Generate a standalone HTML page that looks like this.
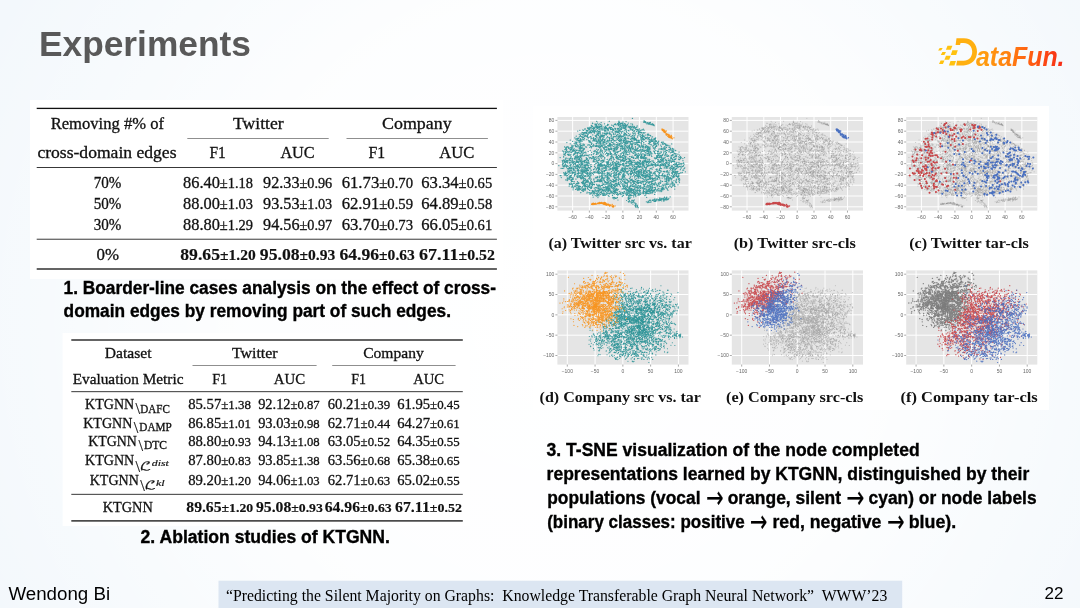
<!DOCTYPE html>
<html><head><meta charset="utf-8"><title>Experiments</title>
<style>html,body{margin:0;padding:0;background:#f3f8fc;}svg{display:block;}</style></head>
<body><svg width="1080" height="608" viewBox="0 0 1080 608">
<defs><radialGradient id="bgw" cx="560" cy="320" r="640" gradientUnits="userSpaceOnUse"><stop offset="0" stop-color="#ffffff"/><stop offset="0.5" stop-color="#ffffff" stop-opacity="0.85"/><stop offset="1" stop-color="#ffffff" stop-opacity="0"/></radialGradient><linearGradient id="lg" x1="0" y1="0" x2="1" y2="0"><stop offset="0" stop-color="#ffa410"/><stop offset="0.35" stop-color="#ff8210"/><stop offset="0.55" stop-color="#ff6612"/><stop offset="0.8" stop-color="#fc4514"/><stop offset="1" stop-color="#f52a18"/></linearGradient></defs>
<rect width="1080" height="608" fill="#f3f8fc"/>
<rect width="1080" height="608" fill="url(#bgw)"/>
<text x="39.00" y="56.40" font-family="'Liberation Sans', sans-serif" font-size="34.5" font-weight="bold" fill="#595959" textLength="211.90" lengthAdjust="spacingAndGlyphs">Experiments</text>
<polygon points="947.5,45.8 952.4,45.8 950.8,49.7 945.9,49.7" fill="#ffc20f"/>
<polygon points="939.7,47.9 942.7,47.9 941.1,50.6 938.1,50.6" fill="#ffc20f"/>
<polygon points="952.4,50.3 957.8,50.3 956.2,54.9 950.8,54.9" fill="#ffc20f"/>
<polygon points="942.4,51.9 946.0,51.9 944.4,54.9 940.8,54.9" fill="#ffc20f"/>
<polygon points="946.0,55.8 950.8,55.8 949.2,59.7 944.4,59.7" fill="#ffc20f"/>
<polygon points="940.6,60.6 944.5,60.6 942.9,63.9 939.0,63.9" fill="#ffc20f"/>
<polygon points="950.5,60.9 956.0,60.9 954.4,65.4 948.9,65.4" fill="#ffc20f"/>
<path d="M956.5,38.3 H964 C972,38.3 977,44.5 977,51.8 C977,59.5 971.5,65.4 963.5,65.4 H956.2 L957,60.8 H963.8 C968.8,60.8 972.2,57 972.2,51.8 C972.2,46.6 968.8,43 963.8,43 H960.6 L960,45 H955.6 Z" fill="#ffb010"/>
<text x="976" y="65.8" font-family="'Liberation Sans', sans-serif" font-size="27.5" font-weight="bold" font-style="italic" fill="url(#lg)" textLength="88.5" lengthAdjust="spacingAndGlyphs">ataFun.</text>
<rect x="30" y="100" width="473" height="179" fill="#ffffff"/>
<rect x="36.70" y="107.75" width="460.20" height="1.30" fill="#111"/>
<rect x="187.30" y="138.10" width="141.40" height="0.60" fill="#444"/>
<rect x="346.50" y="138.10" width="141.40" height="0.60" fill="#444"/>
<rect x="36.70" y="167.05" width="460.20" height="0.90" fill="#222"/>
<rect x="36.70" y="238.75" width="460.20" height="0.90" fill="#222"/>
<rect x="36.70" y="268.35" width="460.20" height="1.30" fill="#111"/>
<text x="50.70" y="128.60" font-family="'Liberation Serif', serif" font-size="16" fill="#111" textLength="113.30" lengthAdjust="spacingAndGlyphs" stroke="#111" stroke-width="0.3">Removing #% of</text>
<text x="233.10" y="128.70" font-family="'Liberation Serif', serif" font-size="16" fill="#111" textLength="50.60" lengthAdjust="spacingAndGlyphs" stroke="#111" stroke-width="0.3">Twitter</text>
<text x="382.10" y="128.70" font-family="'Liberation Serif', serif" font-size="16" fill="#111" textLength="69.50" lengthAdjust="spacingAndGlyphs" stroke="#111" stroke-width="0.3">Company</text>
<text x="37.40" y="157.70" font-family="'Liberation Serif', serif" font-size="16" fill="#111" textLength="139.10" lengthAdjust="spacingAndGlyphs" stroke="#111" stroke-width="0.3">cross-domain edges</text>
<text x="209.50" y="157.70" font-family="'Liberation Serif', serif" font-size="16" fill="#111" textLength="16.30" lengthAdjust="spacingAndGlyphs" stroke="#111" stroke-width="0.3">F1</text>
<text x="280.40" y="157.70" font-family="'Liberation Serif', serif" font-size="16" fill="#111" textLength="34.30" lengthAdjust="spacingAndGlyphs" stroke="#111" stroke-width="0.3">AUC</text>
<text x="368.40" y="157.70" font-family="'Liberation Serif', serif" font-size="16" fill="#111" textLength="16.60" lengthAdjust="spacingAndGlyphs" stroke="#111" stroke-width="0.3">F1</text>
<text x="439.30" y="157.70" font-family="'Liberation Serif', serif" font-size="16" fill="#111" textLength="35.10" lengthAdjust="spacingAndGlyphs" stroke="#111" stroke-width="0.3">AUC</text>
<text x="93.80" y="187.90" font-family="'Liberation Serif', serif" font-size="16" fill="#111" textLength="27.60" lengthAdjust="spacingAndGlyphs" stroke="#111" stroke-width="0.3">70%</text>
<text x="183.00" y="187.90" font-family="'Liberation Serif', serif" font-size="16" font-weight="normal" fill="#111" stroke="#111" stroke-width="0.3" textLength="70.00" lengthAdjust="spacingAndGlyphs">86.40<tspan font-size="14.08">±1.18</tspan></text>
<text x="263.10" y="187.90" font-family="'Liberation Serif', serif" font-size="16" font-weight="normal" fill="#111" stroke="#111" stroke-width="0.3" textLength="69.10" lengthAdjust="spacingAndGlyphs">92.33<tspan font-size="14.08">±0.96</tspan></text>
<text x="341.70" y="187.90" font-family="'Liberation Serif', serif" font-size="16" font-weight="normal" fill="#111" stroke="#111" stroke-width="0.3" textLength="71.30" lengthAdjust="spacingAndGlyphs">61.73<tspan font-size="14.08">±0.70</tspan></text>
<text x="421.30" y="187.90" font-family="'Liberation Serif', serif" font-size="16" font-weight="normal" fill="#111" stroke="#111" stroke-width="0.3" textLength="70.90" lengthAdjust="spacingAndGlyphs">63.34<tspan font-size="14.08">±0.65</tspan></text>
<text x="93.80" y="208.90" font-family="'Liberation Serif', serif" font-size="16" fill="#111" textLength="27.60" lengthAdjust="spacingAndGlyphs" stroke="#111" stroke-width="0.3">50%</text>
<text x="183.00" y="208.90" font-family="'Liberation Serif', serif" font-size="16" font-weight="normal" fill="#111" stroke="#111" stroke-width="0.3" textLength="70.00" lengthAdjust="spacingAndGlyphs">88.00<tspan font-size="14.08">±1.03</tspan></text>
<text x="263.10" y="208.90" font-family="'Liberation Serif', serif" font-size="16" font-weight="normal" fill="#111" stroke="#111" stroke-width="0.3" textLength="69.10" lengthAdjust="spacingAndGlyphs">93.53<tspan font-size="14.08">±1.03</tspan></text>
<text x="341.70" y="208.90" font-family="'Liberation Serif', serif" font-size="16" font-weight="normal" fill="#111" stroke="#111" stroke-width="0.3" textLength="71.30" lengthAdjust="spacingAndGlyphs">62.91<tspan font-size="14.08">±0.59</tspan></text>
<text x="421.30" y="208.90" font-family="'Liberation Serif', serif" font-size="16" font-weight="normal" fill="#111" stroke="#111" stroke-width="0.3" textLength="70.90" lengthAdjust="spacingAndGlyphs">64.89<tspan font-size="14.08">±0.58</tspan></text>
<text x="93.80" y="229.70" font-family="'Liberation Serif', serif" font-size="16" fill="#111" textLength="27.60" lengthAdjust="spacingAndGlyphs" stroke="#111" stroke-width="0.3">30%</text>
<text x="183.00" y="229.70" font-family="'Liberation Serif', serif" font-size="16" font-weight="normal" fill="#111" stroke="#111" stroke-width="0.3" textLength="70.00" lengthAdjust="spacingAndGlyphs">88.80<tspan font-size="14.08">±1.29</tspan></text>
<text x="263.10" y="229.70" font-family="'Liberation Serif', serif" font-size="16" font-weight="normal" fill="#111" stroke="#111" stroke-width="0.3" textLength="69.10" lengthAdjust="spacingAndGlyphs">94.56<tspan font-size="14.08">±0.97</tspan></text>
<text x="341.70" y="229.70" font-family="'Liberation Serif', serif" font-size="16" font-weight="normal" fill="#111" stroke="#111" stroke-width="0.3" textLength="71.30" lengthAdjust="spacingAndGlyphs">63.70<tspan font-size="14.08">±0.73</tspan></text>
<text x="421.30" y="229.70" font-family="'Liberation Serif', serif" font-size="16" font-weight="normal" fill="#111" stroke="#111" stroke-width="0.3" textLength="70.90" lengthAdjust="spacingAndGlyphs">66.05<tspan font-size="14.08">±0.61</tspan></text>
<text x="96.60" y="259.50" font-family="'Liberation Serif', serif" font-size="16" fill="#111" textLength="22.50" lengthAdjust="spacingAndGlyphs" stroke="#111" stroke-width="0.3">0%</text>
<text x="180.30" y="259.50" font-family="'Liberation Serif', serif" font-size="16" font-weight="bold" fill="#111" stroke="#111" stroke-width="0.15" textLength="75.40" lengthAdjust="spacingAndGlyphs">89.65<tspan font-size="14.08">±1.20</tspan></text>
<text x="259.80" y="259.50" font-family="'Liberation Serif', serif" font-size="16" font-weight="bold" fill="#111" stroke="#111" stroke-width="0.15" textLength="75.50" lengthAdjust="spacingAndGlyphs">95.08<tspan font-size="14.08">±0.93</tspan></text>
<text x="339.40" y="259.50" font-family="'Liberation Serif', serif" font-size="16" font-weight="bold" fill="#111" stroke="#111" stroke-width="0.15" textLength="75.40" lengthAdjust="spacingAndGlyphs">64.96<tspan font-size="14.08">±0.63</tspan></text>
<text x="418.90" y="259.50" font-family="'Liberation Serif', serif" font-size="16" font-weight="bold" fill="#111" stroke="#111" stroke-width="0.15" textLength="76.00" lengthAdjust="spacingAndGlyphs">67.11<tspan font-size="14.08">±0.52</tspan></text>
<text x="63.60" y="294.40" font-family="'Liberation Sans', sans-serif" font-size="18" font-weight="bold" fill="#000" textLength="432.40" lengthAdjust="spacingAndGlyphs" stroke="#000" stroke-width="0.35">1. Boarder-line cases analysis on the effect of cross-</text>
<text x="63.60" y="317.10" font-family="'Liberation Sans', sans-serif" font-size="18" font-weight="bold" fill="#000" textLength="387.40" lengthAdjust="spacingAndGlyphs" stroke="#000" stroke-width="0.35">domain edges by removing part of such edges.</text>
<rect x="62.6" y="333" width="407.4" height="193" fill="#ffffff"/>
<rect x="71.30" y="339.35" width="391.50" height="1.30" fill="#111"/>
<rect x="192.50" y="365.30" width="124.10" height="0.60" fill="#444"/>
<rect x="332.20" y="365.30" width="123.40" height="0.60" fill="#444"/>
<rect x="71.30" y="391.25" width="391.50" height="0.90" fill="#222"/>
<rect x="71.30" y="493.85" width="391.50" height="0.90" fill="#222"/>
<rect x="71.30" y="520.25" width="391.50" height="1.30" fill="#111"/>
<text x="104.70" y="357.60" font-family="'Liberation Serif', serif" font-size="15" fill="#111" textLength="46.80" lengthAdjust="spacingAndGlyphs" stroke="#111" stroke-width="0.3">Dataset</text>
<text x="231.90" y="357.80" font-family="'Liberation Serif', serif" font-size="15" fill="#111" textLength="45.70" lengthAdjust="spacingAndGlyphs" stroke="#111" stroke-width="0.3">Twitter</text>
<text x="363.20" y="357.80" font-family="'Liberation Serif', serif" font-size="15" fill="#111" textLength="60.60" lengthAdjust="spacingAndGlyphs" stroke="#111" stroke-width="0.3">Company</text>
<text x="72.70" y="383.70" font-family="'Liberation Serif', serif" font-size="15" fill="#111" textLength="110.80" lengthAdjust="spacingAndGlyphs" stroke="#111" stroke-width="0.3">Evaluation Metric</text>
<text x="212.20" y="383.70" font-family="'Liberation Serif', serif" font-size="15" fill="#111" textLength="14.80" lengthAdjust="spacingAndGlyphs" stroke="#111" stroke-width="0.3">F1</text>
<text x="273.80" y="383.70" font-family="'Liberation Serif', serif" font-size="15" fill="#111" textLength="31.30" lengthAdjust="spacingAndGlyphs" stroke="#111" stroke-width="0.3">AUC</text>
<text x="351.30" y="383.70" font-family="'Liberation Serif', serif" font-size="15" fill="#111" textLength="14.70" lengthAdjust="spacingAndGlyphs" stroke="#111" stroke-width="0.3">F1</text>
<text x="413.20" y="383.70" font-family="'Liberation Serif', serif" font-size="15" fill="#111" textLength="30.90" lengthAdjust="spacingAndGlyphs" stroke="#111" stroke-width="0.3">AUC</text>
<text x="85.10" y="409.40" font-family="'Liberation Serif', serif" font-size="15.4" fill="#111" textLength="49.10" lengthAdjust="spacingAndGlyphs" stroke="#111" stroke-width="0.3">KTGNN</text>
<text x="135.60" y="414.20" font-family="'Liberation Serif', serif" font-size="16.5" fill="#111" stroke="#111" stroke-width="0.15">\</text>
<text x="140.20" y="412.60" font-family="'Liberation Serif', serif" font-size="11.5" fill="#111" textLength="29.60" lengthAdjust="spacingAndGlyphs" stroke="#111" stroke-width="0.3">DAFC</text>
<text x="83.20" y="427.60" font-family="'Liberation Serif', serif" font-size="15.4" fill="#111" textLength="49.10" lengthAdjust="spacingAndGlyphs" stroke="#111" stroke-width="0.3">KTGNN</text>
<text x="133.70" y="432.80" font-family="'Liberation Serif', serif" font-size="16.5" fill="#111" stroke="#111" stroke-width="0.15">\</text>
<text x="139.30" y="430.80" font-family="'Liberation Serif', serif" font-size="11.5" fill="#111" textLength="32.40" lengthAdjust="spacingAndGlyphs" stroke="#111" stroke-width="0.3">DAMP</text>
<text x="88.30" y="445.90" font-family="'Liberation Serif', serif" font-size="15.4" fill="#111" textLength="48.60" lengthAdjust="spacingAndGlyphs" stroke="#111" stroke-width="0.3">KTGNN</text>
<text x="138.40" y="451.00" font-family="'Liberation Serif', serif" font-size="16.5" fill="#111" stroke="#111" stroke-width="0.15">\</text>
<text x="143.90" y="449.10" font-family="'Liberation Serif', serif" font-size="11.5" fill="#111" textLength="23.10" lengthAdjust="spacingAndGlyphs" stroke="#111" stroke-width="0.3">DTC</text>
<text x="85.10" y="464.80" font-family="'Liberation Serif', serif" font-size="15.4" fill="#111" textLength="49.10" lengthAdjust="spacingAndGlyphs" stroke="#111" stroke-width="0.3">KTGNN</text>
<text x="135.60" y="471.60" font-family="'Liberation Serif', serif" font-size="16.5" fill="#111" stroke="#111" stroke-width="0.15">\</text>
<text x="139.87" y="469.66" font-family="'DejaVu Math TeX Gyre', 'DejaVu Sans', serif" font-size="11.2" fill="#111" textLength="11.75" lengthAdjust="spacingAndGlyphs" stroke="#111" stroke-width="0.2">ℒ</text>
<text x="151.80" y="465.70" font-family="'Liberation Serif', serif" font-size="8" font-style="italic" fill="#111" textLength="17.10" lengthAdjust="spacingAndGlyphs" stroke="#111" stroke-width="0.15">dist</text>
<text x="89.70" y="484.70" font-family="'Liberation Serif', serif" font-size="15.4" fill="#111" textLength="49.10" lengthAdjust="spacingAndGlyphs" stroke="#111" stroke-width="0.3">KTGNN</text>
<text x="140.20" y="491.00" font-family="'Liberation Serif', serif" font-size="16.5" fill="#111" stroke="#111" stroke-width="0.15">\</text>
<text x="144.47" y="489.06" font-family="'DejaVu Math TeX Gyre', 'DejaVu Sans', serif" font-size="11.2" fill="#111" textLength="11.75" lengthAdjust="spacingAndGlyphs" stroke="#111" stroke-width="0.2">ℒ</text>
<text x="155.90" y="485.60" font-family="'Liberation Serif', serif" font-size="8" font-style="italic" fill="#111" textLength="8.80" lengthAdjust="spacingAndGlyphs" stroke="#111" stroke-width="0.15">kl</text>
<text x="102.70" y="511.80" font-family="'Liberation Serif', serif" font-size="15.4" fill="#111" textLength="50.10" lengthAdjust="spacingAndGlyphs" stroke="#111" stroke-width="0.3">KTGNN</text>
<text x="188.15" y="409.20" font-family="'Liberation Serif', serif" font-size="15" font-weight="normal" fill="#111" stroke="#111" stroke-width="0.3" textLength="62.85" lengthAdjust="spacingAndGlyphs">85.57<tspan font-size="13.20">±1.38</tspan></text>
<text x="258.15" y="409.20" font-family="'Liberation Serif', serif" font-size="15" font-weight="normal" fill="#111" stroke="#111" stroke-width="0.3" textLength="61.55" lengthAdjust="spacingAndGlyphs">92.12<tspan font-size="13.20">±0.87</tspan></text>
<text x="327.80" y="409.20" font-family="'Liberation Serif', serif" font-size="15" font-weight="normal" fill="#111" stroke="#111" stroke-width="0.3" textLength="62.30" lengthAdjust="spacingAndGlyphs">60.21<tspan font-size="13.20">±0.39</tspan></text>
<text x="397.20" y="409.20" font-family="'Liberation Serif', serif" font-size="15" font-weight="normal" fill="#111" stroke="#111" stroke-width="0.3" textLength="62.50" lengthAdjust="spacingAndGlyphs">61.95<tspan font-size="13.20">±0.45</tspan></text>
<text x="188.15" y="427.70" font-family="'Liberation Serif', serif" font-size="15" font-weight="normal" fill="#111" stroke="#111" stroke-width="0.3" textLength="62.85" lengthAdjust="spacingAndGlyphs">86.85<tspan font-size="13.20">±1.01</tspan></text>
<text x="258.15" y="427.70" font-family="'Liberation Serif', serif" font-size="15" font-weight="normal" fill="#111" stroke="#111" stroke-width="0.3" textLength="61.55" lengthAdjust="spacingAndGlyphs">93.03<tspan font-size="13.20">±0.98</tspan></text>
<text x="327.80" y="427.70" font-family="'Liberation Serif', serif" font-size="15" font-weight="normal" fill="#111" stroke="#111" stroke-width="0.3" textLength="62.30" lengthAdjust="spacingAndGlyphs">62.71<tspan font-size="13.20">±0.44</tspan></text>
<text x="397.20" y="427.70" font-family="'Liberation Serif', serif" font-size="15" font-weight="normal" fill="#111" stroke="#111" stroke-width="0.3" textLength="62.50" lengthAdjust="spacingAndGlyphs">64.27<tspan font-size="13.20">±0.61</tspan></text>
<text x="188.15" y="446.10" font-family="'Liberation Serif', serif" font-size="15" font-weight="normal" fill="#111" stroke="#111" stroke-width="0.3" textLength="62.85" lengthAdjust="spacingAndGlyphs">88.80<tspan font-size="13.20">±0.93</tspan></text>
<text x="258.15" y="446.10" font-family="'Liberation Serif', serif" font-size="15" font-weight="normal" fill="#111" stroke="#111" stroke-width="0.3" textLength="61.55" lengthAdjust="spacingAndGlyphs">94.13<tspan font-size="13.20">±1.08</tspan></text>
<text x="327.80" y="446.10" font-family="'Liberation Serif', serif" font-size="15" font-weight="normal" fill="#111" stroke="#111" stroke-width="0.3" textLength="62.30" lengthAdjust="spacingAndGlyphs">63.05<tspan font-size="13.20">±0.52</tspan></text>
<text x="397.20" y="446.10" font-family="'Liberation Serif', serif" font-size="15" font-weight="normal" fill="#111" stroke="#111" stroke-width="0.3" textLength="62.50" lengthAdjust="spacingAndGlyphs">64.35<tspan font-size="13.20">±0.55</tspan></text>
<text x="188.15" y="464.90" font-family="'Liberation Serif', serif" font-size="15" font-weight="normal" fill="#111" stroke="#111" stroke-width="0.3" textLength="62.85" lengthAdjust="spacingAndGlyphs">87.80<tspan font-size="13.20">±0.83</tspan></text>
<text x="258.15" y="464.90" font-family="'Liberation Serif', serif" font-size="15" font-weight="normal" fill="#111" stroke="#111" stroke-width="0.3" textLength="61.55" lengthAdjust="spacingAndGlyphs">93.85<tspan font-size="13.20">±1.38</tspan></text>
<text x="327.80" y="464.90" font-family="'Liberation Serif', serif" font-size="15" font-weight="normal" fill="#111" stroke="#111" stroke-width="0.3" textLength="62.30" lengthAdjust="spacingAndGlyphs">63.56<tspan font-size="13.20">±0.68</tspan></text>
<text x="397.20" y="464.90" font-family="'Liberation Serif', serif" font-size="15" font-weight="normal" fill="#111" stroke="#111" stroke-width="0.3" textLength="62.50" lengthAdjust="spacingAndGlyphs">65.38<tspan font-size="13.20">±0.65</tspan></text>
<text x="188.15" y="484.50" font-family="'Liberation Serif', serif" font-size="15" font-weight="normal" fill="#111" stroke="#111" stroke-width="0.3" textLength="62.85" lengthAdjust="spacingAndGlyphs">89.20<tspan font-size="13.20">±1.20</tspan></text>
<text x="258.15" y="484.50" font-family="'Liberation Serif', serif" font-size="15" font-weight="normal" fill="#111" stroke="#111" stroke-width="0.3" textLength="61.55" lengthAdjust="spacingAndGlyphs">94.06<tspan font-size="13.20">±1.03</tspan></text>
<text x="327.80" y="484.50" font-family="'Liberation Serif', serif" font-size="15" font-weight="normal" fill="#111" stroke="#111" stroke-width="0.3" textLength="62.30" lengthAdjust="spacingAndGlyphs">62.71<tspan font-size="13.20">±0.63</tspan></text>
<text x="397.20" y="484.50" font-family="'Liberation Serif', serif" font-size="15" font-weight="normal" fill="#111" stroke="#111" stroke-width="0.3" textLength="62.50" lengthAdjust="spacingAndGlyphs">65.02<tspan font-size="13.20">±0.55</tspan></text>
<text x="186.30" y="511.80" font-family="'Liberation Serif', serif" font-size="15" font-weight="bold" fill="#111" stroke="#111" stroke-width="0.15" textLength="66.90" lengthAdjust="spacingAndGlyphs">89.65<tspan font-size="13.20">±1.20</tspan></text>
<text x="256.00" y="511.80" font-family="'Liberation Serif', serif" font-size="15" font-weight="bold" fill="#111" stroke="#111" stroke-width="0.15" textLength="66.90" lengthAdjust="spacingAndGlyphs">95.08<tspan font-size="13.20">±0.93</tspan></text>
<text x="324.70" y="511.80" font-family="'Liberation Serif', serif" font-size="15" font-weight="bold" fill="#111" stroke="#111" stroke-width="0.15" textLength="67.00" lengthAdjust="spacingAndGlyphs">64.96<tspan font-size="13.20">±0.63</tspan></text>
<text x="395.00" y="511.80" font-family="'Liberation Serif', serif" font-size="15" font-weight="bold" fill="#111" stroke="#111" stroke-width="0.15" textLength="66.95" lengthAdjust="spacingAndGlyphs">67.11<tspan font-size="13.20">±0.52</tspan></text>
<text x="140.60" y="543.10" font-family="'Liberation Sans', sans-serif" font-size="18" font-weight="bold" fill="#000" textLength="249.30" lengthAdjust="spacingAndGlyphs" stroke="#000" stroke-width="0.35">2. Ablation studies of KTGNN.</text>
<rect x="533" y="106" width="516" height="304" fill="#ffffff"/>
<defs><g transform="scale(0.1)"><path id="pM" d="M6324 1184h1m-358 30h1m43 11h1m80-12h1m94 9h1m1-3h1m-1-7h1m3 12h1m-1-1h1m35-5h1m30-2h1m110 43h1m-45-8h1m-4-10h1m-16-3h1m-28-7h1m-7 15h1m-7 6h1m-9-2h1m-6 7h1m-2-4h1m-4-13h1m-5 8h1m-4 10h1m-2-23h1m-2 24h1m-6-9h1m-6-2h1m-4-18h1m-3 25h1m-2-8h1m-3 10h1m-1-26h1m-2 3h1m-3 23h1m-1-17h1m-8-8h1m-4 1h1m-5 21h1m-3-13h1m-2 18h1m-7-19h1m-1-8h1m-6 14h1m-6 4h1m-5-17h1m-1 23h1m-4-14h1m-2 15h1m-5-13h1m-3-7h1m-16 12h1m-5-7h1m-3 2h1m-5-6h1m-2 3h1m-5 2h1m-3 3h1m-14 8h1m-16-3h1m-32-3h1m-11-5h1m-3 11h1m-5 2h1m-25-18h1m-28 12h1m-13-4h1m-10-8h1m-10 21h1m-3-16h1m-12-13h1m-10 17h1m-2-3h1m-2 13h1m-5-18h1m-8 6h1m-2 7h1m-1-1h1m-5-11h1m-22-5h1m-4-3h1m-12 22h1m-64 33h1m24-9h1m-1 2h1m1 4h1m0 2h1m3-8h1m3 10h1m3-8h1m3 1h1m0 1h1m2-1h1m0-9h1m9 8h1m1-5h1m5-10h1m4 21h1m1-24h1m6 10h1m1 14h1m2-8h1m4 0h1m2-3h1m0 5h1m0 4h1m2-14h1m2-5h1m4 6h1m7-4h1m0 10h1m0-2h1m3 11h1m0-10h1m0-14h1m0 22h1m0-18h1m7 8h1m3 3h1m-1-3h1m3-12h1m4 5h1m1-4h1m-1 14h1m4-13h1m-1 17h1m9-14h1m-1-6h1m2 26h1m0-16h1m10 17h1m1-19h1m12 18h1m1-12h1m0 0h1m4-1h1m0-12h1m-1 4h1m1 17h1m-1-6h1m-1 4h1m1-17h1m1 21h1m0-13h1m3 2h1m1 9h1m3-3h1m4 9h1m2-4h1m8-4h1m2 1h1m5-10h1m2 6h1m6 9h1m1-14h1m7 2h1m10 10h1m8-21h1m12 18h1m0 2h1m6 1h1m17-1h1m8-1h1m0 2h1m12-9h1m-1 5h1m0-17h1m1 14h1m7-15h1m3 24h1m2-14h1m1 4h1m1-7h1m8 12h1m2-14h1m0 3h1m0 10h1m0-4h1m1-17h1m4 26h1m2-8h1m2 5h1m2-8h1m-1-6h1m-1 14h1m1-7h1m0-16h1m0 5h1m4 12h1m7-14h1m-1-1h1m14 10h1m5-1h1m-1-9h1m1 6h1m-1 2h1m1-6h1m2 10h1m0 4h1m3 4h1m4-18h1m2 25h1m-1-21h1m1-3h1m-1-5h1m0 18h1m7-7h1m5-6h1m6 13h1m1-7h1m-1 6h1m7-13h1m1 3h1m2 8h1m0 7h1m1 2h1m5-5h1m0-2h1m4-2h1m5-5h1m25 18h1m45 14h1m-8-12h1m-10 8h1m-13 2h1m-3 1h1m-7 6h1m-8 6h1m-5-21h1m-1 17h1m-4-17h1m-5 18h1m-8-6h1m-2 7h1m-2-15h1m-2-3h1m-9 4h1m-5 16h1m-6-19h1m-3 3h1m-14 11h1m-2-3h1m-4 10h1m-4 2h1m-9-25h1m-3 13h1m-1-8h1m-11 1h1m-16 0h1m-14 11h1m-8-5h1m-19-4h1m-1 15h1m-6-25h1m-7 3h1m-6 14h1m-20 3h1m-4 6h1m-12-22h1m-3 25h1m-4-4h1m-5-3h1m-3-21h1m-6 7h1m-4 4h1m-2-3h1m-2 11h1m-1 2h1m-2-10h1m-6 7h1m-3 8h1m-5-19h1m-3-1h1m-4 21h1m-5-20h1m-3 17h1m-11-7h1m-3 6h1m-6-19h1m-5 22h1m-12-15h1m-5-8h1m-6 12h1m-3-11h1m-3 13h1m-7 5h1m-5-19h1m-3 0h1m-10 1h1m-7 23h1m-16-16h1m-2-5h1m-2 2h1m-4-3h1m-2 13h1m-6-12h1m-5-6h1m-9 28h1m-3-13h1m-4 3h1m-2-2h1m-4-8h1m-8 11h1m-6-9h1m-2-2h1m-20 3h1m-2-6h1m-19 17h1m-1-14h1m-6-7h1m-7 20h1m-1 3h1m-1 4h1m-2-2h1m-4-27h1m-8 20h1m-6-4h1m-10 12h1m-6-23h1m-4 16h1m-10-7h1m-2 11h1m-1 2h1m-7 0h1m-2-16h1m-1 15h1m-6-24h1m-5 8h1m-1 4h1m-3 9h1m-7 2h1m-1 2h1m-2-6h1m-7-8h1m-6-5h1m-7 14h1m-2-2h1m-5 7h1m-2-11h1m-1 7h1m-4-22h1m-3 3h1m-2 0h1m-7 0h1m-7 6h1m-2 3h1m-9 4h1m-2 8h1m-8-11h1m-16-8h1m-16 7h1m-7-4h1m-31 4h1m-22 7h1m14 33h1m16-4h1m8 1h1m1-17h1m2 23h1m3-4h1m1 6h1m1-22h1m5 11h1m1 1h1m-1-4h1m3-5h1m-1 1h1m0-4h1m5-2h1m3 6h1m4 0h1m0-1h1m0-9h1m5 4h1m0 12h1m8 6h1m6-2h1m1-18h1m5 0h1m-1 10h1m6-3h1m6-6h1m0-1h1m6 6h1m2-5h1m9 26h1m4-28h1m11 9h1m-1-10h1m-1 7h1m24 21h1m-1-6h1m3-7h1m0 11h1m-1-7h1m2-18h1m8 16h1m-1-7h1m0 11h1m13-13h1m-1-2h1m-1 8h1m1 14h1m24-20h1m0 9h1m15-5h1m1 6h1m6 2h1m4-7h1m4 9h1m5-11h1m5-2h1m-1 8h1m13-6h1m4 10h1m1-20h1m2 14h1m1 4h1m3 2h1m4 8h1m1 0h1m7-26h1m11 17h1m0 1h1m1-11h1m2 17h1m12-26h1m0 20h1m0-3h1m8-16h1m7 26h1m3-23h1m2 22h1m7-20h1m1-4h1m6 10h1m8 16h1m11-19h1m20 16h1m2-17h1m0 14h1m3 0h1m0-12h1m6 4h1m2 0h1m1 8h1m3 4h1m3-2h1m1-22h1m15 13h1m16 4h1m23-11h1m9 10h1m6-7h1m10 16h1m0-18h1m25 0h1m4-7h1m-1 12h1m2 13h1m3-19h1m6-6h1m1 25h1m0-5h1m6-16h1m7-3h1m1 1h1m0 5h1m4 15h1m9-19h1m3 10h1m9-10h1m24 21h1m1-7h1m7 0h1m71 39h1m-32-11h1m-17-8h1m-6-4h1m-8-4h1m-4 25h1m-9 1h1m-3-26h1m-9-2h1m-2 22h1m-5 1h1m-4 2h1m-12 4h1m-1-28h1m-9 23h1m-8-12h1m-5 0h1m-4 4h1m-5 1h1m-2-11h1m-5 12h1m-2-16h1m-1 21h1m-5-15h1m-5-5h1m-2 21h1m-11-4h1m-2-3h1m-6-7h1m-23-2h1m-5 14h1m-31 0h1m-3-17h1m-2 15h1m-12-10h1m-1 1h1m-8-8h1m-2 2h1m-9 13h1m-7-2h1m-13-15h1m-6 6h1m-2-1h1m-12 3h1m-14-7h1m-10 23h1m-1 4h1m-6-7h1m-4-16h1m-8 21h1m-5-22h1m-3 5h1m-2 3h1m-9-2h1m-5 6h1m-5-5h1m-1-2h1m-3 8h1m-2 4h1m-2-11h1m-12 1h1m-4 7h1m-4 5h1m-4-12h1m-1 7h1m-5-18h1m-5 9h1m-5 10h1m-7-2h1m-10-15h1m-4 0h1m-2 8h1m-11 6h1m-10-2h1m-10 3h1m-4 5h1m-1-8h1m-5 12h1m-15-9h1m-2-15h1m-6 15h1m-16 7h1m-6 2h1m-15-8h1m-2-4h1m-9 14h1m-6-29h1m-18 3h1m-5 17h1m-2-11h1m-3-4h1m-7 16h1m-6-9h1m-1-11h1m-2 2h1m-1 11h1m-7-1h1m-2-8h1m-6-3h1m-3 7h1m-2 9h1m-3-16h1m-1 14h1m-2 9h1m-2-7h1m-4 2h1m-5-4h1m-3 1h1m-7 6h1m-6-19h1m-5 3h1m-12 22h1m-6-9h1m-3-19h1m-1 10h1m-8 3h1m-6-7h1m-18 19h1m-25 2h1m-4-13h1m-8 1h1m-13 8h1m-16-13h1m-1 11h1m-1-18h1m-2 12h1m-13-3h1m-3-7h1m-3 0h1m-3 5h1m-3-9h1m-11 15h1m-2-3h1m-3-14h1m-5 23h1m-6 3h1m-9 1h1m-3-10h1m-10-2h1m-10-11h1m-4 9h1m-10 7h1m-30-8h1m-15 17h1m-47 21h1m54-10h1m9 11h1m0-14h1m2 0h1m2 9h1m3 4h1m0-18h1m1 27h1m1-2h1m3-22h1m0 18h1m5 1h1m3 3h1m2 1h1m0-12h1m1 7h1m-1-16h1m0 19h1m4-5h1m9-6h1m6-15h1m5 15h1m5 4h1m4-14h1m23 11h1m13-15h1m3 22h1m11 5h1m10-20h1m4-6h1m12 27h1m0 0h1m-1 0h1m1-25h1m3 12h1m0-14h1m-1 0h1m1 23h1m0-8h1m2-9h1m3 11h1m4 9h1m0 1h1m0-14h1m1-10h1m1-2h1m6 26h1m2-11h1m14 3h1m-1 5h1m1-8h1m1 8h1m1-17h1m0 18h1m0-1h1m2 1h1m2-16h1m6-11h1m-1 6h1m1-3h1m1 14h1m1 2h1m3 10h1m7-10h1m0 4h1m1 4h1m3-24h1m0 10h1m-1-1h1m3 0h1m10 4h1m0 8h1m11-13h1m1 18h1m15-9h1m5 8h1m11-4h1m1 3h1m0-15h1m0-10h1m12 25h1m-1-2h1m2-22h1m1 23h1m6-4h1m-1-12h1m2-7h1m5-2h1m2 13h1m2 15h1m4-3h1m0 1h1m7 0h1m11-7h1m0-20h1m10 15h1m4-9h1m2-6h1m1 4h1m0 20h1m4-3h1m6 2h1m1-13h1m1 18h1m-1-16h1m0-7h1m5 15h1m3 0h1m-1-2h1m0 7h1m1-11h1m4-8h1m8 18h1m3 4h1m3-10h1m0 4h1m1-17h1m7 19h1m0-19h1m-1 4h1m3 9h1m-1-7h1m6 1h1m-1-5h1m7 19h1m7-24h1m3-2h1m6 6h1m16 7h1m7-8h1m5 15h1m-1 8h1m3-20h1m0-7h1m3 6h1m3-3h1m6 7h1m0 3h1m0 12h1m0 0h1m2-22h1m3 0h1m0 6h1m2 7h1m2 0h1m1-9h1m-1 2h1m1 4h1m3 11h1m4-3h1m0 1h1m12 4h1m7-6h1m18-9h1m0-1h1m-1-5h1m2 16h1m5-13h1m4-1h1m3 6h1m-1-1h1m0-9h1m2 15h1m4-10h1m6 8h1m9-12h1m7 1h1m15 4h1m1-4h1m1 6h1m0-7h1m11 8h1m2 6h1m9 0h1m2 1h1m2 2h1m2-21h1m-1 12h1m-1 13h1m0-1h1m2-5h1m9-1h1m9-10h1m-1-6h1m2 15h1m4-4h1m3-9h1m1 24h1m1-6h1m3 2h1m155 34h1m-62 0h1m-10-1h1m-4-4h1m-3 3h1m-2-1h1m-9-14h1m-6 0h1m-6 15h1m-7-15h1m-4 2h1m-28-14h1m-2 7h1m-5 21h1m-2-16h1m-5 2h1m-8 10h1m-5-18h1m-3 1h1m-6 21h1m-7-2h1m-2-5h1m-2-16h1m-3 12h1m-2-13h1m-10 19h1m-3 1h1m-1-11h1m-7-12h1m-4 3h1m-13 2h1m-5-2h1m-10 11h1m-3-14h1m-3 14h1m-6 4h1m-2-13h1m-2 10h1m-5-14h1m-5 24h1m-26-22h1m-23 10h1m-16-10h1m-4-4h1m-5 8h1m-3 18h1m-2-7h1m-16-5h1m-6 1h1m-11-5h1m-13 10h1m-2-2h1m-3-6h1m-6 6h1m-2 3h1m-5 0h1m-7-4h1m-2-1h1m-11 6h1m-5-2h1m-10-12h1m-6 19h1m-2-21h1m-2 18h1m-7-23h1m-5 4h1m-2-1h1m-2 25h1m-5-2h1m-4-13h1m-2 4h1m-2-7h1m-2-5h1m-8-1h1m-6 3h1m-5-8h1m-3 5h1m-4 20h1m-1-11h1m-3-3h1m-1-2h1m-5 13h1m-6-19h1m-2-3h1m-1 21h1m-4 5h1m-1-9h1m-2-3h1m-4-2h1m-3-9h1m-5 13h1m-3 9h1m-3-4h1m-2 0h1m-7-7h1m-1-12h1m-6 10h1m-5-9h1m-7 17h1m-10 8h1m-3-18h1m-7 0h1m-5 18h1m-1-1h1m-5-19h1m-8 18h1m-1 1h1m-2-23h1m-15 15h1m-16-6h1m-15-12h1m-14 19h1m-11-5h1m-4 1h1m-11-6h1m-4-1h1m-10 15h1m-9 3h1m-6-16h1m-13-2h1m-2-8h1m-9 24h1m-4-1h1m-3 5h1m-1-23h1m-4 13h1m-13-3h1m-6-13h1m-2 7h1m-6 7h1m-2-6h1m-6 13h1m-2 4h1m-3-26h1m-3-2h1m-1 18h1m-17 8h1m-2-23h1m-2 10h1m-3 2h1m-1 9h1m-1-7h1m-4-13h1m-3 21h1m-6-13h1m-7 8h1m-3-18h1m-2 20h1m-11-7h1m-1-11h1m-2 9h1m-5-1h1m-5 11h1m-6-19h1m-3 20h1m-14-24h1m-31 22h1m-3 6h1m-8-16h1m-5-3h1m-4 1h1m-4 7h1m-3-10h1m-5-5h1m-6 6h1m-67-7h1m-13 1h1m-4 20h1m-10-16h1m-3 7h1m-5-3h1m-3 2h1m-21 3h1m-6 5h1m-1-10h1m-6 11h1m-3 5h1m-2-13h1m-1 14h1m-8-19h1m-9 15h1m-17-20h1m-25 25h1m-35-13h1m-24 44h1m24-4h1m10 3h1m34-7h1m2-11h1m4 10h1m8-2h1m14-7h1m6 15h1m1-9h1m2-16h1m3-1h1m1 27h1m9-18h1m3 6h1m-1 9h1m1-5h1m14-17h1m-1 18h1m4 7h1m2-18h1m-1 18h1m2-11h1m0 12h1m6-14h1m7 5h1m3-19h1m5 1h1m2 15h1m1-13h1m4 6h1m8 20h1m23-18h1m5-3h1m10 0h1m0 1h1m5 6h1m0 4h1m1 5h1m4 3h1m4-23h1m2 22h1m8-8h1m6 4h1m1-6h1m0-13h1m11 16h1m6 5h1m5-12h1m1 12h1m3-13h1m2 15h1m0-7h1m7 0h1m6 10h1m1-1h1m1-5h1m-1-14h1m2 3h1m9 12h1m3-15h1m5 5h1m3 10h1m0-2h1m1-12h1m4 19h1m4-17h1m3-4h1m13 11h1m-1-12h1m1 18h1m2 0h1m10 1h1m0 3h1m10-12h1m5 3h1m1-3h1m5-5h1m1-6h1m0 16h1m0-19h1m0 7h1m0-9h1m6 4h1m0 17h1m0-18h1m0 5h1m2 2h1m0-2h1m1-2h1m7 13h1m1-5h1m6-12h1m6 23h1m3-25h1m7 1h1m0 17h1m13-13h1m-1 23h1m4-9h1m0-12h1m0 20h1m6-22h1m0-4h1m-1 17h1m9-9h1m7-4h1m2 13h1m-1 2h1m1-2h1m2 4h1m8-5h1m1 9h1m2-14h1m5 11h1m1-4h1m3 2h1m11-15h1m4 20h1m3-13h1m5 2h1m1-7h1m3 17h1m1 3h1m13-14h1m0 14h1m-1-5h1m9 3h1m2-16h1m1 5h1m-1 5h1m13-17h1m5 25h1m0-23h1m1 3h1m-1 10h1m3-7h1m3 16h1m-1-21h1m21-1h1m4 20h1m4-22h1m13 6h1m3-6h1m8 5h1m3 12h1m0 7h1m-1-18h1m2 13h1m0-7h1m0 8h1m0-11h1m0 10h1m0 6h1m0-8h1m0 6h1m14-7h1m-1-12h1m3 14h1m-1 6h1m-1-8h1m9 7h1m-1-12h1m4 7h1m1-22h1m14 5h1m1 17h1m12-6h1m0 4h1m1 7h1m10-3h1m0 3h1m11-26h1m6 28h1m6-23h1m5 3h1m14 16h1m2-11h1m9-5h1m1-6h1m0 5h1m-1-4h1m7-2h1m2 21h1m2 0h1m0-18h1m6 18h1m-1-9h1m16-6h1m22 3h1m6 12h1m9-23h1m8 2h1m16 23h1m6-20h1m0 8h1m10 0h1m-1 2h1m0 3h1m-1-9h1m11 4h1m16 6h1m38 32h1m-10-2h1m-6-5h1m-5 14h1m-15-14h1m-5 8h1m-4-17h1m-2 24h1m-10-2h1m-1-26h1m-25 3h1m-7 4h1m-6 21h1m-5-13h1m-2 11h1m-7-26h1m-2 16h1m-3-9h1m-5 3h1m-4 18h1m-11-8h1m-3-8h1m-5-1h1m-3 2h1m-2 8h1m-3 3h1m-12-7h1m-13 4h1m-31-11h1m-6-8h1m-9 19h1m-6-13h1m-3 4h1m-6-4h1m-34 4h1m-2 13h1m-6-12h1m-5-10h1m-1 22h1m-3-5h1m-5-1h1m-2-16h1m-4 5h1m-2 13h1m-1-19h1m-2 3h1m-6 9h1m-2 12h1m-1-25h1m-5-2h1m-4 0h1m-3 29h1m-9-25h1m-5 7h1m-2-8h1m-2-3h1m-16 0h1m-3 19h1m-5-15h1m-1-3h1m-8 22h1m-16 3h1m-2-18h1m-9 20h1m-16-18h1m-8 2h1m-3 5h1m-2-3h1m-2 2h1m-2 8h1m-9 3h1m-5 2h1m-3-9h1m-3-12h1m-11 19h1m-9-17h1m-7 10h1m-3 6h1m-6-13h1m-8-5h1m-8 15h1m-4 1h1m-1-10h1m-8-11h1m-3 11h1m-3-13h1m-2 8h1m-2 6h1m-4-8h1m-3 17h1m-4-4h1m-13-15h1m-2 8h1m-1-5h1m-5-8h1m-13 29h1m-2-17h1m-9 15h1m-1-1h1m-4-14h1m-1-3h1m-5 8h1m-9-7h1m-5 9h1m-2 8h1m-3-21h1m-7 9h1m-10 3h1m-1-17h1m-5 14h1m-26-11h1m-7 6h1m-2 8h1m-2-2h1m-7-2h1m-2 13h1m-2-17h1m-3 15h1m-3 4h1m-3-22h1m-8 2h1m-2 8h1m-4 12h1m-4-20h1m-1 20h1m-2-14h1m-4 1h1m-11 0h1m-16-6h1m-2 14h1m-3 2h1m-1-9h1m-2 2h1m-2-5h1m-6-6h1m-3 14h1m-8 3h1m-4-2h1m-4-8h1m-8 7h1m-2 2h1m-2-12h1m-13-7h1m-7 16h1m-4-20h1m-3 1h1m-1 25h1m-2 1h1m-3-26h1m-6 3h1m-1 1h1m-4 22h1m-3-21h1m-2 19h1m-4-12h1m-1 1h1m-4-4h1m-1 5h1m-3 1h1m-2-10h1m-26 14h1m-3 4h1m-2-4h1m-5-21h1m-8 9h1m-4-2h1m-12 20h1m-18-5h1m-53-14h1m-18-2h1m-33-5h1m-3 0h1m-20 16h1m-5 7h1m-4-4h1m-1 0h1m-8 3h1m-1-12h1m-3 2h1m-3-2h1m-8-5h1m-2-1h1m-7 11h1m-3 2h1m-1-1h1m-2 1h1m-1-16h1m-7 10h1m-4 14h1m-4-13h1m-1-11h1m-7 11h1m-12-13h1m-23 28h1m-16-9h1m-8 1h1m-10-18h1m-7 12h1m-3 9h1m-2-19h1m-2 1h1m-1 15h1m-5 1h1m-5-10h1m-4-6h1m-2 21h1m-10-8h1m-8-13h1m-5 8h1m-7-12h1m-13 25h1m-2-20h1m-5 12h1m-1 10h1m-2-17h1m-2-8h1m-3 18h1m-4-11h1m-8 16h1m-22 13h1m7 9h1m1 2h1m14-4h1m2 7h1m3-1h1m1 1h1m1-18h1m0 1h1m2-6h1m0 20h1m3-3h1m6 3h1m0 0h1m5 1h1m3-6h1m7 4h1m3-19h1m6 21h1m0-20h1m0 24h1m6-4h1m4-5h1m1-11h1m1 6h1m2-9h1m6 9h1m0-7h1m6 3h1m4 14h1m2-6h1m3 10h1m-1-5h1m3-14h1m1 23h1m6-25h1m0-3h1m0 25h1m6 1h1m0 2h1m5-4h1m0-22h1m1 16h1m1-16h1m2 0h1m2 1h1m3 7h1m1-4h1m4 2h1m2 16h1m0 0h1m0-16h1m-1 9h1m2 5h1m2-1h1m3-14h1m3-4h1m6 5h1m0 20h1m8-3h1m9-5h1m4 4h1m21-10h1m19-12h1m14 20h1m21-10h1m5-1h1m6 6h1m-1-14h1m11 13h1m2 1h1m-1 10h1m6-4h1m1-16h1m11 20h1m-1 1h1m0-4h1m10-6h1m3-9h1m0-10h1m3 7h1m9 5h1m2 6h1m0-12h1m0 19h1m20-4h1m11-8h1m5-13h1m3 2h1m0 23h1m1-25h1m19 8h1m0-1h1m9 22h1m0-12h1m1 7h1m26-23h1m2 9h1m6 11h1m0-19h1m6 10h1m6 17h1m3-9h1m9 0h1m2-2h1m1 5h1m0 5h1m2-9h1m5-2h1m13-5h1m5-8h1m0-4h1m13 28h1m9-4h1m0 5h1m1-11h1m9-9h1m4 18h1m-1-22h1m1 8h1m2 2h1m3 4h1m1-4h1m2-12h1m2 21h1m-1 3h1m2-25h1m0 20h1m0 4h1m1-9h1m13-14h1m0 5h1m1 1h1m0 15h1m3-6h1m11-16h1m1 10h1m1 7h1m-1-11h1m3 8h1m6 7h1m5 6h1m10-16h1m0 16h1m8-10h1m0 1h1m0-18h1m2 2h1m4 25h1m2-25h1m0 5h1m7-8h1m5 11h1m8-5h1m6 1h1m-1 8h1m6-14h1m11 20h1m-1-21h1m0 11h1m9-1h1m6-1h1m-1-9h1m5 4h1m3 5h1m1 0h1m2 2h1m3-10h1m2 19h1m0-18h1m7 25h1m-1-24h1m8 12h1m1-4h1m1 6h1m0-17h1m4 11h1m4-1h1m1 6h1m1 9h1m-1-26h1m0 4h1m-1 18h1m10-9h1m6 12h1m-1-12h1m9 16h1m20-19h1m4 7h1m2-4h1m0 13h1m11-22h1m14 12h1m6 3h1m0-10h1m3 8h1m24-2h1m2 10h1m21-3h1m6-4h1m10-2h1m6 13h1m3-5h1m-1-20h1m7 1h1m17 9h1m-1 7h1m14 7h1m3-27h1m4 21h1m6 2h1m0-17h1m-1-4h1m2 13h1m7 6h1m1-8h1m2-12h1m16 4h1m1-3h1m32 18h1m4 29h1m-17-8h1m-18 12h1m-2-16h1m-4-1h1m-9 11h1m-5-14h1m-2-4h1m-12 11h1m-5 12h1m-2 6h1m-6-12h1m-8 6h1m-4 5h1m-3-2h1m-2 2h1m-29-3h1m-15 3h1m-1-15h1m-16-8h1m-2 12h1m-3 0h1m-5 8h1m-1 2h1m-14-19h1m-11 16h1m-1-8h1m-5 8h1m-5 2h1m-8 1h1m-4-4h1m-3-23h1m-5 29h1m-7-27h1m-5 8h1m-2 16h1m-1-19h1m-2 15h1m-10 4h1m-1-16h1m-4-6h1m-5 2h1m-3 19h1m-4 0h1m-13-19h1m-12-6h1m-26 7h1m-5-7h1m-4 21h1m-12-18h1m-3 12h1m-3-15h1m-4 26h1m-2-5h1m-4-7h1m-3 8h1m-7-18h1m-10 16h1m-1-14h1m-15 4h1m-4 13h1m-3 0h1m-7 3h1m-5-7h1m-2 8h1m-2-13h1m-14-7h1m-11 12h1m-7 6h1m-2-7h1m-2-7h1m-4-10h1m-11 10h1m-6 12h1m-6-5h1m-5 2h1m-3-16h1m-4 21h1m-7-2h1m-7-11h1m-3 7h1m-9 0h1m-4 5h1m-4-12h1m-1 2h1m-4 10h1m-11-22h1m-4 1h1m-40 6h1m-18 6h1m-9 2h1m-11-9h1m-8 3h1m-16 14h1m-2-22h1m-3 2h1m-1 12h1m-5 11h1m-4-1h1m-6-2h1m-13-17h1m-4 3h1m-6-2h1m-3 16h1m-17-1h1m-21-7h1m-2 4h1m-11-15h1m-4 13h1m-2 2h1m-4-9h1m-2-8h1m-18 11h1m-13 8h1m-4-17h1m-4-2h1m-1 3h1m-3 6h1m-7-1h1m-5 1h1m-3-3h1m-16-6h1m-1 14h1m-1-8h1m-5-2h1m-3 16h1m-1 3h1m-2-15h1m-7-9h1m-4 25h1m-3-24h1m-12 6h1m-22-2h1m-13 19h1m-5-16h1m-2 13h1m-1 4h1m-12-12h1m-2 5h1m-2-21h1m-8 27h1m-18-18h1m-3-1h1m-10 1h1m-4 3h1m-3 2h1m-24-11h1m-1-2h1m-8 11h1m-20 7h1m-2-4h1m-19 3h1m-14 10h1m-3-6h1m-13 2h1m-5-2h1m-6-22h1m-10 19h1m-1 5h1m-4 0h1m-9 1h1m-1 2h1m-6-25h1m-11 15h1m-1-16h1m-2 21h1m-3 5h1m-4-6h1m-7 3h1m-6-17h1m-4 16h1m-1-15h1m-8-5h1m-24 6h1m-3 15h1m-16-21h1m-7-2h1m-6 12h1m-6-9h1m-8 11h1m-2 7h1m-26-7h1m-10 9h1m-8-14h1m-8 9h1m-2-5h1m-1 4h1m-2 5h1m-5-12h1m-2 3h1m-4-1h1m-21-9h1m-3 2h1m-2 16h1m-6-9h1m-6 3h1m-3-2h1m-2-5h1m-1 9h1m-39 27h1m34-5h1m-1-5h1m21 15h1m4 0h1m15 3h1m16 6h1m2-5h1m8-5h1m0 5h1m0-17h1m13 16h1m18 0h1m7 0h1m-1-7h1m-1-9h1m2-5h1m3 17h1m5 3h1m0-21h1m1 14h1m-1-1h1m5 0h1m2 8h1m-1-2h1m0-17h1m2 16h1m2-14h1m3 13h1m1 3h1m3 7h1m0-9h1m0-17h1m4-1h1m2 10h1m2 6h1m4-15h1m4 18h1m-1 9h1m3-28h1m17-1h1m23 21h1m-1-6h1m10 11h1m16-16h1m3 18h1m5-12h1m7 0h1m3 7h1m3 4h1m2-4h1m3-1h1m3-16h1m4 6h1m1-6h1m1 13h1m-1-13h1m3 16h1m4-4h1m1 4h1m6-12h1m7-1h1m5 16h1m8-15h1m7-5h1m1 2h1m0 17h1m14-15h1m4-2h1m5 15h1m12-14h1m4-8h1m0 4h1m12 25h1m-1-16h1m1 5h1m52 11h1m2 0h1m3-23h1m1 12h1m0-14h1m-1 7h1m4 17h1m1-20h1m4 1h1m7 7h1m-1-1h1m-1-1h1m1 0h1m0 14h1m23-12h1m3-4h1m0-8h1m3 22h1m1-7h1m1-5h1m2-8h1m7 15h1m5-4h1m6-11h1m7 11h1m1-4h1m2-8h1m1 7h1m0-5h1m9 6h1m3-12h1m1 27h1m4 1h1m-1-10h1m0-2h1m3 6h1m10-16h1m0 11h1m-1 0h1m0-17h1m1-1h1m0 25h1m0-9h1m1-13h1m4 5h1m16 13h1m8 8h1m6-1h1m0-22h1m6 22h1m7-22h1m5 8h1m5-14h1m5 16h1m5 7h1m1-11h1m15 12h1m10-3h1m3-15h1m2 11h1m7-5h1m-1-8h1m-1 18h1m1-11h1m2-7h1m4 7h1m16-8h1m0 11h1m0 8h1m2-8h1m1 10h1m1-1h1m0-22h1m2 10h1m3-2h1m-1 3h1m-1 10h1m5-3h1m2-9h1m2 15h1m3-17h1m2 0h1m-1 10h1m3-13h1m1 19h1m6-7h1m3 12h1m2-6h1m4-5h1m50-14h1m26 15h1m0 2h1m7 7h1m4-9h1m5 7h1m0-14h1m1-10h1m1 5h1m-1 8h1m0-13h1m5 4h1m1 9h1m11 2h1m0-3h1m4-6h1m1 6h1m0-4h1m9 0h1m6-1h1m0 8h1m-1 11h1m0-1h1m-1-11h1m1 10h1m14-5h1m3 5h1m0-1h1m1-5h1m8-4h1m10-16h1m13 4h1m5 24h1m5-28h1m16 29h1m2-13h1m0-5h1m0 16h1m1-8h1m2 7h1m-1-7h1m0 5h1m19-7h1m3 0h1m7-12h1m5-2h1m4 24h1m1-19h1m4-8h1m19 8h1m11 6h1m1 15h1m2-22h1m3 17h1m3-10h1m16 11h1m16-9h1m-17 31h1m-34-14h1m-4 4h1m-2 0h1m-3-1h1m-6-4h1m-33-1h1m-1 3h1m-8 22h1m-4-22h1m-4 6h1m-3 12h1m-7 3h1m-6-16h1m-3-7h1m-2 21h1m-3 0h1m-9 6h1m-6-14h1m-10 7h1m-6-10h1m-12 2h1m-15 6h1m-6-1h1m-3-6h1m-7-9h1m-7 6h1m-16 11h1m-4-13h1m-4 1h1m-3-7h1m-4 19h1m-5-13h1m-2-5h1m-3 15h1m-3-7h1m-3 6h1m-3-1h1m-3 8h1m-6-20h1m-2 16h1m-4 4h1m-5-1h1m-2 6h1m-8-11h1m-8 2h1m-2-14h1m-5 1h1m-1 20h1m-47-9h1m-10 2h1m-4-1h1m-1 2h1m-16 5h1m-5 0h1m-4-23h1m-3 0h1m-5 11h1m-4 11h1m-3 0h1m-8-21h1m-1 23h1m-1-25h1m-2 1h1m-5 18h1m-5-1h1m-10 0h1m-7-9h1m-6 12h1m-2-3h1m-7-10h1m-2 16h1m-3-10h1m-13 4h1m-3 3h1m-22 3h1m-2-11h1m-5 13h1m-7-13h1m-7-15h1m-10 28h1m-6 1h1m-33-15h1m-12 4h1m-14-7h1m-2 16h1m-3-2h1m-10 2h1m-2-13h1m-3 12h1m-4-7h1m-1 9h1m-2-1h1m-3-16h1m-5-5h1m-3-3h1m-1 18h1m-1 5h1m-11-3h1m-15-21h1m-2 23h1m-4-21h1m-5 2h1m-5 10h1m-7-15h1m-7 13h1m-1 9h1m-4-8h1m-5 9h1m-1-9h1m-7-5h1m-2 3h1m-6 2h1m-2 7h1m-2-17h1m-4 9h1m-10-3h1m-4 18h1m-1-14h1m-1 2h1m-2 4h1m-8-17h1m-11 2h1m-7-6h1m-2 29h1m-6-29h1m-2 1h1m-10 24h1m-1-3h1m-26-19h1m-8-2h1m-2 20h1m-5 4h1m-19-12h1m-19-9h1m-5 10h1m-6 11h1m-5-1h1m-1 2h1m-11-22h1m-3 25h1m-9 0h1m-21-9h1m-4-3h1m-3-6h1m-3 15h1m-5-5h1m-8-9h1m-3 6h1m-12-1h1m-2 6h1m-16-14h1m-4-4h1m-7 9h1m-3 2h1m-11 12h1m-3-2h1m-3-11h1m-4 5h1m-1-9h1m-14-6h1m-4 22h1m-4-22h1m-2 4h1m-2-1h1m-6 19h1m-1-23h1m-3-2h1m-4 17h1m-3-4h1m-3 12h1m-47-10h1m-3-6h1m-5 2h1m-8-5h1m-8 20h1m-1-28h1m-7 11h1m-5 3h1m-4 0h1m-2 4h1m-7-5h1m-2 11h1m-10-4h1m-7 7h1m-7 1h1m-5-17h1m-4 8h1m-8 3h1m-2 5h1m-4-1h1m-1 0h1m-2-11h1m-5-11h1m-3 14h1m-10 9h1m-2-18h1m-4-2h1m-7 19h1m-6-4h1m-5-15h1m-7 4h1m-3 11h1m-14-18h1m-6 23h1m-10 1h1m-2 0h1m-8-16h1m-1 11h1m-7-16h1m-5 13h1m-13-7h1m-9-2h1m-6 0h1m-2-8h1m-2 10h1m-13 9h1m-4-8h1m-2-1h1m-5 2h1m-3 14h1m-6-14h1m-3 3h1m-2-7h1m-5 17h1m-4-27h1m-6 28h1m-1-7h1m-1 0h1m-7 0h1m-2-10h1m-2 2h1m-2 0h1m-3-3h1m-5 0h1m-8 12h1m-5-7h1m2 41h1m0-18h1m1 11h1m5-7h1m7-12h1m4 3h1m4 6h1m3 14h1m10-21h1m1 1h1m4 5h1m2 0h1m16 2h1m1-1h1m-1-6h1m1-1h1m7 17h1m1-19h1m2 26h1m7-19h1m4 3h1m1-6h1m5 0h1m1 23h1m0-6h1m1-17h1m3 10h1m2 0h1m9 13h1m0 0h1m-1-11h1m0-9h1m3-8h1m9 4h1m1-3h1m1 27h1m8-22h1m2 3h1m3 14h1m4 0h1m0 0h1m11-21h1m-1 14h1m4 12h1m1-22h1m-1 19h1m1-6h1m3 5h1m2-9h1m1 2h1m1 3h1m-1-1h1m0-9h1m16-10h1m0 3h1m-1 3h1m1 14h1m3 9h1m6-22h1m4 0h1m0 19h1m1-6h1m2 3h1m0-11h1m5-12h1m1 3h1m0 9h1m-1-11h1m8 0h1m0 14h1m18 8h1m36 4h1m9-12h1m1-2h1m10-2h1m-1-2h1m6-5h1m3 19h1m4-14h1m0 8h1m2 11h1m5-3h1m3-2h1m1 6h1m-1-1h1m0-11h1m1 3h1m0-4h1m4-4h1m1 14h1m0-14h1m7 16h1m3-23h1m14 19h1m24-14h1m3 19h1m0-16h1m2 6h1m0 4h1m-1-16h1m3-3h1m4 9h1m1-8h1m-1 20h1m11-2h1m-1 2h1m5-4h1m0-10h1m14 13h1m1-15h1m0-8h1m4 11h1m0 13h1m0 0h1m3-7h1m8-11h1m7 13h1m-1-3h1m4 7h1m0-21h1m0 12h1m4 13h1m-1-9h1m1-4h1m7 4h1m3-10h1m3 14h1m0-13h1m5-6h1m0 23h1m3-8h1m9 3h1m5 5h1m12-6h1m-1 0h1m1 7h1m0-13h1m5 2h1m5-5h1m0 12h1m15-8h1m6-10h1m4 10h1m11-16h1m1 0h1m0 9h1m-1 1h1m10 8h1m2 2h1m1-5h1m3-3h1m0 8h1m0-5h1m3 0h1m7-8h1m0 11h1m0-15h1m0 25h1m2 1h1m4-22h1m1 22h1m13-28h1m-1 2h1m-1 5h1m7 15h1m3-5h1m1-8h1m0-10h1m2 12h1m1-7h1m0 19h1m2-3h1m3-13h1m1-1h1m2 14h1m-1 6h1m0-24h1m1 0h1m3 14h1m0-16h1m1 4h1m4 5h1m1 1h1m0 14h1m0-20h1m0 11h1m2 11h1m2-14h1m-1 0h1m2 13h1m2 3h1m1-14h1m0-1h1m9-10h1m1 21h1m0-13h1m0 6h1m0-11h1m1 8h1m5 11h1m-1-19h1m0-6h1m0 0h1m-1 24h1m0-15h1m3-4h1m1 11h1m16-6h1m0-10h1m-1 4h1m0 6h1m0 14h1m3-17h1m0 19h1m-1-16h1m5-9h1m1 1h1m10 11h1m0-3h1m1 17h1m3-22h1m16 5h1m1 10h1m4 7h1m3-10h1m6 7h1m4-20h1m2-4h1m2 22h1m0 2h1m3-17h1m9 8h1m-1 5h1m8 7h1m4-23h1m5 23h1m4-1h1m0-10h1m7-17h1m8 7h1m6 16h1m1-21h1m10 8h1m2 15h1m0-8h1m2 6h1m0 3h1m6-6h1m-1-19h1m0 20h1m1 6h1m1-9h1m5 0h1m0-1h1m4 4h1m2-2h1m0 8h1m1-1h1m0-23h1m0 15h1m3-3h1m2-11h1m-1 8h1m10-4h1m3 14h1m3 2h1m5-21h1m-1-3h1m0 23h1m-1-15h1m0-7h1m0 15h1m0-6h1m18-5h1m22 21h1m5-3h1m7-11h1m6 11h1m6-10h1m0 8h1m0-6h1m3-12h1m-1 25h1m4 1h1m7-3h1m6-22h1m0 18h1m-1-5h1m9 3h1m7-5h1m4 6h1m1-2h1m1-2h1m13-4h1m3-5h1m5 12h1m5 38h1m-13-22h1m-3 4h1m-9 6h1m-12 12h1m-4-16h1m-6 3h1m-9 2h1m-4-3h1m-12 8h1m-5-8h1m-4-4h1m-5-5h1m-1 9h1m-3 14h1m-3-11h1m-2-3h1m-8-14h1m-3 14h1m-11 5h1m-4-18h1m-11 22h1m-12-5h1m-1 0h1m-6-15h1m-2 7h1m-2-1h1m-5 4h1m-6 8h1m-5 7h1m-3-3h1m-7-19h1m-7 0h1m-6-6h1m-4 10h1m-7 9h1m-1-1h1m-7-7h1m-3-1h1m-3 11h1m-6-1h1m-2-6h1m-8-3h1m-2-7h1m-2 4h1m-3 4h1m-3 16h1m-8 1h1m-3-22h1m-4-4h1m-8 4h1m-15-6h1m-3 3h1m-2-4h1m-1 0h1m-9 6h1m-1 14h1m-6-3h1m-2-14h1m-13 0h1m-6-2h1m-9 3h1m-13 7h1m-6-8h1m-3 8h1m-8-10h1m-16 20h1m-3 2h1m-3-17h1m-12-2h1m-14-4h1m-6 7h1m-7-2h1m-7 1h1m-6 3h1m-2-9h1m-5 2h1m-2 12h1m-1-12h1m-6 14h1m-8 9h1m-2-4h1m-3-20h1m-6 28h1m-12-7h1m-2-6h1m-2 4h1m-2 4h1m-2-9h1m-2-11h1m-2 3h1m-1-1h1m-2 3h1m-1 1h1m-8-3h1m-6-2h1m-6 17h1m-2-5h1m-4 4h1m-11-2h1m-4-5h1m-5 6h1m-5-1h1m-2 6h1m-2-6h1m-3-18h1m-6 13h1m-4 7h1m-2-6h1m-1-8h1m-1 1h1m-8 6h1m-6 7h1m-2-8h1m-3 0h1m-1 1h1m-6 7h1m-3 7h1m-11-12h1m-9-2h1m-4-12h1m-10 23h1m-3 3h1m-7-14h1m-14-14h1m-2 3h1m-8 25h1m-11-26h1m-3 18h1m-6-13h1m-10 8h1m-5-10h1m-9-1h1m-4 12h1m-3-8h1m-8 15h1m-6-13h1m-10-9h1m-6 8h1m-6-8h1m-2 28h1m-7 0h1m-22-27h1m-9-1h1m-1 0h1m-1 14h1m-4 2h1m-8 0h1m-9-2h1m-1 7h1m-6-18h1m-4 17h1m-2-20h1m-3 15h1m-4 11h1m-3 2h1m-2-23h1m-2 17h1m-6-17h1m-2-4h1m-4 24h1m-9-10h1m-3 4h1m-4-11h1m-10 16h1m-11-23h1m-6 4h1m-3-1h1m-8 10h1m-5 5h1m-12 1h1m-1-12h1m-13 6h1m-8-8h1m-2-5h1m-4 19h1m-1-21h1m-2 27h1m-7-10h1m-4 11h1m-3-24h1m-3 22h1m-3-18h1m-6-8h1m-2 0h1m-10 20h1m-3-17h1m-7 5h1m-5 1h1m-3 0h1m-1 5h1m-4-11h1m-9 2h1m-5 8h1m-6 0h1m-6-10h1m-1 22h1m-7-18h1m-2 4h1m-4-5h1m-3 17h1m-6-20h1m-2 21h1m-2-6h1m-2 11h1m-20-4h1m-8-9h1m-3-3h1m-32 3h1m-7-2h1m-9 11h1m-2-25h1m-8 29h1m-9-8h1m-2-14h1m-3 19h1m-2-25h1m-5 7h1m-2-3h1m-11-4h1m-10 14h1m-1 3h1m-1-14h1m-3 16h1m-5-17h1m-2 23h1m-2-5h1m-2-20h1m-4 3h1m-3 11h1m-1 9h1m-5-4h1m-9-18h1m-2 20h1m-9-4h1m-5 8h1m-3-26h1m-9 12h1m-1 1h1m-6 10h1m-2-23h1m-9 21h1m-5 2h1m-1-8h1m-5 0h1m-2 6h1m-1-13h1m-4-3h1m-6 12h1m-1 1h1m-1-10h1m-4 7h1m-4-12h1m-3 0h1m-7 7h1m-2 9h1m-10-1h1m-11-3h1m-4 6h1m-12-10h1m-8 17h1m-8-3h1m-8-13h1m-5-5h1m-5 19h1m-1-23h1m-7 21h1m-14-10h1m-8-5h1m-3 0h1m-6-2h1m-2 15h1m-5-6h1m-7-8h1m-11-8h1m-2 15h1m-4 2h1m-1-9h1m-12-1h1m-1 6h1m-43-6h1m22 27h1m13 0h1m11-4h1m35 7h1m5 20h1m2-15h1m3-9h1m4-3h1m-1 10h1m1 16h1m6-21h1m4 15h1m0-19h1m3-1h1m3 9h1m0 18h1m1-24h1m13 0h1m-1 16h1m0-7h1m6-6h1m0 21h1m0-10h1m14-17h1m4 7h1m11 18h1m-1-25h1m1 9h1m-1 14h1m1-2h1m1 6h1m2-13h1m7 9h1m3-22h1m10 28h1m3-11h1m0 10h1m1-7h1m5-13h1m5 18h1m-1-8h1m7-10h1m4 18h1m0-5h1m5 7h1m0-17h1m4-8h1m2 21h1m0 1h1m3-14h1m2-11h1m2 4h1m-1 18h1m2-2h1m-1-14h1m4-2h1m0 21h1m3-7h1m1-5h1m4 12h1m14-20h1m0 6h1m1-3h1m10 14h1m21-5h1m7-8h1m17 10h1m0-11h1m4 1h1m5-6h1m4 26h1m4-27h1m1 0h1m-1 18h1m0-7h1m-1-4h1m-1-5h1m4 12h1m1-5h1m3-10h1m1 15h1m11 11h1m5-17h1m-1 1h1m1-11h1m3 10h1m6-2h1m-1 20h1m10-26h1m1 1h1m0 24h1m1 0h1m7-3h1m1-2h1m-1-20h1m2 19h1m-1-9h1m7-12h1m0 21h1m21-7h1m-1 6h1m9-15h1m4-2h1m0 10h1m3-5h1m10-3h1m2 13h1m1-15h1m1 20h1m1-18h1m0-5h1m6 20h1m-1-11h1m6-8h1m6 8h1m0 11h1m5-1h1m-1 8h1m2-18h1m0-5h1m0 1h1m0-4h1m-1 18h1m1 5h1m3-15h1m0 6h1m5-12h1m5 26h1m23-11h1m4 8h1m-1-1h1m0-8h1m1 12h1m0-23h1m0 2h1m5 4h1m0 13h1m-1-8h1m-1 8h1m3-5h1m2-18h1m4 18h1m3-19h1m-1 6h1m0 12h1m2-8h1m0 4h1m0-10h1m0 14h1m4 6h1m0-18h1m0 19h1m0-17h1m0 2h1m9-6h1m8 2h1m11 13h1m3 3h1m1-17h1m5-3h1m8 18h1m1-7h1m-1-11h1m4 26h1m1-3h1m-1-1h1m8-21h1m3 16h1m0-10h1m6 12h1m5-3h1m-1-11h1m-1-8h1m0 10h1m-1 0h1m6 8h1m2-18h1m4 13h1m0-5h1m-1-8h1m1 10h1m4 0h1m0-9h1m7 28h1m8-5h1m1 1h1m2-5h1m8-4h1m4 2h1m5 6h1m5 3h1m-1-15h1m6-6h1m7 5h1m5 13h1m-1 2h1m12-4h1m5-9h1m0-1h1m2-5h1m5 22h1m11-3h1m6 3h1m7-8h1m5-16h1m4 2h1m5-6h1m8 11h1m38 3h1m6 11h1m0-17h1m2 7h1m17 7h1m3-6h1m0-5h1m0 14h1m2-20h1m2 0h1m0 21h1m1-24h1m10 3h1m46-4h1m-1-2h1m7 26h1m0-24h1m3 26h1m16-27h1m5 27h1m-1-27h1m5 12h1m4-13h1m0 1h1m6 3h1m2 21h1m2-8h1m1-6h1m4-9h1m1 2h1m5 5h1m2 9h1m0-17h1m10 18h1m1-10h1m0 2h1m7-5h1m38 11h1m5-16h1m18 21h1m7-2h1m3-14h1m12 32h1m-32 6h1m-5 4h1m-15 0h1m-11 7h1m-9 4h1m-3-3h1m-7-20h1m-2-3h1m-3 4h1m-4 15h1m-1-9h1m-4-6h1m-1 6h1m-7-5h1m-3 21h1m-2-21h1m-1-3h1m-3 15h1m-6-14h1m-2 12h1m-2-9h1m-2 1h1m-1 1h1m-4 18h1m-9-12h1m-1-15h1m-8-1h1m-1 7h1m-8 12h1m-1-19h1m-2 10h1m-4 8h1m-2 4h1m-3 0h1m-2-3h1m-2-1h1m-29-5h1m-1 13h1m-12-24h1m-4 15h1m-5-18h1m-7 9h1m-5-1h1m-16-4h1m-4 5h1m-3-2h1m-8-3h1m-5 22h1m-2 1h1m-15-26h1m-9 9h1m-12 17h1m-2-7h1m-2-4h1m-3 13h1m-9-19h1m-8-6h1m-18 3h1m-1 0h1m-9 17h1m-2-16h1m-5 15h1m-2-12h1m-6 7h1m-2 4h1m-4-3h1m-8 9h1m-15-12h1m-6 10h1m-1-18h1m-2 7h1m-5-3h1m-7 7h1m-4-14h1m-2-2h1m-1 8h1m-10 18h1m-13-11h1m-6-6h1m-2-10h1m-6 14h1m-7 4h1m-2-18h1m-8 23h1m-4-23h1m-6 12h1m-3-6h1m-2 18h1m-3-25h1m-3 14h1m-3 14h1m-1-13h1m-2-4h1m-17 4h1m-3-10h1m-2 5h1m-2 11h1m-11-17h1m-2 6h1m-3 3h1m-4-10h1m-4 14h1m-2-4h1m-2-1h1m-1-9h1m-2 4h1m-4 17h1m-3 3h1m-2-9h1m-2 7h1m-2-20h1m-1 9h1m-8-14h1m-5 8h1m-4 18h1m-2-18h1m-2-5h1m-3 17h1m-3-10h1m-3 3h1m-1 0h1m-1 0h1m-3 3h1m-3 5h1m-3-4h1m-5-17h1m-6 0h1m-1 11h1m-5 9h1m-8 1h1m-2-1h1m-6-8h1m-4 9h1m-1-3h1m-3-16h1m-2 18h1m-3-15h1m-3 17h1m-2 0h1m-10-1h1m-2-15h1m-2 22h1m-2-7h1m-15 6h1m-10-23h1m-4 2h1m-5-4h1m-3 17h1m-3 5h1m-1-13h1m-3 1h1m-7-6h1m-6 2h1m-14-4h1m-3 10h1m-5 8h1m-1-5h1m-2 10h1m-2-2h1m-4-23h1m-4 1h1m-3 0h1m-1-1h1m-11 16h1m-10-2h1m-3 0h1m-6-16h1m-4 8h1m-6 10h1m-12 5h1m-6-21h1m-3-3h1m-4 6h1m-3 1h1m-9 10h1m-2 6h1m-15-5h1m-3-9h1m-5-1h1m-8 13h1m-4-1h1m-16 6h1m-3-20h1m-15 14h1m-8 1h1m-8-3h1m-4 7h1m-2 1h1m-5-4h1m-6 2h1m-1-9h1m-4-2h1m-3 16h1m-22-5h1m-5-17h1m-14 19h1m-2-21h1m-4 7h1m-2 16h1m-4-12h1m-4 13h1m-3-25h1m-3 18h1m-6 0h1m-8-6h1m-6 5h1m-7-12h1m-1 18h1m-9-25h1m-2 14h1m-1 10h1m-2-3h1m-7-5h1m-4-12h1m-7 9h1m-2-3h1m-16-4h1m-2 8h1m-11-1h1m-2-8h1m-6 9h1m-11 8h1m-7-5h1m-6 0h1m-11 4h1m-4-23h1m-2 17h1m-2-6h1m-3 1h1m-2 17h1m-15-4h1m-5-10h1m-3 3h1m-7 6h1m-3 2h1m-1-14h1m-3-10h1m-10 21h1m-4-12h1m-3-8h1m-2 6h1m-7-1h1m-4 8h1m-8-7h1m-3-7h1m-4 5h1m-3 22h1m-2-13h1m-2 4h1m-4-4h1m-6 9h1m-1-21h1m-7 5h1m-1-8h1m-7 20h1m-11-1h1m-9 2h1m-4 4h1m-1-17h1m-6-8h1m-1 20h1m-10 6h1m-15-26h1m-3 17h1m-3 1h1m-3-18h1m-1 14h1m-11 0h1m-3 4h1m-3-3h1m-9-4h1m-3 8h1m-4-7h1m-2 8h1m-2-12h1m-3 20h1m-2-1h1m-1-16h1m-17 9h1m-4-1h1m-1-18h1m-6 1h1m-3 15h1m-6-5h1m-5-9h1m-13 8h1m-4 15h1m-3 0h1m-9-1h1m-3-2h1m-3-13h1m-3 8h1m-6 9h1m-6 0h1m-5-8h1m-3-3h1m-37 28h1m7 1h1m31-8h1m9 5h1m5-9h1m6 14h1m5-2h1m3 0h1m12-13h1m9 18h1m3 3h1m0 4h1m1-9h1m0-3h1m8-3h1m28 7h1m1-11h1m0-6h1m4-1h1m5 4h1m10 21h1m2-14h1m0 9h1m8-20h1m7 12h1m0 10h1m10-8h1m1 9h1m1 2h1m3-15h1m0-3h1m0-1h1m3-1h1m2 12h1m-1-2h1m0-1h1m5-14h1m-1 27h1m0-5h1m9-14h1m0 3h1m7 10h1m0-2h1m9 0h1m-1-5h1m2 9h1m8-25h1m1 7h1m3-7h1m3 24h1m0-8h1m0-3h1m5 3h1m3-16h1m1 6h1m4 17h1m2 4h1m0-9h1m7-14h1m0 12h1m22-11h1m42 22h1m18-5h1m13 1h1m4-11h1m6 7h1m8-11h1m0 3h1m14-10h1m1 0h1m0 16h1m2 4h1m-1-5h1m0 1h1m8 1h1m5 3h1m3 8h1m-1-22h1m3 18h1m1-23h1m0 11h1m12-4h1m0-4h1m0 5h1m5-1h1m0 9h1m1-2h1m1 2h1m3-9h1m-1 14h1m1-17h1m-1 20h1m21-1h1m2-10h1m4-11h1m3 11h1m2 5h1m3-20h1m0 18h1m2-1h1m0-2h1m4-12h1m2 7h1m-1 0h1m1-4h1m2 22h1m9-23h1m3 18h1m2-8h1m1-11h1m7-3h1m5 4h1m17 21h1m2-17h1m3 6h1m4-14h1m0 11h1m0 11h1m6-21h1m1 17h1m-1 7h1m7-15h1m28-11h1m2 8h1m17 13h1m3-17h1m6 3h1m7 19h1m13-14h1m3-7h1m2 2h1m4 19h1m6-8h1m-1-2h1m8-6h1m-1 2h1m5-12h1m-1 23h1m1-3h1m1-14h1m1 4h1m2 15h1m1-5h1m1-11h1m3-2h1m-1-4h1m0 22h1m2-12h1m-1 16h1m2-14h1m0-14h1m-1 16h1m2 10h1m0-6h1m2-20h1m9 0h1m2 13h1m1-11h1m5 15h1m2 0h1m0-14h1m1 13h1m0-7h1m0 17h1m0-11h1m0 2h1m1 2h1m8-8h1m5 13h1m0-6h1m2-7h1m1 3h1m0-3h1m3 15h1m0-20h1m4 13h1m0-8h1m-1 2h1m2 1h1m1 13h1m2-17h1m-1-4h1m5 19h1m1-7h1m3 7h1m5-22h1m0 25h1m0-28h1m0 19h1m0-5h1m6-7h1m1 10h1m0-1h1m-1 1h1m0 2h1m0-7h1m11 3h1m5-5h1m21-9h1m2 8h1m7 18h1m1-16h1m3 7h1m3-4h1m7 11h1m0-1h1m3-2h1m-1 0h1m3 3h1m0-23h1m0 13h1m5 0h1m14-1h1m10-2h1m0-7h1m0 13h1m1-14h1m0-3h1m0 13h1m8 6h1m0 1h1m6-10h1m3 8h1m1-8h1m1 3h1m7 12h1m9-18h1m1 12h1m3-16h1m6 21h1m7-18h1m3 0h1m15 10h1m2 1h1m9-17h1m2 27h1m0-7h1m4-6h1m0 8h1m0 2h1m1-16h1m2 7h1m-1 9h1m2-1h1m0-21h1m3-4h1m6 18h1m5-17h1m2 9h1m0 14h1m3-16h1m5 15h1m2 4h1m5-3h1m2-10h1m0 8h1m7 30h1m-5-9h1m-9 12h1m-3-14h1m-4-6h1m-4-5h1m-12 20h1m-4 9h1m-22-28h1m-11 6h1m-14 6h1m-1 6h1m-9 8h1m-5-14h1m-2-7h1m-2 8h1m-9-5h1m-2 0h1m-2 11h1m-3-10h1m-4 7h1m-2 2h1m-2 8h1m-1-20h1m-2 2h1m-6-9h1m-6 18h1m-3-17h1m-3 18h1m-6 0h1m-1-14h1m-6 23h1m-1-10h1m-2 9h1m-2-12h1m-15 4h1m-5-17h1m-22 8h1m-24 9h1m-3-12h1m-12-4h1m-9 20h1m-3-12h1m-9 8h1m-12-17h1m-2 17h1m-8-3h1m-2 0h1m-4-4h1m-13 5h1m-4 0h1m-2 8h1m-3 1h1m-2 1h1m-2-10h1m-2-9h1m-11 9h1m-6-17h1m-3 10h1m-3-3h1m-1 9h1m-3-2h1m-1 9h1m-2-2h1m-2-15h1m-4 2h1m-5 10h1m-2-16h1m-1 9h1m-7 14h1m-3-1h1m-13-2h1m-14-17h1m-2 13h1m-2-11h1m-1 21h1m-12-28h1m-2 0h1m-2 4h1m-5 20h1m-9-5h1m-7-5h1m-17-2h1m-4-5h1m-2-7h1m-4 1h1m-15 12h1m-9-7h1m-15 7h1m-14 13h1m-3 1h1m-6-18h1m-27 14h1m-1-1h1m-3 7h1m-10-5h1m-9-20h1m-4 14h1m-8-2h1m-22 8h1m-11 2h1m-5-8h1m-10-12h1m-6 16h1m-11 2h1m-2-20h1m-3 6h1m-2-9h1m-8 10h1m-1-2h1m-4 9h1m-2-8h1m-6 14h1m-1 5h1m-13-7h1m-8 0h1m-1-2h1m-3 0h1m-2-2h1m-6-11h1m-4 13h1m-11-18h1m-6 25h1m-3-19h1m-7 12h1m-8-15h1m-6 9h1m-6-10h1m-15 19h1m-36-13h1m-4 10h1m-5-3h1m-5 4h1m-1-19h1m-4 17h1m-3-15h1m-4 5h1m-3 4h1m-3 10h1m-1-15h1m-1 3h1m-4 15h1m-2-19h1m-18 0h1m-7 3h1m-10 19h1m-2-14h1m-5-9h1m-6-6h1m-6 16h1m-1 0h1m-2-4h1m-1 13h1m-2-21h1m-2 20h1m-2-8h1m-1-6h1m-14 14h1m-3-3h1m-8-16h1m-15 19h1m-5-17h1m-10-2h1m-5 4h1m-2 0h1m-2-9h1m-4 4h1m-5 4h1m-1 0h1m-16 11h1m-3 10h1m-25-8h1m-13-12h1m-3 13h1m-4-7h1m-3-15h1m-1 3h1m-8 13h1m-11 12h1m-24-8h1m-2 4h1m-4-8h1m-13-1h1m-2 8h1m-1-14h1m-4-5h1m-6 6h1m-11-2h1m-2 4h1m-1-4h1m-2 11h1m-10-17h1m-2 15h1m-1-6h1m-4-7h1m-5-2h1m-7-2h1m-15 2h1m-4 4h1m-3 0h1m-16 14h1m-3 1h1m-27 1h1m-1-14h1m-6 17h1m-1-14h1m-2 14h1m-3-6h1m-6 7h1m-3-19h1m-2-6h1m-2 26h1m-2-22h1m-8 24h1m-1-21h1m-1-7h1m-12 5h1m-4 12h1m-2 6h1m-2-5h1m-3-19h1m-10 14h1m-3 14h1m-6-20h1m-4 13h1m-14 8h1m-46-23h1m58 30h1m40-1h1m2 10h1m3-4h1m8 4h1m13 2h1m31-1h1m0 2h1m3 5h1m3 5h1m-1 1h1m31-4h1m4-2h1m5 1h1m1-7h1m3 9h1m0-21h1m3 11h1m3-11h1m6-1h1m4 20h1m0-4h1m4 4h1m1-22h1m0 17h1m-1-5h1m-1 1h1m1 6h1m1-3h1m4-9h1m3 0h1m-1 13h1m2-20h1m2 9h1m4 2h1m2 13h1m4 2h1m12-23h1m0 22h1m0-9h1m5-1h1m-1 2h1m4 4h1m3 4h1m16-7h1m1 1h1m1-8h1m2 5h1m13-4h1m9-12h1m1 12h1m0-1h1m-1 0h1m3-5h1m4 2h1m6 2h1m0-10h1m1 14h1m-1 1h1m2-9h1m2 8h1m-1-8h1m4 7h1m1-11h1m0 2h1m0 0h1m4 1h1m0 1h1m0 3h1m0 3h1m1-10h1m1 5h1m1 20h1m18-25h1m0 14h1m-1-17h1m3 16h1m2 6h1m1 0h1m3-6h1m1 11h1m8-4h1m0 5h1m0-29h1m1 0h1m4 23h1m-1 1h1m-1-16h1m10 14h1m-1-11h1m0 2h1m10-6h1m5 16h1m-1-22h1m1 26h1m6-18h1m4 7h1m-1 1h1m7-3h1m6 8h1m1-17h1m0 11h1m-1-14h1m7 5h1m2 11h1m3-5h1m2-11h1m4 7h1m0 3h1m1-2h1m19-5h1m2 19h1m0 1h1m15-12h1m8 11h1m12-14h1m2-5h1m1 10h1m10 6h1m3-9h1m-1 15h1m3-18h1m0 16h1m0-13h1m4 15h1m7 2h1m8-25h1m2 18h1m3-3h1m1 2h1m0-1h1m3-10h1m0-4h1m3 11h1m9 5h1m2-17h1m6 23h1m1-28h1m5 6h1m3 13h1m-1-14h1m3 10h1m3-2h1m2 15h1m-1-18h1m1 2h1m-1-7h1m0 12h1m0-5h1m7 7h1m2-6h1m6 2h1m8 8h1m1-22h1m3 24h1m1-14h1m2 8h1m4-16h1m0 4h1m1 19h1m2-20h1m1-2h1m3 17h1m9 6h1m1-17h1m6 12h1m2-2h1m2-2h1m-1-1h1m4-7h1m4 5h1m1-4h1m-1 16h1m3-14h1m8-4h1m6 7h1m11-7h1m0 0h1m0 16h1m3-24h1m2 19h1m-1-7h1m14 5h1m4 8h1m1 0h1m3-10h1m9 3h1m3-6h1m-1 9h1m5-12h1m1 9h1m7-6h1m1-4h1m10-7h1m8 7h1m1 16h1m7-24h1m29 28h1m10-7h1m5-17h1m2 13h1m14-4h1m24-3h1m-1 3h1m10 2h1m1-15h1m3 11h1m0-12h1m1 24h1m11-21h1m0 1h1m0-4h1m2 18h1m1-10h1m1-4h1m25 6h1m6 14h1m1 4h1m1-6h1m10-16h1m15 13h1m4-10h1m2 18h1m1-4h1m23-11h1m4 13h1m0-19h1m-17 42h1m-34 1h1m-4-7h1m-5-2h1m-2 16h1m-1-6h1m-10-15h1m-8 15h1m-1-9h1m-2 6h1m-8-16h1m-11 9h1m-6 17h1m-11-17h1m-8 2h1m-13 5h1m-1-11h1m-5 5h1m-2 2h1m-6-6h1m-4 12h1m-5 3h1m-13-10h1m-4 13h1m-13-6h1m-23-16h1m-15 12h1m-2-5h1m-7-6h1m-5 17h1m-6 6h1m-5-5h1m-6-5h1m-6-15h1m-2 1h1m-11 10h1m-3-3h1m-1 10h1m-7-3h1m-1-13h1m-11 8h1m-1 1h1m-1-1h1m-5 8h1m-2-15h1m-11-1h1m-3 11h1m-6 7h1m-6-6h1m-7-6h1m-9 13h1m-6-21h1m-3-2h1m-5 29h1m-8-8h1m-16-18h1m-3 9h1m-6 5h1m-8-2h1m-1 14h1m-6-8h1m-5-7h1m-3-4h1m-20-5h1m-7 23h1m-3 1h1m-4-2h1m-4-26h1m-17 22h1m-1-19h1m-7 2h1m-17 6h1m-3 11h1m-2 5h1m-3-14h1m-11-11h1m-4 26h1m-9-20h1m-10 6h1m-10 5h1m-10-14h1m-3 16h1m-33 5h1m-2-14h1m-2-9h1m-3-2h1m-4 4h1m-15 23h1m-2-22h1m-4 18h1m-6 1h1m-5-11h1m-1 11h1m-11-21h1m-5 15h1m-8-9h1m-13-10h1m-9 19h1m-3 3h1m-4-8h1m-3-4h1m-9-8h1m-2 0h1m-2 12h1m-3-15h1m-2 9h1m-5 20h1m-8-15h1m-3 12h1m-4-24h1m-2 24h1m-2-21h1m-5 24h1m-3-26h1m-5 6h1m-2 6h1m-9 9h1m-5-7h1m-8 10h1m-10-13h1m-10 13h1m-1-5h1m-1-13h1m-5-4h1m-2 3h1m-4 20h1m-8-16h1m-1 17h1m-2-17h1m-3 14h1m-6-14h1m-2-9h1m-9 21h1m-5-15h1m-9 0h1m-4 3h1m-15 1h1m-4 6h1m-12-11h1m-3 5h1m-2 1h1m-3-3h1m-8 8h1m-4 5h1m-12 0h1m-19-2h1m-2 6h1m-6-9h1m-4 10h1m-9-3h1m-10-8h1m-2 1h1m-1-6h1m-2 0h1m-23 3h1m-2-3h1m-2 5h1m-10-5h1m-7-12h1m-4 21h1m-3-12h1m-2 7h1m-1 11h1m-11-18h1m-3-3h1m-5-5h1m-7 4h1m-2 19h1m-1-13h1m-3 4h1m-3-9h1m-3 11h1m-4 8h1m-17 2h1m-4-14h1m-3 2h1m-16 4h1m-1 4h1m-2-24h1m-2 7h1m-4-5h1m-1 21h1m-4-6h1m-5 5h1m-1-20h1m-1 5h1m-2 22h1m-4-28h1m-5 19h1m-3-14h1m-3 2h1m-1-6h1m-7 4h1m-34 19h1m-2-24h1m-3 3h1m-4-1h1m-4 2h1m-3-3h1m-1 9h1m-4 15h1m-2-18h1m-8-4h1m-1 23h1m-3-4h1m-4-17h1m-5 13h1m-4-1h1m-9 10h1m-8-24h1m-4 0h1m-12 4h1m-1 21h1m-5-1h1m-3-12h1m-10-12h1m-3 8h1m-2-12h1m-11 15h1m-7-10h1m-1 8h1m-3 18h1m25 10h1m3-6h1m2 0h1m3 3h1m2 12h1m2-2h1m11-13h1m3-3h1m2 4h1m12 23h1m1-19h1m2 8h1m2 10h1m10-24h1m0 8h1m-1 13h1m0-2h1m1-5h1m1 9h1m2-7h1m0 7h1m1-20h1m5-4h1m0 2h1m4 18h1m10-6h1m1-7h1m2-4h1m5 23h1m8-1h1m7-20h1m1-3h1m1 0h1m0 17h1m-1 5h1m8-24h1m7 5h1m2 2h1m0 14h1m5-13h1m5-9h1m4 4h1m4 9h1m10 9h1m0-11h1m1-9h1m2 20h1m4-11h1m23 9h1m11-5h1m6 2h1m0-2h1m5 1h1m4 0h1m6-14h1m1 23h1m4-11h1m0 8h1m1-3h1m-1 4h1m10-23h1m0 7h1m7 11h1m20-6h1m0-2h1m1 4h1m10 1h1m7-2h1m1-9h1m2 23h1m6-8h1m0-6h1m0-6h1m1 7h1m0-10h1m0 2h1m-1 9h1m5 6h1m1-11h1m0-6h1m3 12h1m-1 9h1m2-26h1m0 18h1m2 4h1m-1-2h1m1 2h1m1-21h1m0 17h1m12-15h1m1 11h1m1-8h1m5 9h1m2 5h1m-1-15h1m-1 16h1m9 5h1m2-12h1m8 6h1m0-14h1m3 21h1m1-21h1m2 2h1m-1-8h1m1 7h1m8 20h1m1-1h1m35-22h1m18 23h1m3 0h1m0-26h1m5 27h1m-1-19h1m4-8h1m-1 4h1m1 18h1m-1-3h1m3-18h1m-1 20h1m5-1h1m2-7h1m5-2h1m0 10h1m3-21h1m6 4h1m6 7h1m8 10h1m2 0h1m0 4h1m-1-19h1m5 8h1m1 11h1m-1-26h1m2 25h1m2 3h1m0-23h1m5 19h1m6-2h1m2-19h1m6-4h1m5 7h1m1-7h1m9 11h1m1 15h1m1-13h1m6-4h1m6 5h1m3-2h1m2 15h1m-1-26h1m2 12h1m9 9h1m2-6h1m1-11h1m2 10h1m0-13h1m4-1h1m1 21h1m1-22h1m3 27h1m0-17h1m2 7h1m14 9h1m0-10h1m2-3h1m-1 13h1m4-14h1m2-4h1m0 17h1m3-21h1m0 19h1m1-20h1m12 21h1m1-9h1m0-12h1m13 8h1m2-4h1m5 3h1m10 19h1m0-27h1m0 18h1m1-3h1m1-9h1m-1-4h1m0 0h1m0 7h1m-1-1h1m3 10h1m-1-13h1m9 2h1m1 18h1m-1-12h1m2-14h1m0 19h1m0-3h1m4 0h1m15-1h1m6-3h1m1 12h1m14-17h1m17 16h1m2-22h1m2 1h1m5 1h1m10 21h1m3-24h1m0 26h1m3-12h1m0 12h1m2 0h1m1-7h1m-1-3h1m4-17h1m5 27h1m0-8h1m18-7h1m0-5h1m1 12h1m2 0h1m6 8h1m13-15h1m3-7h1m20 2h1m5 6h1m9-12h1m20 5h1m3-3h1m-4 28h1m-69 12h1m-6-11h1m-33 0h1m-15 7h1m-1-6h1m-4 5h1m-4-3h1m-5 3h1m-3-2h1m-1 20h1m-6-9h1m-6-5h1m-7 14h1m-9-14h1m-7 6h1m-9-18h1m-2 2h1m-1 6h1m-9 10h1m-1 3h1m-3-2h1m-8-12h1m-6-2h1m-4 2h1m-9-1h1m-2 8h1m-4 13h1m-1 1h1m-7-9h1m-4-9h1m-3 8h1m-4-7h1m-4 9h1m-3-1h1m-1 5h1m-6-14h1m-1 4h1m-3-9h1m-9 9h1m-3 8h1m-7-2h1m-1-17h1m-2-2h1m-5 16h1m-4 9h1m-2 0h1m-2-26h1m-1 4h1m-8 10h1m-1 11h1m-2-24h1m-2 19h1m-4-8h1m-2 11h1m-10 1h1m-2 5h1m-2-10h1m-2-14h1m-4 12h1m-2-16h1m-11 26h1m-4-26h1m-7 26h1m-3-1h1m-5-25h1m-1 13h1m-4 9h1m-29-7h1m-5 8h1m-6 1h1m-1-11h1m-3-8h1m-11 10h1m-9-6h1m-2 0h1m-2 10h1m-3 1h1m-1-12h1m-2 16h1m-8-7h1m-10-3h1m-3 5h1m-2-13h1m-10-7h1m-2 29h1m-5-18h1m-2 13h1m-2-18h1m-2 1h1m-6 8h1m-1 2h1m-7-12h1m-5 5h1m-1-10h1m-3 5h1m-3 10h1m-2 7h1m-6-16h1m-2-6h1m-3 14h1m-3 11h1m-5-24h1m-2 5h1m-7 18h1m-1-4h1m-2-6h1m-1 6h1m-3-7h1m-2 7h1m-3 4h1m-2-16h1m-1 3h1m-5 6h1m-3 11h1m-4-21h1m-3 8h1m-7-15h1m-3 11h1m-2 9h1m-8-12h1m-9-5h1m-6 22h1m-7 4h1m-20-28h1m-28 26h1m-13-23h1m-8 8h1m-1-2h1m-4 3h1m-6-7h1m-7 7h1m-3 14h1m-3-25h1m-3 14h1m-3-13h1m-1 11h1m-3 6h1m-5-8h1m-4 11h1m-1 0h1m-1-2h1m-7-10h1m-3 14h1m-3-17h1m-13 12h1m-5 2h1m-11 2h1m-6-11h1m-1 1h1m-2-13h1m-3 15h1m-6-14h1m-5 9h1m-3-4h1m-1-4h1m-2 25h1m-6-11h1m-2-7h1m-1-1h1m-2 9h1m-3-4h1m-3-14h1m-2 20h1m-1 0h1m-7-19h1m-7 15h1m-1-8h1m-8 17h1m-1-5h1m-9-7h1m-1 4h1m-2-11h1m-10 11h1m-8-1h1m-3-16h1m-1 7h1m-9-2h1m-1 14h1m-2-16h1m-2 14h1m-3-15h1m-10-1h1m-5 7h1m-4-7h1m-5 11h1m-1-7h1m-5 3h1m-6 11h1m-2-2h1m-3 9h1m-1 0h1m-5-14h1m-12 16h1m-1-14h1m-3 5h1m-11 1h1m-6-4h1m-3-11h1m-5 14h1m-11 8h1m-8-10h1m-5 3h1m-4 8h1m-3-13h1m-25 0h1m-2-5h1m-1 2h1m-15-8h1m-29 4h1m-4 0h1m-4 8h1m-1-15h1m-1 4h1m-11-3h1m-5 8h1m-2 13h1m-8-21h1m-1-2h1m-3 18h1m-5-4h1m-4-2h1m-13-9h1m-12 0h1m-6 9h1m-3-11h1m-6 4h1m-8 7h1m-20-8h1m-27 4h1m76 29h1m0-2h1m60 5h1m1-10h1m17 7h1m2 0h1m4 14h1m5-10h1m-1 8h1m8-12h1m4 8h1m11-10h1m4 12h1m7-15h1m1 17h1m0-14h1m2 0h1m1 8h1m13 3h1m4 9h1m0-24h1m3 15h1m7 11h1m-1-25h1m1 25h1m7-14h1m5 15h1m1-26h1m5 3h1m0 19h1m2-16h1m-1-7h1m2-1h1m1 2h1m3 9h1m2 3h1m3 14h1m2-3h1m0-3h1m3-6h1m2-16h1m-1 20h1m1-19h1m7 14h1m13 7h1m1-12h1m2 15h1m2-18h1m-1-4h1m7 13h1m11-1h1m5 3h1m5-10h1m7 2h1m2-9h1m0 7h1m9-3h1m1 4h1m7 5h1m9 7h1m-1-14h1m4-4h1m6 6h1m0 2h1m2-5h1m5 18h1m5-20h1m-1 18h1m3-6h1m10 7h1m5-6h1m10-2h1m2-4h1m1-10h1m0 25h1m11-7h1m0-1h1m0-14h1m8 7h1m1 6h1m13-6h1m9-1h1m1 16h1m6-20h1m-1 6h1m3 12h1m-1 1h1m3-1h1m-1-15h1m4 2h1m1-5h1m3 10h1m7 4h1m0-19h1m2 21h1m-1-16h1m1 2h1m1-4h1m0-1h1m-1 24h1m12-26h1m-1 9h1m7-5h1m1 2h1m5 6h1m4 16h1m1-23h1m2 9h1m2-14h1m-1 14h1m0 10h1m1 3h1m0-6h1m4-17h1m2 20h1m-1-7h1m9-6h1m0-2h1m2-7h1m3 8h1m4-1h1m1 17h1m0-1h1m1-13h1m3 3h1m7 10h1m1-16h1m0-8h1m2 22h1m7-14h1m15-1h1m1-2h1m1 7h1m-1-8h1m3 2h1m0 9h1m2-4h1m14-11h1m-1 9h1m3 17h1m0-12h1m5-10h1m4 7h1m-1-11h1m8 11h1m9 4h1m7-17h1m4 12h1m4 0h1m2-5h1m11 2h1m1 0h1m0-9h1m20 24h1m5-22h1m-87 51h1m-19-18h1m-58-5h1m-13 2h1m-22 13h1m-2-11h1m-22 15h1m-6-16h1m-15 1h1m-5-3h1m-7-1h1m-3 6h1m-12 0h1m-6 11h1m-5-11h1m-18-2h1m-35-1h1m-6 3h1m-8 9h1m-46-13h1m-53-2h1m-2 5h1m-35 8h1m-9-7h1m-29-4h1m-8-1h1m-3 0h1m-6 2h1m-11 1h1m-43 5h1m-10 17h1m-6-18h1m-1-2h1m-6-1h1m-1-5h1m-4 10h1m-15-3h1m-22 13h1m-6-18h1"/><path id="pE" d="M6436 1222h1m0-3h1m2-11h1m1 2h1m4 13h1m0-9h1m6 4h1m0 9h1m0 0h1m11 1h1m6-1h1m17 0h1m9-4h1m37 34h1m-4-2h1m-3-8h1m-2 6h1m-4-5h1m-4-4h1m-2 5h1m-3-10h1m-3 0h1m-1 0h1m-2 6h1m-1 4h1m-3-1h1m-2-4h1m-9 0h1m-3 3h1m-2-8h1m-3 1h1m-6 1h1m-6-5h1m-4-1h1m-2 0h1m-2 7h1m-10-10h1m-3 9h1m-11-11h1m-5 8h1m-128 141h1m-17-1h1m13 4h1m11 14h1m7-7h1m35 19h1m-6 13h1m-9-3h1m-3 6h1m-10-3h1m329 548h1m-35 2h1m-3 4h1m-21-3h1m-5 6h1m-44 1h1m-290-7h1m-13 6h1m-15-5h1m-110 1h1m-29 2h1m-2-2h1m-7 1h1m-3 2h1m-3-4h1m-4 5h1m-7 0h1m13 11h1m11-8h1m1 3h1m3-2h1m1 0h1m6-1h1m11 19h1m85 5h1m13-25h1m3 14h1m1-10h1m2-4h1m4 8h1m0 17h1m2-19h1m3-1h1m14 23h1m3-7h1m4 6h1m-1-1h1m-1-1h1m4 3h1m7-4h1m3-6h1m151 9h1m5-9h1m4 8h1m16-3h1m0-1h1m4 2h1m2-5h1m3 9h1m6-13h1m4 5h1m0-11h1m-1 16h1m10-3h1m2-8h1m1-4h1m4 17h1m2-15h1m11 3h1m1 12h1m7-11h1m1-7h1m0 17h1m0-5h1m1-10h1m0 10h1m0-12h1m-1 13h1m2 3h1m3-11h1m-1-4h1m1 0h1m1 5h1m1-2h1m1 15h1m1-24h1m-1 7h1m0-5h1m5 4h1m6 5h1m0-8h1m1 3h1m-1 12h1m2-21h1m2 18h1m-1-5h1m5 5h1m0 2h1m2-7h1m0-6h1m-1 1h1m5-9h1m1 0h1m1 20h1m0-10h1m2 9h1m1-9h1m1-10h1m0 13h1m6 3h1m2-3h1m5-10h1m-51 29h1m-83 2h1m-3-3h1m-11 3h1m-9-4h1m-27 9h1m-12 6h1m-13-4h1m-4-2h1m-2-8h1m-6 16h1m-3-5h1m-14-4h1m-104 18h1m-9-4h1m-6-3h1m-11-10h1m-6 3h1m-2-11h1m-10 12h1m-10 8h1m-6-12h1m-14-4h1m-8 7h1m-6-8h1m45 27h1m19 16h1m4-11h1m1 7h1m-1 12h1m11-17h1m0 9h1m2 10h1m0-4h1m0-6h1m0 11h1m5 9h1m-23-4h1"/><path id="pT" d="M6662 1310h1m-12 7h1m-4-9h1m-4 6h1m-3-4h1m-4-11h1m-1 20h1m-4-11h1m-2 1h1m-2 3h1m-5-15h1m-1 5h1m-2 3h1m-1-10h1m-5-4h1m-1 8h1m-4 8h1m-1-2h1m-6-13h1m24 34h1m2-2h1m0 0h1m6 2h1m3 6h1m0 15h1m0-15h1m3 5h1m2 3h1m4 7h1m3-2h1m1-4h1m0 1h1m-1 6h1m8 1h1m50 29h1m-22-8h1m-6 1h1m-1 3h1m-2-19h1m-4 9h1m-2 10h1m-2 0h1m-2-12h1m-6 13h1m-4 2h1m-2-7h1m-3-19h1m-3 8h1m-1-3h1m-2 15h1m-5 3h1m-3-23h1m-2 10h1m-3-9h1m-2-1h1m-5 13h1m-14-12h1m44 29h1m8 2h1m3 5h1"/><path id="pB" d="M6064 2039h1m-8-9h1m-2 9h1m-4-7h1m-5 2h1m-1-8h1m-6-1h1m-3 8h1m-7-1h1m-4 6h1m-4-11h1m-4 10h1m-2-6h1m-11 2h1m-1-9h1m-1 3h1m-3 7h1m-2-6h1m-4 6h1m-3-7h1m-3 7h1m-10 2h1m-2-11h1m-3 12h1m-6-6h1m-4 6h1m-1-6h1m-4-2h1m-2 6h1m-4 0h1m-1 1h1m-3-1h1m-1 2h1m-4-3h1m-2 3h1m-19-3h1m-3-1h1m-4 3h1m-4 3h1m-5-3h1m-8 2h1m-2-4h1m-3-2h1m-13 2h1m-6 8h1m0 2h1m8-4h1m1 6h1m2-1h1m3-3h1m0-1h1m9 2h1m4 1h1m12-3h1m69 1h1m6 4h1m5-5h1m4-1h1m1 8h1m2-6h1m5 11h1m0-13h1m7 4h1m1-1h1m2 7h1m1-4h1m0 1h1m0-5h1m0 10h1m0-5h1m3-4h1m-1 1h1m0 7h1m7 9h1m1-8h1m0 5h1m-1-8h1m2-1h1m3 8h1m12 4h1m1-15h1m3 24h1m2-7h1m2 2h1m1 4h1m-1-11h1m0 6h1m1 5h1m13-9h1m-18 12h1"/><path id="pCR" d="M6262 1250h1m-17 8h1m-13-10h1m-74 1h1m-5-7h1m-85 12h1m-99-24h1m-16 9h1m-9 13h1m-75 34h1m43 0h1m44-11h1m30-12h1m17 24h1m37-10h1m3 8h1m6-2h1m181 0h1m5-23h1m5 17h1m36 1h1m8-14h1m5 14h1m15 19h1m-39 12h1m-75-15h1m-88 1h1m-9 18h1m-5-19h1m-78 5h1m-20 3h1m-56 16h1m-19-1h1m-8-16h1m-48-7h1m-67 48h1m3-16h1m7 8h1m28 2h1m17-14h1m5 0h1m24 1h1m26 7h1m29 9h1m79 1h1m211 5h1m-15 27h1m-37 0h1m-16-3h1m-57-4h1m-17 12h1m-56-12h1m-38-10h1m-30-3h1m-6 18h1m-131-4h1m-34-16h1m-5 23h1m-69 14h1m18-2h1m45 10h1m80-13h1m117 10h1m23-1h1m1 18h1m104-29h1m123 6h1m-372 52h1m-125-18h1m-43-2h1m13 22h1m1 27h1m30-7h1m-1-18h1m7 25h1m111-1h1m102-16h1m43 16h1m75-25h1m-315 40h1m-47-11h1m-23 28h1m-40-5h1m-53 3h1m42 5h1m14 4h1m60 20h1m7-22h1m24 19h1m3-14h1m3-4h1m138 14h1m123-11h1m-211 45h1m-17 0h1m-26 5h1m-6-25h1m-28 5h1m-4 16h1m-72-1h1m-50-8h1m-49 21h1m42 18h1m44 0h1m42-9h1m26 5h1m25-18h1m69 9h1m32 12h1m295 22h1m-247 14h1m-155-17h1m-15 15h1m-17 1h1m-20-20h1m-97 6h1m-5 2h1m-23 14h1m-1-7h1m-10-8h1m79 24h1m106 9h1m1 3h1m17-20h1m13 7h1m19-4h1m160 21h1m-142 31h1m-9 4h1m-51-5h1m-13-22h1m-55 16h1m-9-15h1m-17 15h1m-11-3h1m-88-7h1m-45 26h1m67 23h1m11-17h1m39 9h1m8 8h1m20-20h1m13 2h1m-1 14h1m56-15h1m4 18h1m29-20h1m94 2h1m121 47h1m-108-7h1m-53 6h1m-56 0h1m-38-22h1m-28 19h1m-27 0h1m-10 6h1m-45-7h1m-6-11h1m-20 12h1m-4-1h1m-1-18h1m-6 1h1m-37 23h1m-12 2h1m-10-8h1m-31 26h1m104-3h1m28 7h1m7-18h1m49 14h1m23 13h1m10-19h1m19 6h1m11-16h1m179 1h1m26 38h1m-26-2h1m-88 2h1m-114 7h1m-14 7h1m-78-3h1m-54 9h1m-51 0h1m116 17h1m96-7h1m6-7h1m2 9h1m93 2h1m71 4h1m464-4h1m-520 45h1m-52-10h1m-10-5h1m-83-6h1m-4 16h1m-70-21h1m-57 26h1m-12-24h1m18 46h1m36-10h1m17 15h1m16-22h1m48 2h1m0 17h1m16-14h1m9 3h1m99-7h1m82 34h1m-167 7h1m-91 22h1m63-7h1"/><path id="pCB" d="M5996 1267h1m293 3h1m1-6h1m41 7h1m21 8h1m20 17h1m-130 11h1m-259 8h1m-34-4h1m-104 19h1m59-2h1m175 3h1m289-1h1m7 18h1m30-23h1m54 22h1m-7 28h1m-39-19h1m-109-1h1m-326 12h1m98 15h1m44 24h1m118-14h1m70-8h1m25 6h1m1 4h1m22 13h1m30-5h1m10-14h1m3 6h1m15 3h1m17-11h1m15 4h1m19 9h1m9 0h1m44-14h1m60 39h1m-28-14h1m-7 12h1m-5 2h1m-25 12h1m-2-5h1m-4-4h1m-58-1h1m-123 4h1m-61-15h1m-321 15h1m-58 32h1m169-17h1m315 23h1m49-1h1m11 0h1m219 25h1m-4-17h1m-35-1h1m-12 25h1m-13-12h1m-22-4h1m-8 9h1m-114-9h1m-11 13h1m-3-5h1m-16-6h1m-11 14h1m-14-26h1m-2-3h1m-18 19h1m-71 8h1m-27-17h1m-109 9h1m-170 8h1m-66-20h1m-225 27h1m388 16h1m82-11h1m6 4h1m134-6h1m26 5h1m47-8h1m13-3h1m72 25h1m66-1h1m50-21h1m7 1h1m36-4h1m12 2h1m-70 44h1m-38 9h1m-13-26h1m-15 10h1m-97 16h1m-87-25h1m-74 2h1m-232 9h1m-51-2h1m172 48h1m194-6h1m15-14h1m131-6h1m5 4h1m19 2h1m2 2h1m51 6h1m30 12h1m5-28h1m26 26h1m50-26h1m19 8h1m13 21h1m2-22h1m41 9h1m-146 36h1m-6-10h1m-63-4h1m-4 1h1m-3-7h1m-9 1h1m-9 13h1m-8-12h1m-87 15h1m-23-16h1m-10 22h1m-10 2h1m-2-24h1m-75 12h1m-11 0h1m-78 12h1m-52-2h1m-12-9h1m-49 13h1m-66-26h1m-133 14h1m118 38h1m13-18h1m110 9h1m47 4h1m63 1h1m8 0h1m14-11h1m29-6h1m19 2h1m25 2h1m43 3h1m10 7h1m14-17h1m42 26h1m57-9h1m14 1h1m36-19h1m3 10h1m96 7h1m22 4h1m-8 24h1m-30-5h1m-92-10h1m-20 21h1m-29-14h1m-25-6h1m-17 16h1m-27-13h1m-97-2h1m-2 0h1m-13 23h1m-4-24h1m-17 21h1m-6-18h1m-46 21h1m-4-24h1m-42 15h1m-29-2h1m-22 14h1m-140-12h1m-14-14h1m-88-2h1m-275 23h1m338 30h1m227-23h1m13 1h1m54 5h1m7 5h1m78-10h1m54 25h1m130-25h1m21 24h1m9-23h1m7 7h1m101-3h1m-78 32h1m-12 10h1m-2-9h1m-5 20h1m-60-2h1m-15-9h1m-11-9h1m-20-5h1m-13 0h1m-94 14h1m-36-6h1m-11-1h1m-10 18h1m-105-3h1m-39-25h1m-55 27h1m-29-21h1m-26 21h1m-29-11h1m-78 3h1m-113 9h1m-191-22h1m314 38h1m2 5h1m214-10h1m16 10h1m9 9h1m7-8h1m51-2h1m4-4h1m11-3h1m7-1h1m11 15h1m72 2h1m26-2h1m35-7h1m71-11h1m15 10h1m22 6h1m5-7h1m-1 9h1m3-22h1m19 6h1m-78 47h1m-21-22h1m-6 13h1m-1 10h1m-2-1h1m-106-25h1m-13 10h1m-41-5h1m-1 9h1m-8-8h1m-5 10h1m-2-7h1m-9 13h1m-28-17h1m-14-3h1m-56 9h1m-9-7h1m-188 16h1m-22-20h1m-80 8h1m-186 38h1m293-5h1m52 14h1m78-17h1m21 5h1m14 10h1m9-22h1m81 6h1m33 7h1m102 6h1m23-8h1m24 0h1m17-14h1m1 24h1m53 0h1m40-1h1m23-11h1m4 13h1m-49 24h1m-77-13h1m-33 19h1m-49-10h1m-2-5h1m-25 7h1m-6-15h1m-2 1h1m-29 9h1m-23 10h1m-27-22h1m-46 21h1m-190 4h1m-43-24h1m-53 2h1m-25 24h1m-34 2h1m-30-20h1m-15 27h1m204 17h1m61-19h1m49-3h1m34 26h1m3-10h1m15-1h1m31 8h1m19-17h1m22 1h1m91-5h1m63 4h1m50 0h1m5 6h1m-100 43h1m-25-14h1m-24 9h1m-30 6h1m-43-24h1m-11-3h1m-51 26h1m-194-1h1m-80-19h1m-34 2h1m-146 11h1m-19-5h1m-37 33h1m134-10h1m55 2h1m231 16h1m-1-7h1m24 9h1m28-17h1m15-1h1m8 8h1m2-4h1m14-11h1m52 10h1m2-5h1m-63 28h1m-325 0h1m-43 1h1"/><path id="oR" d="M6052 2722h1m5 5h1m11-1h1m132-4h1m-54 31h1m-36 4h1m-45-5h1m-14-18h1m-13-1h1m-4 20h1m-3-3h1m-65 6h1m-58-2h1m-237 19h1m151 11h1m46-9h1m81 9h1m2-1h1m16-10h1m0 4h1m18 9h1m5-6h1m3-6h1m1-5h1m20-3h1m24-6h1m5 29h1m2-25h1m4 17h1m25-15h1m11 12h1m11 9h1m6-15h1m19-2h1m0-5h1m9-4h1m83 31h1m-40 3h1m-88 19h1m-7-22h1m-34 26h1m-2-1h1m-4 0h1m-9-18h1m-4-3h1m-15-1h1m-9 12h1m-4 4h1m-4 3h1m-8-10h1m-6-9h1m-4 5h1m-3 17h1m-19-22h1m-3 21h1m-6-5h1m-23 6h1m-6-23h1m-18 10h1m-5 9h1m-12 2h1m-10-1h1m-5 3h1m-20-25h1m-6 9h1m-7-6h1m-55 19h1m-9 2h1m-91 21h1m88-11h1m13 8h1m2-6h1m3-1h1m16 0h1m8 19h1m1-17h1m1 17h1m9-9h1m-1 11h1m0-3h1m0-3h1m15 7h1m10-13h1m-1-3h1m4 2h1m-1-13h1m1 27h1m3-19h1m3 18h1m-1-13h1m5-4h1m-1 8h1m1-18h1m0 15h1m1-2h1m14-6h1m27-5h1m8 4h1m0 18h1m6-20h1m17 1h1m12 16h1m12-5h1m0 4h1m9-7h1m14 15h1m12-13h1m10 10h1m8-16h1m0 16h1m2-21h1m12 14h1m1-17h1m7 0h1m23 13h1m21 11h1m21-25h1m14 6h1m48 26h1m-41 24h1m-28-26h1m-32 17h1m-27-2h1m-22-1h1m-5 1h1m-7 2h1m-9-2h1m-7-6h1m-10 15h1m-1-2h1m-2-11h1m-13-5h1m-1 17h1m-2-5h1m-10-6h1m-1 8h1m-3 1h1m-5-2h1m-7-2h1m-7-14h1m-1 19h1m-6-17h1m-2-1h1m-4 22h1m-8-15h1m-1 17h1m-9-10h1m-3 1h1m-7-4h1m-4 3h1m-3 2h1m-1-18h1m-2 23h1m-3-7h1m-20 9h1m-2-2h1m-9-12h1m-2 11h1m-6-17h1m-8 6h1m-6-10h1m-1 4h1m-2 21h1m-3-9h1m-2 4h1m-8 1h1m-2-14h1m-2 15h1m-10-24h1m-4-2h1m-1 12h1m-6-5h1m-8-4h1m-2 5h1m-8 2h1m-3 4h1m-2 10h1m-4-10h1m-2-14h1m-5 0h1m-1 28h1m-5-12h1m-9 12h1m-5-5h1m-13 0h1m-1-9h1m-6 6h1m-1-1h1m-1-4h1m-3-11h1m-4 3h1m-5-1h1m-5-2h1m-4 5h1m-3 14h1m-5-16h1m-4 17h1m-2-13h1m-4 9h1m-5-10h1m-4 12h1m-2-12h1m-13 17h1m-1-6h1m-4 8h1m-1-15h1m-2 5h1m-7-12h1m-3 21h1m-8-7h1m-12-10h1m-2-10h1m-9 27h1m-146 31h1m79-20h1m5-8h1m6 26h1m17-4h1m7-21h1m4 17h1m-1 3h1m2-22h1m2 4h1m15-2h1m8 12h1m2 6h1m6 1h1m0-9h1m0 8h1m1 0h1m12-3h1m5 8h1m23-23h1m11 18h1m4-13h1m23 21h1m14-25h1m10 6h1m0-3h1m7 13h1m26-10h1m2 6h1m-1 2h1m0 10h1m0 0h1m3 0h1m4-5h1m0 0h1m1-2h1m3 4h1m2-22h1m12 20h1m12-8h1m12-8h1m1 0h1m0-1h1m5 14h1m2 10h1m2-26h1m3 9h1m48-10h1m24 21h1m55-7h1m104 36h1m-101 7h1m-20-20h1m-65 17h1m-13-3h1m-3-22h1m-8 9h1m-5 17h1m-2-20h1m-5-1h1m-4 1h1m-6 19h1m-2-20h1m-2 1h1m-1 5h1m-4 3h1m-4 5h1m-2-15h1m-3 7h1m-2-10h1m-9 19h1m-1-10h1m-2 7h1m-7-14h1m-4 20h1m-1-10h1m-7 6h1m-7-4h1m-2 9h1m-3-4h1m-2-1h1m-4-12h1m-3 17h1m-3-13h1m-2 1h1m-2 12h1m-7-19h1m-1-6h1m-2 19h1m-1 1h1m-2-6h1m-3 9h1m-2-17h1m-2 4h1m-1-1h1m-1 11h1m-2-11h1m-3-2h1m-4 17h1m-3-9h1m-3 12h1m-3-15h1m-1 0h1m-2 15h1m-5-27h1m-5 22h1m-3-2h1m-1 8h1m-2-26h1m-4 14h1m-2-2h1m-12 2h1m-3-15h1m-2 2h1m-2 10h1m-2 5h1m-1 10h1m-5-27h1m-2 2h1m-2 16h1m-4 1h1m-2 8h1m-9-22h1m-3 0h1m-5 16h1m-1 3h1m-2-2h1m-6 0h1m-3 6h1m-1-3h1m-2-4h1m-5-19h1m-1 23h1m-4-8h1m-2-11h1m-8 1h1m-2 5h1m-5-1h1m-3-5h1m-2-6h1m-2 19h1m-1-2h1m-2-4h1m-3 4h1m-4 10h1m-1-26h1m-14 11h1m-6 11h1m-6-20h1m-1 7h1m-1 7h1m-5 9h1m-18-15h1m-6-11h1m-15 12h1m-1 14h1m-7-2h1m-2-24h1m-1 6h1m-3 20h1m-2-13h1m-3 9h1m-3-11h1m-2 14h1m-4-22h1m-5 21h1m-1-14h1m-2 18h1m-2-6h1m-4-2h1m-9-8h1m-9 12h1m-5-15h1m-4 3h1m-1-8h1m-8 22h1m-8-20h1m-4-6h1m-3 21h1m-2 6h1m-7-17h1m-1 7h1m-26 9h1m-5-14h1m-17 9h1m-10 5h1m13 12h1m12-8h1m12 19h1m2-18h1m-1 16h1m20-3h1m0 0h1m3-5h1m3 19h1m0-21h1m9 17h1m1-7h1m7 6h1m19-17h1m-1-1h1m0-5h1m-1 28h1m14-23h1m1 23h1m3-19h1m0 19h1m8-17h1m1 12h1m2-18h1m0 20h1m1-5h1m1 7h1m3-1h1m0 2h1m6-20h1m0 0h1m3 4h1m2 8h1m1-6h1m2 10h1m3-20h1m-1 2h1m0 11h1m-1-17h1m-1 20h1m0-19h1m-1-2h1m4 4h1m0 25h1m0-1h1m3-17h1m-1-10h1m0 13h1m-1-3h1m0 9h1m1-19h1m-1 11h1m-1-9h1m0-2h1m-1 10h1m0 13h1m1-3h1m-1-3h1m0-6h1m-1-10h1m0 6h1m0 18h1m0-20h1m-1 15h1m0-14h1m1 3h1m-1-3h1m-1 21h1m2-15h1m0-6h1m1 1h1m0 10h1m-1-12h1m0 18h1m1-15h1m0-7h1m-1 15h1m5 5h1m2 4h1m0-16h1m0-5h1m0 6h1m0-9h1m0 13h1m0-5h1m-1 12h1m0 4h1m-1-14h1m0-7h1m2 16h1m1-6h1m-1-4h1m-1-3h1m0 3h1m-1-4h1m0 18h1m-1-18h1m22 6h1m0-13h1m-1 26h1m-1-11h1m0-10h1m0 16h1m0-11h1m2 18h1m0-6h1m0-15h1m0 4h1m0-2h1m1-7h1m-1-1h1m0 23h1m3-6h1m0 0h1m0-4h1m0 13h1m-1-14h1m3 6h1m-1-10h1m1-5h1m0 21h1m1-10h1m0-14h1m9-1h1m0 17h1m1-14h1m0 7h1m0 18h1m1-17h1m1 1h1m0 6h1m1-2h1m5-13h1m8 13h1m-1-11h1m0 15h1m2-20h1m0 13h1m4-13h1m0 23h1m-1-6h1m14 0h1m2-3h1m3-13h1m1-1h1m0 28h1m8-13h1m0 4h1m11-8h1m74-4h1m25 42h1m-85 4h1m-2 4h1m-20-8h1m-3 1h1m-17-17h1m-8 0h1m-17 25h1m-8-10h1m-2-8h1m-5 10h1m-3-7h1m-7-12h1m-4 14h1m-6 7h1m-1-8h1m-6 7h1m-6-17h1m-1-2h1m-8 8h1m-2 8h1m-1-10h1m-2 11h1m-4 6h1m-2-7h1m-2-4h1m-2 4h1m-4-11h1m-2 3h1m-8-4h1m-5-1h1m-1 15h1m-6-8h1m-3-12h1m-2 6h1m-3 17h1m-4-9h1m-4-2h1m-3 9h1m-4-15h1m-3 15h1m-3-9h1m-1 6h1m-2 4h1m-1-10h1m-4-12h1m-5 20h1m-9 9h1m-3-7h1m-5-22h1m-3 14h1m-5 14h1m-1 0h1m-2-26h1m-1 7h1m-2 4h1m-4 3h1m-6-1h1m-5-3h1m-3-2h1m-2 8h1m-4-10h1m-2 10h1m-4 11h1m-2-14h1m-2 9h1m-2-8h1m-1-11h1m-2 21h1m-2 2h1m-1-13h1m-3-12h1m-4 21h1m-4 2h1m-3-19h1m-1 5h1m-2 6h1m-8 8h1m-3-9h1m-2-17h1m-2 19h1m-6-18h1m-3 0h1m-2 7h1m-2 14h1m-4-19h1m-1 11h1m-3-12h1m-1 0h1m-8 25h1m-2-13h1m-2-2h1m-1 0h1m-2 17h1m-2-21h1m-3 4h1m-2 5h1m-4-2h1m-1 10h1m-1-11h1m-2 2h1m-3-16h1m-4 18h1m-6 7h1m-2-19h1m-5 11h1m-1 3h1m-3-10h1m-3-5h1m-2 10h1m-2 6h1m-2-7h1m-2 0h1m-2 7h1m-3 1h1m-10 5h1m-6-26h1m-3 15h1m-3-10h1m-4 0h1m-10 4h1m-3-3h1m-1 19h1m-3-23h1m-7 26h1m-7-21h1m-2-7h1m-4 8h1m-9 12h1m-3-4h1m-4-11h1m-6-4h1m-3 11h1m-2-1h1m-6 14h1m-10-3h1m-1-12h1m-2-1h1m-23-9h1m-12 24h1m-56-6h1m-14 40h1m11-19h1m16 6h1m18-1h1m10-4h1m9-5h1m3 12h1m16-2h1m0-15h1m7 18h1m4-13h1m7 12h1m2 2h1m0-18h1m3 23h1m10-17h1m5 19h1m0-22h1m-1 24h1m6-8h1m10-2h1m-1-2h1m3 0h1m0 3h1m0 2h1m-1-2h1m0 3h1m2-11h1m-1-10h1m6 16h1m-1 4h1m0 3h1m-1-4h1m0 6h1m-1-23h1m4 16h1m1-11h1m-1 1h1m3 18h1m-1-13h1m0 6h1m0-1h1m1-4h1m-1 8h1m0-2h1m-1-9h1m-1 8h1m5 0h1m0-7h1m-1 1h1m2-2h1m2 14h1m3-14h1m-1 13h1m1 3h1m12-26h1m3 6h1m-1 9h1m0 3h1m6-14h1m0 12h1m0-1h1m4-11h1m-1-6h1m2-1h1m2 10h1m2 16h1m0-4h1m1-21h1m1 3h1m1 0h1m1 17h1m10-15h1m2 6h1m-1-12h1m0 5h1m1-3h1m0 4h1m5 9h1m1 12h1m4-18h1m0 7h1m0 1h1m6 4h1m2-10h1m-1-3h1m2 4h1m1 17h1m0-12h1m1 10h1m0-1h1m4-6h1m1-16h1m6 5h1m0-8h1m2 16h1m0 10h1m1-26h1m3 0h1m0 27h1m2-21h1m0-5h1m1 8h1m-1 4h1m2 7h1m7-4h1m-1-4h1m0-3h1m6-7h1m2 3h1m-1 3h1m4 3h1m55-9h1m2-2h1m3 6h1m9 19h1m15 2h1m4-26h1m3 0h1m11 7h1m-1 20h1m6 0h1m6-14h1m10 2h1m54 2h1m-65 18h1m-8 6h1m-96 15h1m-20-17h1m-14-9h1m-7-1h1m-1 8h1m-1-4h1m-14 18h1m-5-2h1m-1-5h1m-1-9h1m-7 6h1m-2 10h1m-2-13h1m-1 10h1m-2-13h1m-8 10h1m-4 0h1m-3 4h1m-4-21h1m-2 18h1m-5 1h1m-15 3h1m-6-12h1m-2 5h1m-14 13h1m-2-18h1m-3 1h1m-4 5h1m-1-1h1m-2 14h1m-9-8h1m-3-15h1m-2 22h1m-8-13h1m-3-7h1m-3-7h1m-9 12h1m-2-4h1m-6 17h1m-4-25h1m-2 6h1m-4 4h1m-4 18h1m-3-3h1m-4-22h1m-8 11h1m-1 0h1m-2 0h1m-1 10h1m-2-8h1m-1-10h1m-4 22h1m-2-26h1m-5 0h1m-7 11h1m-2 13h1m-1-20h1m-2 4h1m-6 3h1m-2 0h1m-14-11h1m-2 4h1m-2-7h1m-1 19h1m-11-2h1m-4-16h1m-1 28h1m-2-15h1m-1-1h1m-2-9h1m-1 24h1m-3-28h1m-5 2h1m-3 15h1m-2 2h1m-1 3h1m-2-11h1m-2 12h1m-3-12h1m-5-8h1m-2 20h1m-2-9h1m-10-13h1m-5 10h1m-1 13h1m-4-20h1m-2 23h1m-2-16h1m-2 3h1m-5 6h1m-4-11h1m-1 7h1m-3-2h1m-26-6h1m-3 8h1m-8 7h1m-1-15h1m-2 19h1m-19-7h1m-12-1h1m-74-19h1m-2 1h1m21 56h1m19-10h1m1-10h1m29 2h1m14-6h1m1 9h1m3-7h1m3-1h1m12 6h1m2-6h1m0 22h1m11-12h1m1-5h1m0 17h1m1-18h1m3-1h1m0-5h1m6-1h1m0 18h1m-1-3h1m2 8h1m2 1h1m2-21h1m13 12h1m1 5h1m5-9h1m15 12h1m2-3h1m21-1h1m0 1h1m0-5h1m3-16h1m-1 10h1m-1 1h1m0 12h1m5 0h1m-1-10h1m0 8h1m2 8h1m0-5h1m0 1h1m3-1h1m0-23h1m1 0h1m3 0h1m8 1h1m17 17h1m3-16h1m2 4h1m2 3h1m3 18h1m-1-22h1m-1 11h1m1-6h1m3-2h1m-1-5h1m2 25h1m0-26h1m1 21h1m3-6h1m2-3h1m4-15h1m2 4h1m3 4h1m0 10h1m2-7h1m4 4h1m-1 13h1m5-10h1m0-18h1m2 4h1m0 17h1m3-20h1m-1 14h1m4-6h1m2-5h1m1-2h1m2 13h1m3 3h1m0 3h1m-1-15h1m1-2h1m3 25h1m3-20h1m12 19h1m0-5h1m1-11h1m0-5h1m0 2h1m19-9h1m5 5h1m79-5h1m-58 37h1m-6-4h1m-35 7h1m-26 3h1m-22-7h1m-4 18h1m-19-15h1m-5-2h1m-10 22h1m-6-6h1m-22-22h1m-4 8h1m-2 4h1m-6-9h1m-3 11h1m-3 6h1m-1-7h1m-1 7h1m-14-1h1m-2 0h1m-38 0h1m-5-4h1m-12-3h1m-11-12h1m-4 27h1m-37-17h1m-21-1h1m-19-3h1m-14-3h1m-9 10h1m-8 7h1m-9-14h1m-36 8h1m-28 12h1m-4 15h1m77-9h1m5 14h1m37-2h1m40-1h1m6 1h1m-1-2h1m0 7h1m15-13h1m8-6h1m5 20h1m4 0h1m0-14h1m21 3h1m1 14h1m20-12h1m7 16h1m59-15h1m39-9h1m44 17h1m36 5h1m-171 10h1m-4 3h1m-21-7h1m-19 14h1m-11 3h1m-20 8h1m-25-12h1m-57-10h1m-41 32h1m23 8h1m48 1h1m0-12h1m9 21h1m162 3h1m63-2h1m-66 17h1m-83 1h1m-41-5h1m-95 35h1m108 20h1"/><path id="oB" d="M6248 2751h1m-3 3h1m-13-19h1m-122 38h1m79 6h1m2 9h1m-5 26h1m-67-1h1m-5-14h1m-33 3h1m-48 8h1m-7 37h1m35-5h1m29-10h1m3 12h1m8-17h1m4-2h1m29 24h1m16-23h1m22-5h1m2 5h1m10 0h1m6 15h1m7-10h1m26 4h1m26 34h1m-7-15h1m-13 12h1m-21 2h1m-10 5h1m-25-17h1m-17-5h1m-4 7h1m-4 5h1m-8-7h1m-3 9h1m-13-11h1m-3 8h1m-4 1h1m-66-4h1m-1 14h1m-29-13h1m-2 15h1m-18-13h1m-102 33h1m21 4h1m35 9h1m37-27h1m39 1h1m5 24h1m5-3h1m5-3h1m29-4h1m1 1h1m8 9h1m-1-8h1m3 8h1m10 1h1m3 1h1m-1-19h1m0 15h1m11 1h1m5-22h1m3 22h1m1 3h1m1-14h1m18 5h1m4-5h1m3 5h1m45-5h1m-26 34h1m-19-7h1m-12-3h1m-16 5h1m-19-10h1m-1 11h1m-23-12h1m-6 18h1m-13-10h1m-9-2h1m-5-7h1m-5 14h1m-2 7h1m-5-13h1m-7 7h1m-12 10h1m-3-8h1m-2-11h1m-2-6h1m-1 17h1m-15-6h1m-1 12h1m-7-4h1m-8-16h1m-3 7h1m-8 16h1m-11-10h1m-1-8h1m-3 20h1m-4-21h1m-2 19h1m-9 2h1m-1-24h1m-1 1h1m-11 19h1m-2-1h1m-9 0h1m-6-12h1m-14 16h1m-20 1h1m-3-12h1m-9-9h1m-6-4h1m-42 25h1m-76 19h1m41 2h1m6-2h1m28-13h1m17 2h1m25-2h1m1 8h1m2 7h1m25-7h1m1 8h1m10-2h1m7 5h1m6-6h1m2-6h1m1-3h1m4 16h1m0-17h1m2-3h1m2 5h1m6 7h1m6-5h1m3-12h1m-1 24h1m1-2h1m-1-9h1m4 4h1m1 12h1m6-16h1m2-7h1m1 9h1m3-7h1m0 19h1m-1-24h1m1 13h1m3 2h1m-1 7h1m1-2h1m3-4h1m2 5h1m15 2h1m8-1h1m4-17h1m-1 8h1m6-8h1m0 4h1m21-6h1m-1 2h1m3 19h1m1-4h1m-1-18h1m4 10h1m-1 13h1m23-15h1m23 25h1m-18-3h1m-8 2h1m-7 10h1m-3 5h1m-2 3h1m-24-19h1m-4 18h1m-5-19h1m-7 21h1m-4-5h1m-9-18h1m-3 10h1m-1-8h1m-5 6h1m-1 7h1m-2-18h1m-5 22h1m-3-7h1m-5 5h1m-5-1h1m-4-7h1m-6-4h1m-4 19h1m-3-7h1m-4 9h1m-4-26h1m-1-3h1m-3 15h1m-6 6h1m-3-17h1m-2 16h1m-2-1h1m-1-17h1m-4 22h1m-2-1h1m-2-22h1m-3 2h1m-1 5h1m-1 2h1m-12-3h1m-2 5h1m-1-2h1m-2 8h1m-2-1h1m-7-7h1m-10 3h1m-9 2h1m-2 12h1m-4-24h1m-3 10h1m-3 10h1m-4-3h1m-3-4h1m-2 1h1m-5 2h1m-8-17h1m-6 3h1m-1 0h1m-4 11h1m-2 9h1m-7-12h1m-7 15h1m-4-23h1m-2 7h1m-4-1h1m-10 18h1m-6-5h1m-2-16h1m-3 19h1m-3-13h1m-3-4h1m-16-1h1m-3 5h1m-1-3h1m-3 15h1m-7-23h1m-17 0h1m-34 12h1m-94 44h1m39-21h1m8 13h1m13-7h1m0-5h1m34 13h1m3-2h1m5-16h1m15 0h1m3 7h1m2 18h1m11 0h1m-1-7h1m0 3h1m0-23h1m0 25h1m5-18h1m5 3h1m0 16h1m4-18h1m1 3h1m3-4h1m1-1h1m5 14h1m0-18h1m8 22h1m-1-19h1m-1 14h1m1-18h1m0 6h1m1-8h1m0 15h1m0 6h1m3-3h1m2-11h1m-1 0h1m2-4h1m0 9h1m5 2h1m2-4h1m-1-3h1m4 4h1m4-12h1m-1 5h1m0 9h1m0 4h1m2-12h1m1 7h1m-1-13h1m1 18h1m9-1h1m0-16h1m2 3h1m3 11h1m0-10h1m8 15h1m-1-5h1m5 1h1m3 13h1m4-7h1m1-5h1m-1-4h1m1-9h1m-1 15h1m3 10h1m-1-2h1m1 0h1m0 1h1m1 0h1m-1-28h1m1 25h1m3-16h1m8 19h1m2-7h1m1-2h1m0 6h1m1-18h1m1 17h1m1-1h1m2-17h1m-1 5h1m0 17h1m2-16h1m2 5h1m2 5h1m-1-11h1m3 0h1m-1-10h1m21 11h1m1 2h1m3 10h1m0-14h1m4 14h1m0-7h1m1 4h1m25-19h1m1 1h1m22 7h1m-12 43h1m-25-13h1m-26-10h1m-12 12h1m-22-10h1m-14 18h1m-10-9h1m-2 2h1m-5 16h1m-2-12h1m-3 7h1m-5-24h1m-1 22h1m-1-7h1m-4 1h1m-1-11h1m-3-2h1m-3 6h1m-2 8h1m-5-3h1m-1-13h1m-4 24h1m-4-18h1m-2 17h1m-2-20h1m-6 0h1m-16 14h1m-5-3h1m-2 10h1m-3-7h1m-11-3h1m-6 5h1m-7-10h1m-1 7h1m-1 0h1m-3 1h1m-8 6h1m-4-5h1m-8-3h1m-2-1h1m-12 10h1m-5 4h1m-6-22h1m-2 6h1m-1-10h1m-1 25h1m-12-9h1m-3-1h1m-2-9h1m-1 3h1m-1 7h1m-5-17h1m-1 3h1m-3 15h1m-3-1h1m-7 9h1m-2-1h1m-2-10h1m-1-10h1m-2-2h1m-2 12h1m-3 8h1m-3 1h1m-2-1h1m-2-17h1m-2 16h1m-2-23h1m-2 9h1m-5 11h1m-3-1h1m-5-18h1m-4 10h1m-6 16h1m-2-24h1m-9 6h1m-2-3h1m-29 19h1m-19-2h1m-4-24h1m-15 20h1m-7 7h1m-11-23h1m-16 21h1m-1 3h1m-35-20h1m-4 18h1m-8-2h1m-14 12h1m16 2h1m31 20h1m2-20h1m2 16h1m4-5h1m4 3h1m7 0h1m22-7h1m7-14h1m2 21h1m-1 3h1m6-18h1m0 2h1m3 16h1m1-15h1m0-3h1m4 8h1m1 11h1m0-25h1m3 22h1m4 4h1m1-8h1m6 4h1m3-15h1m3 20h1m0-20h1m1 19h1m0-11h1m0 10h1m-1 3h1m1-8h1m0 4h1m1-21h1m0 5h1m3 20h1m-1-22h1m0 16h1m-1-18h1m0 15h1m0 3h1m0 5h1m-1-27h1m0 28h1m0-18h1m4-2h1m0 7h1m-1-5h1m0 16h1m4-13h1m-1-12h1m2 13h1m0-4h1m3 13h1m3-14h1m0-7h1m5 1h1m0 19h1m2-4h1m1-3h1m1-16h1m1 13h1m1-4h1m-1-1h1m0 13h1m0-20h1m0 8h1m-1-2h1m0 4h1m-1 7h1m2 1h1m0-15h1m-1 2h1m0 16h1m0-5h1m0 6h1m0-4h1m5-11h1m0 17h1m3 0h1m3 2h1m0-23h1m3 24h1m-1-23h1m1 7h1m7-11h1m0 11h1m1-7h1m-1 17h1m1 6h1m0-28h1m2 28h1m2-23h1m2 15h1m4 7h1m0-5h1m0-11h1m-1 9h1m1 3h1m1 5h1m5-23h1m-1 23h1m0-1h1m-1-1h1m-1-7h1m6 5h1m2-18h1m0 18h1m3-22h1m6 16h1m0 5h1m2-10h1m1 0h1m-1 8h1m4 2h1m-1 6h1m1-24h1m-1 22h1m11-20h1m1 16h1m-1-17h1m1 0h1m0 21h1m1-1h1m-1 0h1m-1 0h1m0-19h1m3 14h1m-1-7h1m1 8h1m1 6h1m0-10h1m4-5h1m3-7h1m5 18h1m1 2h1m4-3h1m1-6h1m-1-12h1m4 24h1m2-23h1m2-6h1m1 0h1m2 28h1m0-16h1m0 2h1m1-6h1m2 15h1m8-1h1m3-16h1m18 13h1m5 8h1m14-9h1m15 31h1m-4-5h1m-60-10h1m-4 1h1m-22 7h1m-7-1h1m-11-11h1m-5 18h1m-21-7h1m-8 10h1m-1-1h1m-5-12h1m-4-2h1m-2 1h1m-6 15h1m-2-8h1m-2 0h1m-4 4h1m-5 2h1m-1 9h1m-7-20h1m-5 19h1m-2-5h1m-4-4h1m-5-2h1m-2-11h1m-1 12h1m-2 9h1m-2-23h1m-5-3h1m-1 3h1m-2 14h1m-1 2h1m-2-3h1m-5 12h1m-1-12h1m-5 7h1m-3-24h1m-7 25h1m-4-16h1m-1-7h1m-1 23h1m-2-16h1m-3 10h1m-2-10h1m-6 6h1m-1-1h1m-3 4h1m-3-3h1m-1 3h1m-4-7h1m-6-8h1m-3 13h1m-1-15h1m-3 22h1m-8-16h1m-7 13h1m-4-10h1m-2 2h1m-4-7h1m-2 5h1m-2-1h1m-2 8h1m-2-6h1m-2-5h1m-2 20h1m-2-14h1m-2-5h1m-2-1h1m-2 9h1m-2-14h1m-2 11h1m-2 0h1m-2 13h1m-4-15h1m-1-6h1m-3 12h1m-2-16h1m-3 13h1m-1-1h1m-2-11h1m-1 17h1m-4 5h1m-1-5h1m-2-11h1m-2 2h1m-2 5h1m-1-1h1m-2 14h1m-1-17h1m-3-7h1m-4 12h1m-2 10h1m-4 4h1m-4-22h1m-3-3h1m-5 23h1m-4-8h1m-3-10h1m-2 18h1m-2-7h1m-3-7h1m-1-1h1m-2 2h1m-1 11h1m-4-11h1m-2 9h1m-1 2h1m-8-14h1m-3 13h1m-5-14h1m-16-8h1m-18 19h1m-18 2h1m-3 1h1m-9 3h1m-4-7h1m-4-4h1m-17-16h1m-3 25h1m-13-11h1m-24-7h1m-18 10h1m-6 21h1m17 15h1m45-10h1m12 5h1m4 3h1m0 6h1m0-11h1m6-9h1m-1-4h1m2 25h1m9-6h1m2-12h1m5 17h1m-1-5h1m-1-10h1m6 12h1m0 1h1m-1 2h1m3 2h1m1-28h1m8 25h1m0-4h1m7 6h1m1-26h1m0 18h1m-1 1h1m4-21h1m-1 3h1m2-2h1m1 6h1m-1 3h1m-1 14h1m-1-22h1m0 3h1m0 5h1m1 10h1m4-6h1m0 7h1m7-10h1m-1-3h1m3 10h1m-1 10h1m4-20h1m14 15h1m0-18h1m2 9h1m1-8h1m12 14h1m1-11h1m-1-5h1m2 18h1m0-6h1m-1-13h1m1 26h1m-1-24h1m-1 3h1m2 3h1m3-1h1m-1 7h1m2 4h1m-1-11h1m3 6h1m0 7h1m0-15h1m0-8h1m2 5h1m3 5h1m2 10h1m0-17h1m2 25h1m4-24h1m-1 21h1m2-1h1m1-23h1m2 21h1m-1 5h1m-1 2h1m-1-18h1m1-9h1m3 24h1m0 2h1m4-5h1m0 1h1m1-11h1m4 1h1m2 9h1m-1-20h1m6-2h1m-1 27h1m4 1h1m1-12h1m1 11h1m0-12h1m1 3h1m3 8h1m3 1h1m2-9h1m1 5h1m1-15h1m0-5h1m1 14h1m6-9h1m-1 7h1m0 5h1m5-6h1m24 11h1m22-1h1m8-13h1m-17 46h1m-4 0h1m-20-1h1m-3-6h1m-7-2h1m-18 0h1m-4 4h1m-2-19h1m-6-2h1m-10 1h1m-5 7h1m-2 19h1m-8-26h1m-3 7h1m-3 2h1m-2 7h1m-6-7h1m-2-9h1m-1 1h1m-7 21h1m-1-12h1m-6 0h1m-2 13h1m-6-18h1m-3-4h1m-2-1h1m-4-1h1m-1-2h1m-1 26h1m-3-10h1m-1-11h1m-4 3h1m-9 19h1m-7-24h1m-3 2h1m-1-4h1m-1 12h1m-2-9h1m-4 6h1m-1 7h1m-2 2h1m-3 1h1m-2 8h1m-1-17h1m-8-6h1m-1 24h1m-3-14h1m-2-7h1m-4 11h1m-3-1h1m-2-11h1m-1-7h1m-2 16h1m-1-7h1m-2 14h1m-2-12h1m-3 7h1m-2 4h1m-3-13h1m-1-5h1m-2 4h1m-1 16h1m-1-23h1m-3 4h1m-9 16h1m-2 7h1m-5 1h1m-3-2h1m-4-26h1m-1 11h1m-2 5h1m-3 0h1m-1 0h1m-1-3h1m-2 8h1m-1-17h1m-3 11h1m-6 3h1m-4-1h1m-1 4h1m-8-11h1m-12 1h1m-13-11h1m-10 27h1m-2-11h1m-1-12h1m-5 19h1m-5-20h1m-5-4h1m-18 11h1m-3 7h1m-2-15h1m-3 0h1m-2 9h1m-7-8h1m-3 12h1m-8-13h1m-16 7h1m-9-3h1m-4 10h1m-4-1h1m-2-4h1m-3-1h1m-17 16h1m-10-6h1m-10 5h1m-7-9h1m-34-16h1m28 38h1m18-4h1m6 17h1m2-6h1m13-8h1m1 1h1m4 13h1m25-15h1m1 13h1m5-10h1m3 8h1m0-11h1m8 17h1m3-21h1m5 14h1m2-6h1m5 9h1m0-10h1m1 9h1m-1-1h1m2-5h1m2-3h1m3-6h1m0 10h1m9-5h1m6 13h1m1-15h1m0 12h1m1 6h1m1-15h1m8 10h1m7-14h1m0 18h1m0-10h1m0 2h1m7-14h1m-1 6h1m-1 6h1m-1 5h1m1 6h1m0 4h1m2-14h1m0-11h1m0 2h1m-1-5h1m0 5h1m1 3h1m1 5h1m9 6h1m-1-4h1m0 6h1m-1-6h1m-1-15h1m1 1h1m1 4h1m1 14h1m5-7h1m0-10h1m-1 18h1m1-9h1m4-7h1m-1 13h1m-1 7h1m2-2h1m3 6h1m-1-8h1m10-2h1m4-10h1m0 5h1m1 4h1m3-10h1m5-4h1m3 14h1m1 2h1m8 4h1m4 3h1m-1-27h1m-1 6h1m9 15h1m7-15h1m-1-2h1m1-4h1m2 27h1m5-3h1m-1-17h1m0-1h1m45 1h1m2 12h1m95-13h1m-84 34h1m-13 8h1m-12-3h1m-4-10h1m-23 18h1m-42-3h1m-7-4h1m-4 11h1m-1 0h1m-4-24h1m-19 14h1m-16-14h1m-7 26h1m-15-26h1m-2-2h1m-6 12h1m-7 8h1m-8-9h1m-1-7h1m-8 8h1m-8-12h1m-4 12h1m-2 1h1m-4-1h1m-3-11h1m-18 1h1m-6 13h1m-2 12h1m-4-11h1m-4 5h1m-2-2h1m-4-2h1m-3 4h1m-7-16h1m-5 4h1m-6 14h1m-2-8h1m-4 11h1m-2-21h1m-5 9h1m-8-7h1m-4 19h1m-3-22h1m-4 11h1m-15 5h1m-10-12h1m-4 12h1m-3 5h1m-4-20h1m-20-5h1m-12 22h1m-6-9h1m-112-6h1m42 48h1m45-20h1m4 11h1m28 6h1m0-11h1m13 5h1m11-13h1m7 23h1m8-19h1m2 4h1m1 15h1m15-14h1m11-2h1m-1-2h1m9 7h1m10-14h1m7 4h1m4-2h1m3 25h1m0-18h1m2 0h1m7-9h1m4 3h1m11 17h1m1-19h1m0 13h1m18 2h1m10-14h1m1-3h1m8 10h1m3 15h1m5 2h1m0-19h1m39 10h1m37-7h1m13-4h1m-50 44h1m-27-20h1m-53 6h1m-17 14h1m-7-14h1m-23-4h1m-8-4h1m-18 3h1m-58-2h1m-3 0h1m31 29h1m43 5h1m48 6h1"/><path id="tR" d="M6199 2846h1m409 11h1m-195 17h1m-185-24h1m-36 44h1m19 2h1m0 12h1m13-23h1m75-1h1m12-3h1m43 17h1m34 9h1m13-18h1m21 2h1m27 12h1m18 1h1m0-4h1m10-18h1m16 26h1m11-1h1m2-12h1m26-4h1m39 12h1m6 1h1m76 0h1m32 34h1m-45-3h1m-38-16h1m-35 15h1m-39-20h1m-26-2h1m-27 22h1m-24-20h1m-5 20h1m-2-12h1m-6 3h1m-1 9h1m-13 1h1m-4-15h1m-14-4h1m-3 5h1m-8 3h1m-27 7h1m-23 3h1m-20-18h1m-1 5h1m-6-2h1m-4-4h1m-7 11h1m-18-1h1m-9 6h1m-5 5h1m-1 1h1m-23-3h1m-3-22h1m-15 4h1m-18 20h1m-19-3h1m-4 5h1m-22-3h1m-1-18h1m-2 5h1m-11-3h1m-67 15h1m-5 0h1m-55-5h1m46 39h1m2-11h1m15 9h1m4-5h1m34-3h1m0-1h1m1-15h1m9 14h1m2 8h1m13 3h1m8-20h1m2 19h1m-1-16h1m1-4h1m-1 15h1m2-18h1m2 7h1m0 1h1m2 0h1m2 10h1m7 5h1m16-15h1m0 14h1m8-11h1m1 4h1m6-11h1m4-5h1m0 21h1m0-21h1m-1-2h1m3 21h1m1 0h1m-1-3h1m4 9h1m6-10h1m7-9h1m1 7h1m-1-5h1m0 9h1m3 8h1m1-23h1m17 10h1m16 4h1m1 0h1m4-6h1m0 17h1m0-28h1m1 16h1m2 0h1m7 12h1m0 0h1m8 0h1m12-2h1m0-11h1m0 12h1m6-8h1m0 6h1m-1 0h1m9-14h1m13-5h1m5 7h1m26 7h1m4-2h1m9-18h1m5 24h1m4-10h1m40 9h1m2-13h1m1-5h1m9 18h1m7-20h1m-1 3h1m2-7h1m47 16h1m84-8h1m-20 46h1m-33-16h1m-23 4h1m-34 1h1m-3 2h1m-11 3h1m-3-13h1m-27 8h1m-13 14h1m-5-6h1m-4 7h1m-4-21h1m-19 18h1m-8-11h1m-2-1h1m-6-1h1m-7-11h1m-8 27h1m-22-12h1m-3-10h1m-12 2h1m-3 20h1m-8 0h1m-5-17h1m-9 14h1m-2-12h1m-17-11h1m-4 2h1m-13 3h1m-7 17h1m-14-2h1m-7-21h1m-8 28h1m-31-15h1m-3-7h1m-3 2h1m-12-5h1m-7 9h1m-2 13h1m-7-8h1m-1-1h1m-6-6h1m-5 6h1m-1-13h1m-2 6h1m-3 2h1m-6 9h1m-5-1h1m-6 7h1m-1-5h1m-1 5h1m-9-16h1m-2 11h1m-6 4h1m-2-17h1m-15 3h1m-14 5h1m-1 9h1m-2-21h1m-4 21h1m-4-12h1m-24-13h1m-1 3h1m-3 2h1m-2 16h1m-4-19h1m-2 25h1m-1-5h1m-3 0h1m-7-9h1m-33 1h1m-6-10h1m-7 22h1m-11-23h1m-5 5h1m-17 7h1m-6 12h1m-5-11h1m-19-11h1m-79 17h1m96 21h1m20 12h1m31-12h1m5 7h1m9-17h1m2 4h1m0-3h1m-1-2h1m6 23h1m11-6h1m3-10h1m16 15h1m13-18h1m2 1h1m0 13h1m6-5h1m13-8h1m-1 14h1m4-9h1m10-10h1m-1 8h1m4-7h1m0 17h1m5-7h1m1 6h1m-1-9h1m10-8h1m2 0h1m8 12h1m2-6h1m2 13h1m8-3h1m10-12h1m3 10h1m5-9h1m0 5h1m3 10h1m4-2h1m5-7h1m-1-12h1m3 16h1m1 9h1m1-23h1m7 8h1m8-8h1m0 4h1m20 9h1m8-6h1m3-3h1m0 3h1m-1 18h1m1-26h1m2 19h1m4-10h1m-1 12h1m8-10h1m4-4h1m22 2h1m23 15h1m1 2h1m9-18h1m7-6h1m3 3h1m39 19h1m4-22h1m1 23h1m2-2h1m9-20h1m-1 14h1m0-8h1m6-3h1m40 18h1m6-2h1m29-11h1m81 26h1m-86 9h1m-20 9h1m-12-3h1m-22 4h1m-13-7h1m-3-7h1m-2-8h1m-7 20h1m-12-17h1m-33-3h1m-8 15h1m-14-12h1m-8 7h1m-2-10h1m-6 21h1m-7-20h1m-5-8h1m-1 19h1m-5-1h1m-2-5h1m-21-10h1m-8 17h1m-6 3h1m-7 1h1m-4 2h1m-5 3h1m-3-6h1m-3-11h1m-3 2h1m-3 5h1m-2-12h1m-13 9h1m-2 9h1m-4-11h1m-2 3h1m-4 9h1m-4-12h1m-25-4h1m-10 14h1m-9-2h1m-2-22h1m-5 3h1m-17 3h1m-2-6h1m-4 20h1m-5-14h1m-2 16h1m-2-15h1m-19-6h1m-3 7h1m-21-1h1m-5-7h1m-11 23h1m-4 4h1m-1-17h1m-4-6h1m-2 16h1m-13 8h1m-5 1h1m-3-24h1m-3-2h1m-19 9h1m-3 9h1m-2-8h1m-3 16h1m-4-19h1m-3 15h1m-1-7h1m-5 2h1m-7-4h1m-14-16h1m-6 15h1m-2 5h1m-9-19h1m-2 23h1m-1-18h1m-2 11h1m-7 0h1m-1-9h1m-1 2h1m-7 6h1m-2-6h1m-14-8h1m-11 22h1m-6-23h1m-11 26h1m-23-26h1m-4 21h1m-16 21h1m10 7h1m36 8h1m2-18h1m7 19h1m2-16h1m3-1h1m11-12h1m1 27h1m1-1h1m1-12h1m-1-5h1m3-7h1m2 7h1m1 10h1m2 5h1m0-13h1m5 17h1m0-11h1m2 2h1m0-12h1m-1 12h1m0-10h1m-1 5h1m0-5h1m0-7h1m0 10h1m4-2h1m0 4h1m1 3h1m10 7h1m7-24h1m3 6h1m-1-3h1m2 7h1m-1-4h1m8 18h1m0-17h1m10 0h1m1 19h1m4-1h1m28-15h1m3 17h1m2-22h1m-1-3h1m6 26h1m1-12h1m0-7h1m0-3h1m4 0h1m1-2h1m0 0h1m2 19h1m-1 4h1m4-4h1m1 2h1m8 3h1m0-7h1m0-3h1m1-14h1m-1 24h1m2-28h1m0 22h1m14-14h1m0 21h1m2-13h1m4-12h1m0 19h1m13 4h1m1-9h1m0 3h1m5-14h1m0 18h1m1-12h1m0 6h1m-1-13h1m6 21h1m10-3h1m0-8h1m2-7h1m-1 5h1m-1-4h1m7-6h1m9 9h1m2 7h1m4-8h1m2 14h1m0 0h1m2-22h1m0 1h1m6 17h1m19 6h1m11-3h1m1-10h1m3 1h1m3 11h1m-1-7h1m2-13h1m6-5h1m13 26h1m3-17h1m8 2h1m1-6h1m33 18h1m9-12h1m1 2h1m0-2h1m10-2h1m39-11h1m15 20h1m20-18h1m19 7h1m-8 40h1m-8 9h1m-68-22h1m-68 19h1m-12 1h1m-6 3h1m-13-23h1m-9 15h1m-16-12h1m-4 4h1m-2-8h1m-7 13h1m-6 5h1m-6-4h1m-2 7h1m-4-6h1m-2 3h1m-2-7h1m-4-6h1m-4-8h1m-7 3h1m-8 19h1m-9-1h1m-3-2h1m-7-16h1m-8 23h1m-2-11h1m-7-11h1m-3 15h1m-5 8h1m-9-12h1m-2-6h1m-6 10h1m-9-3h1m-3 1h1m-4-7h1m-5 6h1m-2-9h1m-11-9h1m-5 19h1m-1-4h1m-2-5h1m-3-5h1m-1 10h1m-4 0h1m-6-3h1m-3 2h1m-5-10h1m-2 17h1m-2-7h1m-3-14h1m-1 14h1m-7-8h1m-1-3h1m-11 1h1m-2 2h1m-2 7h1m-8-8h1m-1 20h1m-2-15h1m-6-7h1m-4 25h1m-2-22h1m-3 0h1m-3 20h1m-2-6h1m-1-4h1m-3-14h1m-2 20h1m-16 6h1m-3-27h1m-4 12h1m-3-12h1m-8 18h1m-4-9h1m-3 7h1m-5-5h1m-4 0h1m-5 4h1m-3-11h1m-3 6h1m-2-10h1m-1 0h1m-8 0h1m-1 22h1m-2 0h1m-6-18h1m-4-1h1m-4 21h1m-7-19h1m-8 17h1m-7-14h1m-1 20h1m-3-12h1m-8 8h1m-2-25h1m-5 10h1m-7 17h1m-2-13h1m-3 14h1m-2-27h1m-3 8h1m-3 18h1m-4-18h1m-6-8h1m-1 21h1m-3 1h1m-10-3h1m-3-20h1m-2 0h1m-5 22h1m-9 4h1m-5-20h1m-1 8h1m-2-13h1m-6 16h1m-1-12h1m-2 19h1m-1-3h1m-4-3h1m-3-2h1m-2 10h1m-4-2h1m-11 0h1m-8-19h1m-3 10h1m-4 14h1m-4-22h1m-1-1h1m-3-3h1m-3 23h1m-49 2h1m-10-3h1m-48-13h1m55 38h1m20-13h1m-1-2h1m15-1h1m2 21h1m-1-10h1m3-1h1m4-10h1m5 3h1m2 17h1m0 5h1m6-21h1m3 20h1m2-20h1m6 2h1m0-6h1m1 1h1m6 23h1m6-23h1m5 24h1m-1-7h1m4-2h1m-1-4h1m2-12h1m0 4h1m1-4h1m-1 23h1m1-8h1m12 10h1m-1-1h1m4-24h1m2 19h1m-1-10h1m4-10h1m5 8h1m6-10h1m9 7h1m-1-8h1m0 18h1m0 1h1m3-6h1m-1-6h1m2 20h1m2-1h1m5-7h1m1-12h1m0 20h1m3-20h1m12 6h1m2-2h1m14 0h1m15 17h1m4-11h1m9-10h1m3-7h1m0 2h1m-1 7h1m1-3h1m-1 9h1m2-1h1m3-1h1m2 7h1m0-1h1m-1-7h1m5 11h1m1-13h1m10-7h1m4-3h1m1 21h1m-1 1h1m2-17h1m0 16h1m-1-17h1m2 10h1m0-4h1m1 16h1m1-22h1m6 11h1m0 10h1m4-1h1m0-17h1m3 19h1m3-20h1m0 7h1m0 9h1m4 3h1m1-17h1m1 2h1m2 10h1m1-14h1m21 17h1m2 4h1m4-6h1m12-20h1m10 11h1m0-7h1m1 0h1m3 4h1m4-5h1m-1 9h1m2-9h1m12-2h1m3 21h1m1-17h1m0 6h1m0-1h1m30-5h1m4 13h1m21 6h1m3-14h1m1 17h1m3-15h1m16-4h1m3 1h1m6 8h1m25-8h1m42 13h1m-34 9h1m-37 24h1m-60-22h1m-3 6h1m-15 17h1m-2-3h1m-15-12h1m-12 15h1m-3-18h1m-17 8h1m-15 9h1m-4-11h1m-10-6h1m-6-4h1m-5 23h1m-4-20h1m-3 20h1m-9-16h1m-4 4h1m-10-1h1m-3-9h1m-2 12h1m-6 2h1m-4-11h1m-3-1h1m-2 20h1m-3-5h1m-11-12h1m-7-3h1m-6 11h1m-3-5h1m-3-7h1m-5 19h1m-6-11h1m-3-2h1m-15 7h1m-4-5h1m-2 5h1m-2 3h1m-5-1h1m-6-2h1m-2-19h1m-18 23h1m-3-21h1m-10 17h1m-5-2h1m-2 5h1m-3-11h1m-4 6h1m-10-1h1m-6-11h1m-1 21h1m-12-1h1m-9-15h1m-2 18h1m-3-5h1m-1 3h1m-2-20h1m-6-6h1m-5 18h1m-4-9h1m-1 4h1m-4 13h1m-2 1h1m-4-9h1m-11-9h1m-1 14h1m-2-15h1m-4 20h1m-7-11h1m-9-6h1m-1 9h1m-4-10h1m-8 14h1m-2 2h1m-2-23h1m-1 12h1m-2-8h1m-2 18h1m-4-10h1m-9 12h1m-1-13h1m-3-6h1m-3 9h1m-5 9h1m-6-14h1m-2 14h1m-4-9h1m-2-10h1m-6-7h1m-2 4h1m-4 21h1m-2-23h1m-1-3h1m-3 19h1m-3-3h1m-1 11h1m-2-25h1m-2 0h1m-2 17h1m-3 10h1m-2-29h1m-2 4h1m-1 7h1m-7-5h1m-4 8h1m-3 1h1m-5 13h1m-1-17h1m-7-3h1m-5 10h1m-2-11h1m-10 10h1m-2 2h1m-5 2h1m-3 8h1m-2-27h1m-4 20h1m-3-18h1m-7 1h1m-6-5h1m-2 13h1m-7-11h1m-11 14h1m-5-13h1m-19 18h1m-5-3h1m-6 2h1m-60 33h1m31-17h1m0 16h1m5 2h1m16-14h1m3 17h1m9-26h1m9 15h1m3 2h1m2-2h1m9 1h1m1 4h1m5 2h1m2 4h1m3-16h1m21 2h1m-1-13h1m6 3h1m-1 20h1m1-14h1m-1 13h1m2-7h1m2 6h1m-1 0h1m1-4h1m4-5h1m1-10h1m2-1h1m3 19h1m-1-10h1m3-4h1m2-1h1m-1-5h1m10 8h1m0 11h1m-1-8h1m8-2h1m5-3h1m1 22h1m1-20h1m7 9h1m0 2h1m0-14h1m-1 8h1m1 5h1m3 3h1m0-7h1m-1-6h1m3 8h1m-1-2h1m1 11h1m6-7h1m1-10h1m3 6h1m5-2h1m-1-3h1m0 4h1m-1 4h1m0 0h1m6-5h1m5-4h1m1 0h1m0 18h1m0-20h1m1 7h1m3 5h1m-1 1h1m1-10h1m0 20h1m-1-9h1m1-12h1m5 3h1m4 7h1m2 4h1m2-12h1m0 5h1m0-9h1m3-5h1m2 12h1m-1 11h1m2-23h1m0 24h1m0-15h1m-1 14h1m1 2h1m-1-26h1m3 16h1m0 5h1m-1-16h1m0-4h1m2 1h1m3 19h1m1-5h1m4 11h1m3-10h1m6 8h1m1-17h1m-1 3h1m1 9h1m5-15h1m-1 11h1m2-16h1m8 3h1m3 6h1m-1-2h1m3-2h1m0 1h1m0 9h1m3-8h1m4 16h1m0 6h1m5-2h1m-1-10h1m7 7h1m2-20h1m0 16h1m0-3h1m7-1h1m18 11h1m20-21h1m7 9h1m0 1h1m1 10h1m10-20h1m10 1h1m1 4h1m9 6h1m9-3h1m0-4h1m15-10h1m27 16h1m6-4h1m0-11h1m105 15h1m3-13h1m0 5h1m18 46h1m-31-11h1m-38 7h1m-54-9h1m-3 17h1m-20-9h1m-4-7h1m-5 11h1m-2-5h1m-53 1h1m-22 1h1m-2 3h1m-2-18h1m-9-4h1m-38 6h1m-7 7h1m-7 15h1m-1-17h1m-5 2h1m-7-10h1m-3 13h1m-2-5h1m-5 15h1m-3-22h1m-7 24h1m-2-8h1m-3-9h1m-1 9h1m-2-1h1m-10-1h1m-8-2h1m-1-6h1m-2 11h1m-3-10h1m-1-11h1m-5 1h1m-7 6h1m-4-1h1m-7 15h1m-2-9h1m-1-3h1m-7-8h1m-1 3h1m-8 4h1m-4 12h1m-2 0h1m-6 2h1m-1-7h1m-1 2h1m-1-11h1m-3-4h1m-2 17h1m-3 0h1m-8-6h1m-2 7h1m-13 0h1m-10-5h1m-1-4h1m-3-10h1m-4 10h1m-10-6h1m-5 9h1m-3 9h1m-12 4h1m-5-24h1m-3 3h1m-4-6h1m-2 7h1m-2 15h1m-1-19h1m-5 23h1m-5-20h1m-1 3h1m-4 17h1m-6-1h1m-1-11h1m-6 14h1m-9-3h1m-6 2h1m-3-6h1m-10-7h1m-6 13h1m-2-17h1m-6 9h1m-3 1h1m-3-17h1m-5 22h1m-6-6h1m-1 5h1m-2-2h1m-1-23h1m-3 1h1m-2 26h1m-5-9h1m-4-12h1m-5-1h1m-2 1h1m-9 3h1m-2 19h1m-5-24h1m-3 7h1m-10-2h1m-9 5h1m-2 7h1m-3-10h1m-2-9h1m-7 26h1m-1-2h1m-22-20h1m-3 12h1m-12-5h1m-1 11h1m-2-4h1m-3 4h1m-10-13h1m-2 2h1m-26-9h1m-46 19h1m-12-7h1m-13-2h1m-21-13h1m-13 11h1m60 22h1m1 18h1m1 3h1m4 2h1m4 0h1m-1-24h1m3 24h1m0-5h1m7 3h1m10 1h1m21-9h1m1-10h1m0 10h1m21-16h1m3 15h1m4 5h1m2-16h1m6-3h1m1 16h1m3-10h1m4 5h1m2-6h1m6 14h1m0-5h1m3-1h1m4-12h1m2 26h1m17-28h1m3-1h1m2 8h1m-1 18h1m0 1h1m13-15h1m0 11h1m-1-18h1m0 15h1m1-16h1m-1 13h1m0-10h1m5 12h1m2-17h1m5 15h1m-1-2h1m2 10h1m-1-22h1m6 4h1m3 16h1m4-18h1m5 7h1m1-11h1m6 12h1m0 5h1m12 2h1m16 3h1m9 4h1m16-3h1m-1 4h1m10-28h1m-1 28h1m1-11h1m1 3h1m1 6h1m7 1h1m3-17h1m2 15h1m7-13h1m0 7h1m1 6h1m9-10h1m6 1h1m2-16h1m-1 11h1m4 15h1m-1-7h1m0 9h1m0-4h1m-1-12h1m4 14h1m3-23h1m1 18h1m0-4h1m4 4h1m12-17h1m0 1h1m3 20h1m-1-24h1m19 15h1m1 6h1m7-10h1m3-7h1m9-2h1m12 21h1m42 5h1m11-25h1m17-4h1m1 24h1m4-9h1m13-12h1m13 7h1m0 11h1m8-8h1m150-9h1m-86 44h1m-44 4h1m-22-18h1m-15 15h1m-12 3h1m-39-18h1m-15 21h1m-2-16h1m-4-2h1m-6 1h1m-4 19h1m-25-4h1m-5-4h1m-14-19h1m-4 1h1m-4 25h1m-1-23h1m-7 18h1m-17 1h1m-4 3h1m-8-5h1m-2-2h1m-1-12h1m-3 14h1m-9-12h1m-14-3h1m-3 20h1m-12-6h1m-2-12h1m-4-3h1m-5 25h1m-6-22h1m-6 2h1m-4-5h1m-4-1h1m-4 2h1m-3-1h1m-1 2h1m-14 12h1m-6-1h1m-6 11h1m-7-17h1m-4 1h1m-1 7h1m-3 4h1m-10 1h1m-4-12h1m-3 8h1m-4 9h1m-1-27h1m-4 6h1m-1-2h1m-2 16h1m-3 0h1m-7-6h1m-8 9h1m-4-18h1m-8 18h1m-2-17h1m-2 18h1m-5-13h1m-2 0h1m-2-4h1m-2 12h1m-30-8h1m-18-5h1m-4 15h1m-2-2h1m-8-9h1m-28 5h1m-6-8h1m-5-9h1m-3 8h1m-1 4h1m-6-2h1m-8-5h1m-3 5h1m-6 4h1m-2-5h1m-10 6h1m-3-12h1m-17 15h1m-5-1h1m-8-3h1m-10 9h1m-2-1h1m-13-8h1m-2 7h1m-6-6h1m-7 3h1m-20-16h1m-9 0h1m-12 15h1m-13-2h1m-6 13h1m-2-22h1m-136 5h1m-1 22h1m21 5h1m65 20h1m14-8h1m32 4h1m-1-17h1m12 15h1m5-3h1m0-9h1m2 15h1m0-7h1m4 2h1m0-4h1m4 3h1m3 4h1m13-19h1m18 24h1m0-8h1m2 5h1m1-8h1m5-14h1m3 15h1m4 10h1m0-17h1m7 6h1m10-9h1m3 14h1m2-13h1m0 12h1m6 0h1m3-11h1m1 12h1m3 6h1m1-18h1m1-1h1m1 18h1m-1-25h1m10 5h1m15 19h1m6 3h1m5-20h1m3 20h1m1-3h1m11-3h1m12-22h1m4 17h1m2-14h1m15 10h1m12 9h1m0-8h1m0-4h1m-1 17h1m1-2h1m1-23h1m1 22h1m0-1h1m0-9h1m0 5h1m0-1h1m-1 8h1m1-8h1m0 2h1m8-14h1m1 8h1m0 12h1m1-8h1m6-19h1m2 5h1m1 14h1m3 10h1m8-28h1m5 3h1m3 20h1m5-2h1m11-3h1m18 5h1m5-1h1m3 2h1m2-10h1m2 7h1m3 7h1m1-7h1m4-21h1m1 21h1m-1-5h1m2-12h1m3-1h1m1 11h1m0 8h1m0-3h1m3-16h1m0 8h1m0-5h1m7 19h1m0-21h1m0-3h1m0 1h1m11 9h1m2-4h1m0 18h1m1-16h1m9 12h1m10-4h1m7-8h1m29 10h1m9-11h1m11-6h1m113 55h1m-49 1h1m-109-7h1m-18 1h1m-6-7h1m-6-3h1m-13 1h1m-11 15h1m-22-7h1m-3-21h1m-4 8h1m-5-2h1m-6 15h1m-3-14h1m-6 12h1m-7-13h1m-12 3h1m-7 8h1m-18-15h1m-6 13h1m-20-1h1m-11-14h1m-2 25h1m-14-16h1m-8-3h1m-6 13h1m-24-18h1m-15 24h1m-5-19h1m-13 4h1m-6 5h1m-37 4h1m-5-14h1m-6 8h1m-5-14h1m-5 9h1m-5 18h1m-5-6h1m-2 6h1m-1-14h1m-2-7h1m-5 0h1m-7 20h1m-8-16h1m-12 17h1m-1-5h1m-5-9h1m-3 11h1m-6-5h1m-9 1h1m-7 0h1m-2-3h1m-2 11h1m-44-13h1m-13 6h1m-2 5h1m-5-10h1m-8 7h1m-4-21h1m-4 10h1m-7 13h1m-5-11h1m-2-4h1m-11-3h1m-3-6h1m-2 9h1m-7-7h1m-9-1h1m-17 8h1m-3 16h1m-3-16h1m-12 16h1m-21-17h1m-32 17h1m-5-8h1m-4-10h1m-5 2h1m-15 19h1m-26 6h1m27 4h1m25 2h1m12-6h1m0 12h1m-1 12h1m4-22h1m0 15h1m16-14h1m9-6h1m3 8h1m1 3h1m5-11h1m0 18h1m14-9h1m12-5h1m7 14h1m-1-18h1m11 2h1m3 5h1m0 8h1m6-16h1m0 3h1m0 21h1m5-20h1m0 14h1m3 6h1m0-12h1m0 4h1m2-15h1m-1-1h1m1 26h1m-1-15h1m7 16h1m0-28h1m6 28h1m0-28h1m6 27h1m25-27h1m5 15h1m1-14h1m1 24h1m0-20h1m2 19h1m3-3h1m0-14h1m0-3h1m0 22h1m11-9h1m0-14h1m2 5h1m-1-2h1m0 1h1m0 8h1m6-2h1m2-1h1m0 5h1m3-3h1m3-8h1m2 3h1m1 0h1m10-5h1m3 4h1m3 10h1m1-15h1m5-3h1m7 10h1m0 6h1m5-10h1m4 12h1m-1-10h1m4 7h1m10-4h1m11 12h1m7-11h1m1 13h1m1-14h1m-1 18h1m11-14h1m3-14h1m0 21h1m8-12h1m1 17h1m2-16h1m-1 1h1m19 14h1m2-6h1m2-1h1m3-16h1m22 20h1m1-20h1m6 2h1m8 21h1m2-3h1m21-17h1m9 19h1m17-19h1m14 2h1m16-2h1m48-3h1m200-2h1m-188 58h1m-63-22h1m-34 21h1m-37-1h1m-7-22h1m-2 14h1m-15 2h1m-12 4h1m-3-24h1m-17 27h1m-12-27h1m-2 28h1m-6-27h1m-10 18h1m-2-19h1m-11 8h1m-28 11h1m-3 0h1m-5 9h1m-5-23h1m-6 17h1m-13-21h1m-2 9h1m-5 2h1m-14 6h1m-29 3h1m-10-13h1m-5 2h1m-9 1h1m-16-6h1m-3-4h1m-12 23h1m-14-4h1m-6-20h1m-1 0h1m-5 3h1m-4 22h1m-3-4h1m-9-3h1m-2-12h1m-3-3h1m-7-3h1m-4 14h1m-3 12h1m-3-10h1m-5 12h1m-6-7h1m-21 6h1m-3-11h1m-16-6h1m-3-5h1m-4-2h1m-26 10h1m-2 5h1m-5 2h1m-11-10h1m-3-7h1m-5 17h1m-3-10h1m-5 13h1m-9-24h1m-2 13h1m-12-1h1m-6 6h1m-7-17h1m-5 0h1m-9 15h1m-6 11h1m-2-23h1m-4 18h1m-8-7h1m-1 6h1m-2 1h1m-4-20h1m-46-1h1m-4 19h1m-16 32h1m22-9h1m18 15h1m12-23h1m15 22h1m1-12h1m8 8h1m2 2h1m13-15h1m9-1h1m1 12h1m1 8h1m14-12h1m1-7h1m12-10h1m6 15h1m1 8h1m9-21h1m12 6h1m12 4h1m18-1h1m17 11h1m0-20h1m6 23h1m2-10h1m16 10h1m1-20h1m-1 20h1m0 4h1m3-15h1m8-14h1m4 19h1m2-1h1m11 5h1m1-6h1m9-7h1m8 8h1m19 4h1m14-1h1m34-16h1m37 18h1m26 3h1m2-22h1m0 10h1m14 10h1m15-13h1m6-4h1m61-3h1m84 18h1m0 7h1m24 23h1m-91-16h1m-39 8h1m-46 8h1m-34-21h1m-18 25h1m-7-12h1m-10-13h1m-12 12h1m-3 1h1m-23-11h1m-15 22h1m-11-1h1m-3-5h1m-37 0h1m-5-9h1m-12 14h1m-5-5h1m-8-10h1m-3 14h1m-5-5h1m-7 7h1m-2-21h1m-9 13h1m-3 10h1m-6-7h1m-2-5h1m-6-15h1m-9 5h1m-3 23h1m-7 0h1m-5-25h1m-3 0h1m-2 13h1m-3-4h1m-19-9h1m-1 1h1m-84 23h1m-9-23h1m-26 23h1m-12-26h1m-1 26h1m-5-3h1m-75-8h1m-4-5h1m29 23h1m5 16h1m47 8h1m7-16h1m17-9h1m48 24h1m32-10h1m3-7h1m-1 0h1m2 0h1m7-3h1m5 17h1m19-17h1m5 8h1m24-5h1m8 16h1m9-2h1m1-11h1m11 4h1m7 2h1m2-14h1m27 11h1m12-5h1m13 10h1m9 2h1m14-8h1m22-11h1m6 19h1m3-21h1m14 22h1m19-22h1m59-2h1m-15 34h1m-21 8h1m-28 4h1m-5-10h1m-19 17h1m-70-13h1m-12 0h1m-3 14h1m-6-4h1m-19 4h1m-2-20h1m-8 0h1m-41 12h1m-23-15h1m-4 16h1m-6-1h1m-10-4h1m-4 2h1m-43-3h1m-6-1h1m-2 2h1m-8 8h1m-28-19h1m-83 46h1m6-14h1m13 3h1m69 1h1m26 14h1m21-12h1m22 6h1m53 2h1m2 7h1m56-15h1m21-3h1m5 3h1m8-4h1m87 5h1m56 5h1m77 18h1m-175 21h1m-32-5h1m-104-19h1m-48 13h1m-16-5h1"/><path id="tB" d="M6168 2858h1m403 48h1m106-5h1m99 25h1m-103 9h1m-40-6h1m-457 3h1m55 21h1m137 13h1m229-5h1m1-1h1m0-2h1m20-9h1m16-2h1m20 17h1m36 1h1m41 11h1m-10 21h1m-73-3h1m-16-13h1m-21-10h1m-5 22h1m-20-23h1m-48 9h1m-7 3h1m-27 3h1m-54-2h1m-198 0h1m-116-12h1m202 51h1m31-5h1m39-1h1m8-6h1m4 15h1m42-22h1m1 26h1m5-21h1m36 12h1m2-17h1m10 17h1m14-10h1m5 1h1m13-6h1m11-5h1m8 15h1m7-14h1m8 14h1m7-12h1m10 14h1m17 3h1m31 5h1m8-3h1m1-5h1m1-3h1m52 45h1m-3-14h1m-7-1h1m-24 6h1m-25 0h1m-10-7h1m-25 13h1m-9-10h1m-8-2h1m-8 11h1m-6-6h1m-21-14h1m-8 19h1m-7-16h1m-25 16h1m-18-8h1m-23-8h1m-6-2h1m-2 10h1m-1 7h1m-6-20h1m-2 18h1m-3-15h1m-3 7h1m-8 1h1m-10 8h1m-18-12h1m-9 18h1m-6-11h1m-8 3h1m-14-19h1m-9 15h1m-83-6h1m-4-8h1m-43 2h1m-5 12h1m-36 12h1m-28-26h1m30 37h1m18-7h1m7 15h1m4-1h1m3 10h1m58-9h1m3-3h1m7 10h1m18-14h1m12 9h1m0-3h1m13 2h1m17-2h1m14 8h1m1-6h1m5 5h1m-1 4h1m2-12h1m6 13h1m9 0h1m32-22h1m7 15h1m1-15h1m1 17h1m14 2h1m14-25h1m-1 20h1m-1-6h1m9-1h1m16-4h1m28 2h1m3-8h1m0 13h1m9 5h1m11-16h1m6 20h1m11-12h1m3-10h1m6 12h1m26-7h1m2-2h1m15 22h1m32-13h1m-1 6h1m-1-13h1m-10 39h1m-16-5h1m-12 10h1m-10-9h1m-11 15h1m-34-25h1m-3 20h1m-7-15h1m-11 7h1m-3-5h1m-4-7h1m-9-3h1m-5 6h1m-6 13h1m-8 8h1m-16-15h1m-31-12h1m-7 12h1m-3-6h1m-3 7h1m-17-5h1m-6 16h1m-5 5h1m-21-18h1m-3 17h1m-8-11h1m-3 4h1m-4 5h1m-3-6h1m-16-11h1m-3-6h1m-6 14h1m-7-2h1m-4 9h1m-4-22h1m-4 22h1m-15-7h1m-3-9h1m-2 12h1m-5 1h1m-6-8h1m-2 7h1m-6 4h1m-14-3h1m-7 2h1m-7-8h1m-18 12h1m-2-19h1m-2 6h1m-6 5h1m-5-6h1m-8 1h1m-17-11h1m-20-1h1m-2 10h1m-1-11h1m-2 23h1m-7-14h1m-32-1h1m-5 0h1m-110 0h1m-51 45h1m46 4h1m50-21h1m92-6h1m5 0h1m23 1h1m8 11h1m86 3h1m-1 13h1m20-27h1m2 14h1m2-8h1m1 21h1m-1-22h1m6 13h1m0-9h1m2-3h1m0-1h1m0 21h1m-1-27h1m6 12h1m4-9h1m26 0h1m13 17h1m1 1h1m2-17h1m3 9h1m1-3h1m5 18h1m5-6h1m6-14h1m0 11h1m0-5h1m0-14h1m3 19h1m4-16h1m1-3h1m1 23h1m2-14h1m0 13h1m0 2h1m2-11h1m1 15h1m3-16h1m5 6h1m4 5h1m3-11h1m6-13h1m0 9h1m13 13h1m0-12h1m5 16h1m17-2h1m5-16h1m0 4h1m6-1h1m2 8h1m5-9h1m0 19h1m7-18h1m33 6h1m-46 31h1m-4 1h1m-10-16h1m-10-1h1m-8 10h1m-1 6h1m-10-17h1m-16 16h1m-11-16h1m-9 25h1m-18-14h1m-1 11h1m-5-21h1m-13 6h1m-1-6h1m-5 5h1m-5 6h1m-1 6h1m-6 1h1m-14 4h1m-1-21h1m-9 1h1m-3-4h1m-4 13h1m-21 10h1m-4-1h1m-2-7h1m-5 12h1m-6-20h1m-1 20h1m-4-20h1m-3 0h1m-2 11h1m-23-9h1m-14 8h1m-20-16h1m-8 10h1m-2-5h1m-34-2h1m-1 12h1m-5 0h1m-3 11h1m-2-22h1m-2 21h1m-4 3h1m-4 0h1m-3-6h1m-9-3h1m-3-9h1m-14 8h1m-9 9h1m-5-2h1m-2 3h1m-16-22h1m-10-3h1m-4 21h1m-4-7h1m-6-4h1m-7 10h1m-2-13h1m-5 10h1m-7-15h1m-57 7h1m-1-1h1m-70 3h1m-4-15h1m-4 21h1m-24-16h1m-12 17h1m-112 22h1m102 11h1m33-14h1m6 10h1m7-1h1m0 3h1m2-23h1m7 16h1m21 1h1m5 6h1m10-21h1m0 4h1m6 8h1m7-13h1m0 14h1m0-15h1m6 11h1m0-11h1m21 26h1m0-6h1m4 3h1m14-19h1m6 16h1m7-9h1m6 12h1m4-22h1m2 28h1m3-6h1m0 4h1m0-21h1m0 21h1m0-4h1m5-9h1m-1-5h1m4 14h1m3 5h1m1-16h1m6-1h1m6 13h1m2 4h1m1-22h1m1 12h1m1 0h1m3 7h1m1 4h1m1-24h1m1 5h1m4 10h1m4-6h1m21-9h1m1 14h1m6-1h1m-1-5h1m5-10h1m22 12h1m-1 13h1m-1-25h1m0 3h1m1 8h1m1-13h1m11 12h1m9 0h1m8 5h1m31-5h1m5 9h1m9-9h1m-1 0h1m-1 2h1m2-1h1m3 8h1m15-18h1m0 18h1m7-16h1m2 1h1m6 19h1m-1-8h1m14-2h1m15 12h1m-1-18h1m11-2h1m12 0h1m0-1h1m9 22h1m2-26h1m5 1h1m47 49h1m-16 0h1m-9-1h1m-8-14h1m-12 10h1m-6 5h1m-28 6h1m-7-5h1m-3-22h1m-2 23h1m-1-12h1m-14-2h1m-14 9h1m-5-8h1m-10-10h1m-25 23h1m-9-23h1m-10 11h1m-2 11h1m-3-8h1m-7-14h1m-2 23h1m-1-12h1m-5 3h1m-13 7h1m-18-15h1m-1 15h1m-3-13h1m-2-8h1m-3 23h1m-12 4h1m-2-28h1m-14 8h1m-3 7h1m-15-4h1m-1 4h1m-3-7h1m-2 6h1m-3 0h1m-2 0h1m-1-5h1m-2 12h1m-3-7h1m-4-10h1m-3 13h1m-6 0h1m-1 5h1m-1-5h1m-3-7h1m-3 9h1m-4 0h1m-10-15h1m-4 14h1m-4-14h1m-12-1h1m-9 5h1m-1-6h1m-8 24h1m-1-13h1m-3 0h1m-2-1h1m-14 11h1m-4-7h1m-3 1h1m-18-12h1m-3-1h1m-5 9h1m-3 4h1m-10 3h1m-8-15h1m-7-4h1m-5 10h1m-19-12h1m-9 23h1m-2-18h1m-2 12h1m-13 6h1m-3-4h1m-2-10h1m-5 13h1m-9-14h1m-6 1h1m-3-3h1m-9 19h1m-33 0h1m-4-4h1m-11-10h1m-26 4h1m-5 8h1m-17-10h1m-12-8h1m-32 20h1m-89 16h1m75-10h1m55 28h1m10-8h1m3-1h1m0-11h1m10 4h1m11 14h1m1-1h1m0-4h1m32-22h1m5 0h1m35 19h1m48-8h1m8 13h1m7 1h1m1 4h1m-1-9h1m4-8h1m8 3h1m0 13h1m0-5h1m5-3h1m3-9h1m2 4h1m9-14h1m6 26h1m-1-3h1m0-11h1m0-5h1m0 5h1m3 15h1m3-1h1m1-13h1m0-6h1m1 15h1m0-6h1m3 1h1m18-2h1m7 3h1m-1 0h1m1-10h1m1 4h1m4 15h1m4-18h1m19 13h1m2-10h1m13 15h1m1-18h1m-1-7h1m23-2h1m7 22h1m2 2h1m-1-5h1m1 0h1m1-14h1m8 9h1m0 13h1m4 0h1m0-4h1m8-18h1m0 12h1m5 10h1m13-16h1m9-5h1m0 19h1m10-18h1m8 19h1m10 2h1m8-3h1m-1-25h1m0 28h1m5-4h1m1 3h1m1-22h1m8 12h1m9 0h1m-1-16h1m60 6h1m-16 42h1m-32 6h1m-4-18h1m-2 16h1m-6-2h1m-4-22h1m-3 12h1m-7 14h1m-7-25h1m-1 8h1m-13-1h1m-4 13h1m-14-14h1m-13 10h1m-15 10h1m-5-8h1m-3 3h1m-3-4h1m-2 4h1m-2-10h1m-10-4h1m-9 17h1m-6-23h1m-7 12h1m-5 1h1m-12 5h1m-1 2h1m-12 4h1m-7 3h1m-3-3h1m-9-8h1m-1 5h1m-9-20h1m-2 3h1m-18 9h1m-5 1h1m-4-16h1m-2 27h1m-4-11h1m-12-12h1m-2 14h1m-3-12h1m-1 5h1m-4 3h1m-6-4h1m-2 16h1m-2-25h1m-8 5h1m-4 22h1m-8-24h1m-2 6h1m-7-5h1m-6 16h1m-10 0h1m-2 6h1m-2-11h1m-9 13h1m-1-13h1m-2-12h1m-4 7h1m-2 16h1m-4-11h1m-14 11h1m-12-16h1m-6 13h1m-2-8h1m-1-13h1m-3 14h1m-2-7h1m-9 5h1m-4-12h1m-4-2h1m-2 27h1m-4-26h1m-2 5h1m-4 2h1m-3 5h1m-2-5h1m-6 5h1m-17 13h1m-2 1h1m-7-26h1m-3 10h1m-5-10h1m-16 23h1m-6-13h1m-25-8h1m-20 7h1m-9-11h1m-59 4h1m-32 8h1m-116 6h1m-5 17h1m49 1h1m-1 23h1m70-13h1m0 3h1m3 2h1m21-19h1m18 15h1m19 5h1m0-7h1m8-12h1m5 17h1m0-12h1m-1 16h1m0-21h1m5 18h1m2 8h1m0-1h1m0-25h1m8-1h1m2 15h1m4 10h1m-1-11h1m4-3h1m3-2h1m4 2h1m5-11h1m3 10h1m5-9h1m8 26h1m0-21h1m0 20h1m12-15h1m-1-3h1m17 0h1m-1-6h1m0 8h1m6 13h1m0 3h1m5-15h1m0-13h1m1 23h1m5 5h1m0-26h1m0 8h1m0-3h1m-1 6h1m-1 3h1m0-5h1m-1 13h1m2-10h1m11-7h1m3 4h1m3-8h1m4-2h1m2 22h1m1-4h1m7-9h1m1-5h1m1 22h1m5-23h1m0 25h1m-1-4h1m0-25h1m1 8h1m0 8h1m0-10h1m0 6h1m0 5h1m1 6h1m1 0h1m3-7h1m7 3h1m6-10h1m0 18h1m10-3h1m5-7h1m3-14h1m3 13h1m8-6h1m1 17h1m2-15h1m2 4h1m6-16h1m1 12h1m1 10h1m1-1h1m-1 4h1m2-4h1m2-16h1m0-1h1m1 0h1m7 1h1m0 21h1m3-7h1m2-3h1m8-13h1m7-1h1m12 24h1m9 2h1m-1-7h1m1 5h1m2-3h1m1-4h1m12 6h1m22-12h1m10-2h1m1-9h1m3 10h1m-1-9h1m2-1h1m-1 5h1m-1-7h1m0 29h1m0-3h1m4 0h1m10 3h1m9-28h1m9 26h1m1-12h1m0-1h1m-1 6h1m8-16h1m17 17h1m33-1h1m6-7h1m36 28h1m-3 11h1m-3 2h1m-1-12h1m-1 8h1m-2 6h1m-3 2h1m-2-5h1m-2-2h1m-1 8h1m-1-5h1m-5-7h1m-2 8h1m-3-8h1m-2 7h1m-2 5h1m-3-8h1m-13-16h1m-12 1h1m-2 19h1m-1-8h1m-4 3h1m-3 4h1m-2 5h1m-1-19h1m-4 12h1m-10-22h1m-3 24h1m-1-11h1m-2 7h1m-2-7h1m-1 13h1m-14 3h1m-17-26h1m-10 9h1m-4-7h1m-8-3h1m-9 6h1m-5 18h1m-22-18h1m-4 20h1m-17-6h1m-3 2h1m-5 1h1m-37-16h1m-11-9h1m-2 1h1m-4 27h1m-14-23h1m-22 2h1m-13-2h1m-2 21h1m-6-18h1m-5 4h1m-6-11h1m-3 16h1m-4-15h1m-8 22h1m-4 5h1m-4-27h1m-1 3h1m-3 5h1m-3-5h1m-3 16h1m-3-1h1m-10-1h1m-4-1h1m-4-15h1m-2 8h1m-2-5h1m-10 3h1m-1-1h1m-2 17h1m-12 1h1m-2-12h1m-2 3h1m-4 0h1m-3-17h1m-3 5h1m-1 3h1m-1 2h1m-2 1h1m-5 17h1m-5-26h1m-3 13h1m-2 1h1m-9 5h1m-6-13h1m-2-3h1m-3 23h1m-3-25h1m-5 7h1m-11 13h1m-3-5h1m-4 4h1m-3-14h1m-5 14h1m-7-9h1m-1-9h1m-5 10h1m-1 14h1m-3-8h1m-2 1h1m-4-15h1m-3 3h1m-7 4h1m-2 14h1m-6-13h1m-14-14h1m-2 1h1m-1 26h1m-13-25h1m-2 23h1m-5-8h1m-2 2h1m-3-11h1m-12-5h1m-1 5h1m-6 21h1m-2-29h1m-3 4h1m-4 0h1m-5 9h1m-1 6h1m-9-3h1m-16 10h1m-5-18h1m-16 8h1m-3 13h1m-3-16h1m-16-12h1m-31 13h1m-20 4h1m-11-16h1m-16 13h1m-20 3h1m-48 9h1m-13 1h1m-24-24h1m-19 19h1m-51 26h1m43-6h1m6-11h1m26 20h1m1 1h1m33-17h1m5 11h1m3-10h1m3 21h1m9-6h1m15 3h1m0-24h1m4 23h1m6-16h1m22 4h1m40-7h1m0 24h1m28-11h1m12-17h1m4 11h1m-1 1h1m7 12h1m0-3h1m7-22h1m2 10h1m4 13h1m0-8h1m16 6h1m6-12h1m5 19h1m13-17h1m1-7h1m2-2h1m5 4h1m1 13h1m1-15h1m10-1h1m7 21h1m-1-9h1m6 14h1m2-19h1m4 5h1m-1 4h1m3-4h1m8 11h1m-1 1h1m2-24h1m8 11h1m1-2h1m11-9h1m1 9h1m4 9h1m3 5h1m-1-19h1m-1-3h1m11 7h1m0 8h1m2-9h1m2 16h1m19-3h1m1-13h1m-1-8h1m5 16h1m10-7h1m-1 4h1m5 11h1m3-12h1m2-6h1m11 16h1m1-24h1m1 29h1m3-16h1m10 7h1m15 3h1m1 6h1m14-6h1m-1 3h1m4 0h1m0 1h1m33-27h1m3 14h1m15 1h1m2-9h1m33-3h1m-1-1h1m2 12h1m1-9h1m6-4h1m10 10h1m1 2h1m20-8h1m15 9h1m0 10h1m20-21h1m0 17h1m0-15h1m28-2h1m1 15h1m-1-9h1m5-8h1m-1 3h1m19 6h1m-135 21h1m-42 18h1m-5 7h1m-7 0h1m-18-20h1m-2 7h1m-4 9h1m-5-8h1m-1 1h1m-2 5h1m-10 3h1m-1-19h1m-5 9h1m-3-3h1m-7-7h1m-3 19h1m-6 4h1m-5-2h1m-14-17h1m-2 18h1m-8-17h1m-1-1h1m-1 17h1m-3-22h1m-2 24h1m-6-22h1m-3 15h1m-14-2h1m-4 9h1m-8-8h1m-4-13h1m-3 15h1m-5-1h1m-7-10h1m-17 6h1m-3 11h1m-3-15h1m-1 16h1m-14-25h1m-4 2h1m-6 15h1m-2 9h1m-2-17h1m-5 10h1m-8-8h1m-5 12h1m-2 3h1m-4-14h1m-1 6h1m-3 8h1m-8-18h1m-3 12h1m-10 4h1m-4-6h1m-1 5h1m-2-20h1m-8 18h1m-2-13h1m-2-9h1m-3 24h1m-3 3h1m-1-5h1m-6 2h1m-3-23h1m-7 18h1m-4-14h1m-15 20h1m-12-1h1m-9-11h1m-2-8h1m-2 18h1m-13-14h1m-19 4h1m-3-13h1m-2 25h1m-4-17h1m-9-9h1m-6 17h1m-11-15h1m-4 25h1m-3-2h1m-6-2h1m-3-20h1m-2-2h1m-5 22h1m-9-2h1m-1-4h1m-5 3h1m-2-18h1m-8 19h1m-51-1h1m-8 6h1m-20 1h1m-1-19h1m-5-1h1m-7 7h1m-4 4h1m-31 4h1m-1-14h1m-16-7h1m-13 17h1m-10 4h1m-4 5h1m-18-25h1m-14 21h1m-1-3h1m-85-6h1m-105-4h1m94 32h1m28-11h1m45 1h1m16 6h1m56-8h1m20 22h1m11 5h1m2-8h1m-1-9h1m6 6h1m3 8h1m5 3h1m10-27h1m7 24h1m1-16h1m5-4h1m19 10h1m4-5h1m1 11h1m8-7h1m3 6h1m-1-4h1m4 13h1m5-24h1m-1 18h1m5-11h1m12 0h1m7 1h1m0-9h1m4-1h1m1 17h1m8-9h1m-1 16h1m5-18h1m0 17h1m7-5h1m2-3h1m0 6h1m-1-2h1m14-7h1m1 4h1m-1 3h1m7 6h1m14-21h1m0-3h1m1 26h1m20-19h1m1-1h1m3 14h1m7-6h1m5-10h1m10-4h1m21-3h1m7 7h1m1 7h1m10-9h1m8 19h1m0-13h1m1-8h1m11 11h1m0 3h1m8-2h1m-1 7h1m1-19h1m3 7h1m8 9h1m13-16h1m0 19h1m4 3h1m22-14h1m0-4h1m0 5h1m2-4h1m-1 2h1m8 7h1m0 5h1m0 3h1m5-21h1m1-1h1m0 16h1m-1 5h1m22-6h1m1 7h1m-1-3h1m3-3h1m25-2h1m18-12h1m7 11h1m56-9h1m24 28h1m-40-3h1m-68 27h1m-2-20h1m-7 5h1m-21 8h1m-4-17h1m-5 5h1m-6 3h1m-15-13h1m-25 13h1m-3 13h1m-5-6h1m-7-5h1m-11 6h1m-12-16h1m-6 6h1m-5-1h1m-33-1h1m-8-7h1m-20 7h1m-15 0h1m-9 10h1m-11-2h1m-3-1h1m-10 1h1m-3 0h1m-7-12h1m-36 2h1m-8 15h1m-4-9h1m-2 16h1m-2-10h1m-4-13h1m-4 5h1m-32 0h1m-6-3h1m-4 10h1m-8-2h1m-11-11h1m-1-4h1m-43 22h1m-10-14h1m-15 16h1m-25-3h1m-17-13h1m-25 11h1m-8 2h1m-18 3h1m-5-21h1m-1 0h1m-4 17h1m-3 3h1m-1-21h1m-24 6h1m-30 9h1m-18 9h1m-8-26h1m-55 12h1m-11 10h1m-2 6h1m-13 27h1m4 1h1m93-26h1m5 21h1m8-16h1m26 8h1m25 11h1m-1-5h1m0-18h1m4 25h1m6-20h1m1-5h1m0 15h1m15-13h1m7 13h1m1 1h1m35-1h1m17 8h1m-1-18h1m1-7h1m4 7h1m1 8h1m18 2h1m2 4h1m6-15h1m7 14h1m6-7h1m1 0h1m6-13h1m22 29h1m25-29h1m-1 1h1m3 18h1m2-16h1m1 6h1m0 7h1m3-4h1m1-8h1m3 11h1m6 8h1m14 3h1m23-15h1m8-9h1m17 13h1m-1-6h1m4 9h1m1-1h1m2-3h1m4-14h1m0 0h1m2 9h1m3 13h1m13-6h1m6-10h1m1 16h1m7-6h1m12-5h1m6-11h1m10 5h1m2 16h1m0-9h1m3-5h1m2 9h1m2-10h1m4 7h1m16-9h1m3 20h1m-1 1h1m2-21h1m4 1h1m4 12h1m0 2h1m7-10h1m69-1h1m3 32h1m-7 7h1m-28-8h1m-84-2h1m-38 16h1m-3 6h1m-4-9h1m-11-19h1m-14 5h1m-2 15h1m-27-4h1m-9-2h1m-15-6h1m-4 5h1m-12 3h1m-11-3h1m-7-13h1m-6 18h1m-19-9h1m-20 0h1m-11 16h1m-4-19h1m-9 0h1m-2 14h1m-2 8h1m-1-3h1m-2-6h1m-12 1h1m-6-2h1m-9-12h1m-5 14h1m-21-13h1m-2 13h1m-11-9h1m-10 16h1m-13-8h1m-8-12h1m-15 14h1m-4-19h1m-11 0h1m-8 14h1m-11-2h1m-8-12h1m-13 3h1m-1-6h1m-19 13h1m-8 13h1m-37-10h1m-34-14h1m8 43h1m9 10h1m70-19h1m4-4h1m-1 21h1m5-23h1m8 10h1m2-7h1m0 7h1m1 5h1m1 1h1m2-9h1m4-5h1m9 26h1m4-13h1m24 14h1m6-14h1m0 10h1m29-11h1m2-5h1m12-5h1m11 19h1m1-19h1m3 0h1m2 19h1m7-8h1m3 1h1m0-10h1m4 18h1m7-18h1m3 13h1m0-3h1m5 5h1m25-17h1m16 3h1m2 10h1m5-15h1m2 22h1m25-13h1m0 0h1m19-8h1m69 6h1m-33 45h1m-33-7h1m-8-17h1m-9 9h1m-7 14h1m-12-23h1m-9 3h1m-15 22h1m-3-1h1m-17-15h1m-6 16h1m-6-14h1m-25 4h1m-13 1h1m-2-1h1m-33 1h1m-22-10h1m-52-6h1m-10 14h1m-10 8h1m-58-9h1m-19 13h1m-4-26h1m-5 4h1m-7 17h1m-10 3h1m-3-10h1m124 28h1m42-2h1m1 6h1m9 2h1m5-6h1m147 13h1"/></g><filter id="bl" x="-5%" y="-5%" width="110%" height="110%"><feGaussianBlur stdDeviation="0.35"/></filter></defs>
<rect x="557.4" y="117.0" width="131.1" height="93.6" fill="#e5e5e5"/>
<path d="M572.63 117.0V210.6M589.37 117.0V210.6M606.11 117.0V210.6M622.85 117.0V210.6M639.59 117.0V210.6M656.33 117.0V210.6M673.07 117.0V210.6M557.4 120.40H688.5M557.4 131.20H688.5M557.4 142.00H688.5M557.4 152.80H688.5M557.4 163.60H688.5M557.4 174.40H688.5M557.4 185.20H688.5M557.4 196.00H688.5M557.4 206.80H688.5" stroke="#ffffff" stroke-width="1.0" fill="none"/>
<path d="M572.63 210.6v2M589.37 210.6v2M606.11 210.6v2M622.85 210.6v2M639.59 210.6v2M656.33 210.6v2M673.07 210.6v2M557.4 120.40h-2M557.4 131.20h-2M557.4 142.00h-2M557.4 152.80h-2M557.4 163.60h-2M557.4 174.40h-2M557.4 185.20h-2M557.4 196.00h-2M557.4 206.80h-2" stroke="#555" stroke-width="0.5" fill="none"/>
<g font-family="'Liberation Sans', sans-serif" font-size="5" fill="#666"><text x="572.63" y="219.00" text-anchor="middle">−60</text><text x="589.37" y="219.00" text-anchor="middle">−40</text><text x="606.11" y="219.00" text-anchor="middle">−20</text><text x="622.85" y="219.00" text-anchor="middle">0</text><text x="639.59" y="219.00" text-anchor="middle">20</text><text x="656.33" y="219.00" text-anchor="middle">40</text><text x="673.07" y="219.00" text-anchor="middle">60</text><text x="554.40" y="122.20" text-anchor="end">80</text><text x="554.40" y="133.00" text-anchor="end">60</text><text x="554.40" y="143.80" text-anchor="end">40</text><text x="554.40" y="154.60" text-anchor="end">20</text><text x="554.40" y="165.40" text-anchor="end">0</text><text x="554.40" y="176.20" text-anchor="end">−20</text><text x="554.40" y="187.00" text-anchor="end">−40</text><text x="554.40" y="197.80" text-anchor="end">−60</text><text x="554.40" y="208.60" text-anchor="end">−80</text></g>
<g filter="url(#bl)"><use href="#pM" transform="translate(0.0 0) scale(0.1)" stroke="#2a9296" stroke-width="12.5" stroke-linecap="round" fill="none" stroke-opacity="0.9"/><use href="#pE" transform="translate(0.0 0) scale(0.1)" stroke="#2a9296" stroke-width="12.0" stroke-linecap="round" fill="none" stroke-opacity="0.9"/><use href="#pT" transform="translate(0.0 0) scale(0.1)" stroke="#f7931e" stroke-width="13.0" stroke-linecap="round" fill="none"/><use href="#pB" transform="translate(0.0 0) scale(0.1)" stroke="#f7931e" stroke-width="13.0" stroke-linecap="round" fill="none"/></g>
<rect x="731.8" y="117.0" width="131.2" height="93.6" fill="#e5e5e5"/>
<path d="M747.03 117.0V210.6M763.77 117.0V210.6M780.51 117.0V210.6M797.25 117.0V210.6M813.99 117.0V210.6M830.73 117.0V210.6M847.47 117.0V210.6M731.8 120.40H863.0M731.8 131.20H863.0M731.8 142.00H863.0M731.8 152.80H863.0M731.8 163.60H863.0M731.8 174.40H863.0M731.8 185.20H863.0M731.8 196.00H863.0M731.8 206.80H863.0" stroke="#ffffff" stroke-width="1.0" fill="none"/>
<path d="M747.03 210.6v2M763.77 210.6v2M780.51 210.6v2M797.25 210.6v2M813.99 210.6v2M830.73 210.6v2M847.47 210.6v2M731.8 120.40h-2M731.8 131.20h-2M731.8 142.00h-2M731.8 152.80h-2M731.8 163.60h-2M731.8 174.40h-2M731.8 185.20h-2M731.8 196.00h-2M731.8 206.80h-2" stroke="#555" stroke-width="0.5" fill="none"/>
<g font-family="'Liberation Sans', sans-serif" font-size="5" fill="#666"><text x="747.03" y="219.00" text-anchor="middle">−60</text><text x="763.77" y="219.00" text-anchor="middle">−40</text><text x="780.51" y="219.00" text-anchor="middle">−20</text><text x="797.25" y="219.00" text-anchor="middle">0</text><text x="813.99" y="219.00" text-anchor="middle">20</text><text x="830.73" y="219.00" text-anchor="middle">40</text><text x="847.47" y="219.00" text-anchor="middle">60</text><text x="728.80" y="122.20" text-anchor="end">80</text><text x="728.80" y="133.00" text-anchor="end">60</text><text x="728.80" y="143.80" text-anchor="end">40</text><text x="728.80" y="154.60" text-anchor="end">20</text><text x="728.80" y="165.40" text-anchor="end">0</text><text x="728.80" y="176.20" text-anchor="end">−20</text><text x="728.80" y="187.00" text-anchor="end">−40</text><text x="728.80" y="197.80" text-anchor="end">−60</text><text x="728.80" y="208.60" text-anchor="end">−80</text></g>
<g filter="url(#bl)"><use href="#pM" transform="translate(174.4 0) scale(0.1)" stroke="#8e8e8e" stroke-width="8.5" stroke-linecap="round" fill="none" stroke-opacity="0.55"/><use href="#pE" transform="translate(174.4 0) scale(0.1)" stroke="#8e8e8e" stroke-width="8.5" stroke-linecap="round" fill="none" stroke-opacity="0.55"/><use href="#pT" transform="translate(174.4 0) scale(0.1)" stroke="#4a70c0" stroke-width="15.0" stroke-linecap="round" fill="none"/><use href="#pB" transform="translate(174.4 0) scale(0.1)" stroke="#c8464a" stroke-width="15.0" stroke-linecap="round" fill="none"/></g>
<rect x="906.2" y="117.0" width="131.1" height="93.6" fill="#e5e5e5"/>
<path d="M921.43 117.0V210.6M938.17 117.0V210.6M954.91 117.0V210.6M971.65 117.0V210.6M988.39 117.0V210.6M1005.13 117.0V210.6M1021.87 117.0V210.6M906.2 120.40H1037.3M906.2 131.20H1037.3M906.2 142.00H1037.3M906.2 152.80H1037.3M906.2 163.60H1037.3M906.2 174.40H1037.3M906.2 185.20H1037.3M906.2 196.00H1037.3M906.2 206.80H1037.3" stroke="#ffffff" stroke-width="1.0" fill="none"/>
<path d="M921.43 210.6v2M938.17 210.6v2M954.91 210.6v2M971.65 210.6v2M988.39 210.6v2M1005.13 210.6v2M1021.87 210.6v2M906.2 120.40h-2M906.2 131.20h-2M906.2 142.00h-2M906.2 152.80h-2M906.2 163.60h-2M906.2 174.40h-2M906.2 185.20h-2M906.2 196.00h-2M906.2 206.80h-2" stroke="#555" stroke-width="0.5" fill="none"/>
<g font-family="'Liberation Sans', sans-serif" font-size="5" fill="#666"><text x="921.43" y="219.00" text-anchor="middle">−60</text><text x="938.17" y="219.00" text-anchor="middle">−40</text><text x="954.91" y="219.00" text-anchor="middle">−20</text><text x="971.65" y="219.00" text-anchor="middle">0</text><text x="988.39" y="219.00" text-anchor="middle">20</text><text x="1005.13" y="219.00" text-anchor="middle">40</text><text x="1021.87" y="219.00" text-anchor="middle">60</text><text x="903.20" y="122.20" text-anchor="end">80</text><text x="903.20" y="133.00" text-anchor="end">60</text><text x="903.20" y="143.80" text-anchor="end">40</text><text x="903.20" y="154.60" text-anchor="end">20</text><text x="903.20" y="165.40" text-anchor="end">0</text><text x="903.20" y="176.20" text-anchor="end">−20</text><text x="903.20" y="187.00" text-anchor="end">−40</text><text x="903.20" y="197.80" text-anchor="end">−60</text><text x="903.20" y="208.60" text-anchor="end">−80</text></g>
<g filter="url(#bl)"><use href="#pM" transform="translate(348.8 0) scale(0.1)" stroke="#8e8e8e" stroke-width="8.5" stroke-linecap="round" fill="none" stroke-opacity="0.55"/><use href="#pE" transform="translate(348.8 0) scale(0.1)" stroke="#8e8e8e" stroke-width="8.5" stroke-linecap="round" fill="none" stroke-opacity="0.55"/><use href="#pT" transform="translate(348.8 0) scale(0.1)" stroke="#8e8e8e" stroke-width="8.5" stroke-linecap="round" fill="none" stroke-opacity="0.55"/><use href="#pB" transform="translate(348.8 0) scale(0.1)" stroke="#8e8e8e" stroke-width="8.5" stroke-linecap="round" fill="none" stroke-opacity="0.55"/><use href="#pCR" transform="translate(348.8 0) scale(0.1)" stroke="#c8464a" stroke-width="20.0" stroke-linecap="round" fill="none"/><use href="#pCB" transform="translate(348.8 0) scale(0.1)" stroke="#4a70c0" stroke-width="20.0" stroke-linecap="round" fill="none"/></g>
<rect x="557.4" y="270.4" width="131.1" height="94.2" fill="#e5e5e5"/>
<path d="M567.29 270.4V364.6M595.07 270.4V364.6M622.85 270.4V364.6M650.63 270.4V364.6M678.41 270.4V364.6M557.4 274.20H688.5M557.4 294.53H688.5M557.4 314.85H688.5M557.4 335.18H688.5M557.4 355.50H688.5" stroke="#ffffff" stroke-width="1.0" fill="none"/>
<path d="M567.29 364.6v2M595.07 364.6v2M622.85 364.6v2M650.63 364.6v2M678.41 364.6v2M557.4 274.20h-2M557.4 294.53h-2M557.4 314.85h-2M557.4 335.18h-2M557.4 355.50h-2" stroke="#555" stroke-width="0.5" fill="none"/>
<g font-family="'Liberation Sans', sans-serif" font-size="5" fill="#666"><text x="567.29" y="373.00" text-anchor="middle">−100</text><text x="595.07" y="373.00" text-anchor="middle">−50</text><text x="622.85" y="373.00" text-anchor="middle">0</text><text x="650.63" y="373.00" text-anchor="middle">50</text><text x="678.41" y="373.00" text-anchor="middle">100</text><text x="554.40" y="276.00" text-anchor="end">100</text><text x="554.40" y="296.33" text-anchor="end">50</text><text x="554.40" y="316.65" text-anchor="end">0</text><text x="554.40" y="336.98" text-anchor="end">−50</text><text x="554.40" y="357.30" text-anchor="end">−100</text></g>
<g filter="url(#bl)"><use href="#tR" transform="translate(0.0 0) scale(0.1)" stroke="#2a9296" stroke-width="11.0" stroke-linecap="round" fill="none" stroke-opacity="0.9"/><use href="#tB" transform="translate(0.0 0) scale(0.1)" stroke="#2a9296" stroke-width="11.0" stroke-linecap="round" fill="none" stroke-opacity="0.9"/><use href="#oR" transform="translate(0.0 0) scale(0.1)" stroke="#f7931e" stroke-width="11.0" stroke-linecap="round" fill="none" stroke-opacity="0.9"/><use href="#oB" transform="translate(0.0 0) scale(0.1)" stroke="#f7931e" stroke-width="11.0" stroke-linecap="round" fill="none" stroke-opacity="0.9"/></g>
<rect x="731.8" y="270.4" width="131.2" height="94.2" fill="#e5e5e5"/>
<path d="M741.69 270.4V364.6M769.47 270.4V364.6M797.25 270.4V364.6M825.03 270.4V364.6M852.81 270.4V364.6M731.8 274.20H863.0M731.8 294.53H863.0M731.8 314.85H863.0M731.8 335.18H863.0M731.8 355.50H863.0" stroke="#ffffff" stroke-width="1.0" fill="none"/>
<path d="M741.69 364.6v2M769.47 364.6v2M797.25 364.6v2M825.03 364.6v2M852.81 364.6v2M731.8 274.20h-2M731.8 294.53h-2M731.8 314.85h-2M731.8 335.18h-2M731.8 355.50h-2" stroke="#555" stroke-width="0.5" fill="none"/>
<g font-family="'Liberation Sans', sans-serif" font-size="5" fill="#666"><text x="741.69" y="373.00" text-anchor="middle">−100</text><text x="769.47" y="373.00" text-anchor="middle">−50</text><text x="797.25" y="373.00" text-anchor="middle">0</text><text x="825.03" y="373.00" text-anchor="middle">50</text><text x="852.81" y="373.00" text-anchor="middle">100</text><text x="728.80" y="276.00" text-anchor="end">100</text><text x="728.80" y="296.33" text-anchor="end">50</text><text x="728.80" y="316.65" text-anchor="end">0</text><text x="728.80" y="336.98" text-anchor="end">−50</text><text x="728.80" y="357.30" text-anchor="end">−100</text></g>
<g filter="url(#bl)"><use href="#tR" transform="translate(174.4 0) scale(0.1)" stroke="#a6a6a6" stroke-width="10.0" stroke-linecap="round" fill="none" stroke-opacity="0.7"/><use href="#tB" transform="translate(174.4 0) scale(0.1)" stroke="#a6a6a6" stroke-width="10.0" stroke-linecap="round" fill="none" stroke-opacity="0.7"/><use href="#oR" transform="translate(174.4 0) scale(0.1)" stroke="#c8464a" stroke-width="12.0" stroke-linecap="round" fill="none" stroke-opacity="0.9"/><use href="#oB" transform="translate(174.4 0) scale(0.1)" stroke="#4a70c0" stroke-width="12.0" stroke-linecap="round" fill="none" stroke-opacity="0.9"/></g>
<rect x="906.2" y="270.4" width="131.1" height="94.2" fill="#e5e5e5"/>
<path d="M916.09 270.4V364.6M943.87 270.4V364.6M971.65 270.4V364.6M999.43 270.4V364.6M1027.21 270.4V364.6M906.2 274.20H1037.3M906.2 294.53H1037.3M906.2 314.85H1037.3M906.2 335.18H1037.3M906.2 355.50H1037.3" stroke="#ffffff" stroke-width="1.0" fill="none"/>
<path d="M916.09 364.6v2M943.87 364.6v2M971.65 364.6v2M999.43 364.6v2M1027.21 364.6v2M906.2 274.20h-2M906.2 294.53h-2M906.2 314.85h-2M906.2 335.18h-2M906.2 355.50h-2" stroke="#555" stroke-width="0.5" fill="none"/>
<g font-family="'Liberation Sans', sans-serif" font-size="5" fill="#666"><text x="916.09" y="373.00" text-anchor="middle">−100</text><text x="943.87" y="373.00" text-anchor="middle">−50</text><text x="971.65" y="373.00" text-anchor="middle">0</text><text x="999.43" y="373.00" text-anchor="middle">50</text><text x="1027.21" y="373.00" text-anchor="middle">100</text><text x="903.20" y="276.00" text-anchor="end">100</text><text x="903.20" y="296.33" text-anchor="end">50</text><text x="903.20" y="316.65" text-anchor="end">0</text><text x="903.20" y="336.98" text-anchor="end">−50</text><text x="903.20" y="357.30" text-anchor="end">−100</text></g>
<g filter="url(#bl)"><use href="#oR" transform="translate(348.8 0) scale(0.1)" stroke="#7a7a7a" stroke-width="13.0" stroke-linecap="round" fill="none" stroke-opacity="0.9"/><use href="#oB" transform="translate(348.8 0) scale(0.1)" stroke="#7a7a7a" stroke-width="13.0" stroke-linecap="round" fill="none" stroke-opacity="0.9"/><use href="#tR" transform="translate(348.8 0) scale(0.1)" stroke="#c8464a" stroke-width="12.0" stroke-linecap="round" fill="none" stroke-opacity="0.9"/><use href="#tB" transform="translate(348.8 0) scale(0.1)" stroke="#4a70c0" stroke-width="12.0" stroke-linecap="round" fill="none" stroke-opacity="0.9"/></g>
<text x="548.40" y="248.40" font-family="'Liberation Serif', serif" font-size="15.5" font-weight="bold" fill="#111" textLength="143.40" lengthAdjust="spacingAndGlyphs">(a) Twitter src vs. tar</text>
<text x="733.70" y="248.40" font-family="'Liberation Serif', serif" font-size="15.5" font-weight="bold" fill="#111" textLength="122.20" lengthAdjust="spacingAndGlyphs">(b) Twitter src-cls</text>
<text x="909.20" y="248.40" font-family="'Liberation Serif', serif" font-size="15.5" font-weight="bold" fill="#111" textLength="119.50" lengthAdjust="spacingAndGlyphs">(c) Twitter tar-cls</text>
<text x="539.60" y="402.10" font-family="'Liberation Serif', serif" font-size="15.5" font-weight="bold" fill="#111" textLength="161.40" lengthAdjust="spacingAndGlyphs">(d) Company src vs. tar</text>
<text x="726.00" y="402.10" font-family="'Liberation Serif', serif" font-size="15.5" font-weight="bold" fill="#111" textLength="137.30" lengthAdjust="spacingAndGlyphs">(e) Company src-cls</text>
<text x="900.50" y="402.10" font-family="'Liberation Serif', serif" font-size="15.5" font-weight="bold" fill="#111" textLength="137.20" lengthAdjust="spacingAndGlyphs">(f) Company tar-cls</text>
<text x="546.60" y="456.20" font-family="'Liberation Sans', sans-serif" font-size="18" font-weight="bold" fill="#000" textLength="373.00" lengthAdjust="spacingAndGlyphs" stroke="#000" stroke-width="0.35">3. T-SNE visualization of the node completed</text>
<text x="546.60" y="480.20" font-family="'Liberation Sans', sans-serif" font-size="18" font-weight="bold" fill="#000" textLength="482.60" lengthAdjust="spacingAndGlyphs" stroke="#000" stroke-width="0.35">representations learned by KTGNN, distinguished by their</text>
<text x="547.20" y="504.30" font-family="'Liberation Sans', sans-serif" font-size="18" font-weight="bold" fill="#000" textLength="153.30" lengthAdjust="spacingAndGlyphs" stroke="#000" stroke-width="0.35">populations (vocal</text>
<text transform="translate(706.01 508.39) scale(1 1.479)" font-family="'DejaVu Sans', sans-serif" font-size="20.90" fill="#000" stroke="#000" stroke-width="0.15">→</text>
<text x="727.70" y="504.30" font-family="'Liberation Sans', sans-serif" font-size="18" font-weight="bold" fill="#000" textLength="113.40" lengthAdjust="spacingAndGlyphs" stroke="#000" stroke-width="0.35">orange, silent</text>
<text transform="translate(846.28 508.39) scale(1 1.441)" font-family="'DejaVu Sans', sans-serif" font-size="21.45" fill="#000" stroke="#000" stroke-width="0.15">→</text>
<text x="868.60" y="504.30" font-family="'Liberation Sans', sans-serif" font-size="18" font-weight="bold" fill="#000" textLength="168.00" lengthAdjust="spacingAndGlyphs" stroke="#000" stroke-width="0.35">cyan) or node labels</text>
<text x="547.20" y="528.40" font-family="'Liberation Sans', sans-serif" font-size="18" font-weight="bold" fill="#000" textLength="197.50" lengthAdjust="spacingAndGlyphs" stroke="#000" stroke-width="0.35">(binary classes: positive</text>
<text transform="translate(749.81 532.49) scale(1 1.479)" font-family="'DejaVu Sans', sans-serif" font-size="20.90" fill="#000" stroke="#000" stroke-width="0.15">→</text>
<text x="772.50" y="528.40" font-family="'Liberation Sans', sans-serif" font-size="18" font-weight="bold" fill="#000" textLength="108.90" lengthAdjust="spacingAndGlyphs" stroke="#000" stroke-width="0.35">red, negative</text>
<text transform="translate(887.01 532.49) scale(1 1.479)" font-family="'DejaVu Sans', sans-serif" font-size="20.90" fill="#000" stroke="#000" stroke-width="0.15">→</text>
<text x="908.70" y="528.40" font-family="'Liberation Sans', sans-serif" font-size="18" font-weight="bold" fill="#000" textLength="47.50" lengthAdjust="spacingAndGlyphs" stroke="#000" stroke-width="0.35">blue).</text>
<text x="8.40" y="600.40" font-family="'Liberation Sans', sans-serif" font-size="17.5" fill="#000" textLength="101.80" lengthAdjust="spacingAndGlyphs">Wendong Bi</text>
<rect x="218.5" y="580.7" width="683.7" height="27.3" fill="#dce6f2"/>
<text x="225.90" y="600.70" font-family="'Liberation Serif', serif" font-size="16" fill="#000" textLength="661.50" lengthAdjust="spacingAndGlyphs" xml:space="preserve">“Predicting the Silent Majority on Graphs:  Knowledge Transferable Graph Neural Network”  WWW’23</text>
<text x="1044.40" y="598.50" font-family="'Liberation Sans', sans-serif" font-size="15.6" fill="#000" textLength="19.00" lengthAdjust="spacingAndGlyphs">22</text>
</svg></body></html>
